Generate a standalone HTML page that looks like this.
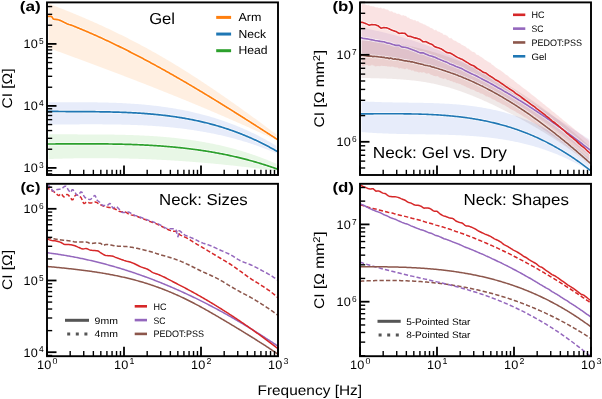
<!DOCTYPE html>
<html><head><meta charset="utf-8"><style>html,body{margin:0;padding:0;background:#fff;}svg{display:block;will-change:transform;text-rendering:geometricPrecision;font-family:"Liberation Sans", sans-serif;}</style></head><body>
<svg xmlns="http://www.w3.org/2000/svg" width="602" height="399" viewBox="0 0 602 399">
<rect x="0" y="0" width="602" height="399" fill="#fff"/>
<defs>
<clipPath id="clipa"><rect x="47" y="2.4" width="231" height="172.6"/></clipPath>
<clipPath id="bclipa"><rect x="48.6" y="4.0" width="227.8" height="169.4"/></clipPath>
<clipPath id="clipb"><rect x="360" y="2.4" width="231" height="172.6"/></clipPath>
<clipPath id="bclipb"><rect x="361.6" y="4.0" width="227.8" height="169.4"/></clipPath>
<clipPath id="clipc"><rect x="47" y="183.8" width="231" height="172.39999999999998"/></clipPath>
<clipPath id="bclipc"><rect x="48.6" y="185.4" width="227.8" height="169.2"/></clipPath>
<clipPath id="clipd"><rect x="360" y="183.8" width="231" height="172.39999999999998"/></clipPath>
<clipPath id="bclipd"><rect x="361.6" y="185.4" width="227.8" height="169.2"/></clipPath>
</defs>
<path d="M47.0,3.08 L48.0,3.45 L49.0,3.82 L50.0,4.20 L51.0,4.58 L52.0,4.96 L53.0,5.34 L54.0,5.72 L55.0,6.10 L56.0,6.49 L57.0,6.87 L58.0,7.26 L59.0,7.65 L60.0,8.04 L61.0,8.43 L62.0,8.82 L63.0,9.22 L64.0,9.61 L65.0,10.01 L66.0,10.41 L67.0,10.81 L68.0,11.21 L69.0,11.61 L70.0,12.02 L71.0,12.43 L72.0,12.83 L73.0,13.24 L74.0,13.66 L75.0,14.07 L76.0,14.48 L77.0,14.90 L78.0,15.32 L79.0,15.73 L80.0,16.15 L81.0,16.58 L82.0,17.00 L83.0,17.43 L84.0,17.85 L85.0,18.28 L86.0,18.71 L87.0,19.14 L88.0,19.58 L89.0,20.01 L90.0,20.45 L91.0,20.89 L92.0,21.33 L93.0,21.77 L94.0,22.22 L95.0,22.66 L96.0,23.11 L97.0,23.56 L98.0,24.01 L99.0,24.46 L100.0,24.91 L101.0,25.37 L102.0,25.83 L103.0,26.29 L104.0,26.75 L105.0,27.21 L106.0,27.68 L107.0,28.14 L108.0,28.61 L109.0,29.08 L110.0,29.55 L111.0,30.03 L112.0,30.50 L113.0,30.98 L114.0,31.46 L115.0,31.94 L116.0,32.42 L117.0,32.91 L118.0,33.40 L119.0,33.89 L120.0,34.38 L121.0,34.87 L122.0,35.36 L123.0,35.86 L124.0,36.36 L125.0,36.86 L126.0,37.36 L127.0,37.87 L128.0,38.37 L129.0,38.88 L130.0,39.39 L131.0,39.90 L132.0,40.42 L133.0,40.93 L134.0,41.45 L135.0,41.97 L136.0,42.49 L137.0,43.02 L138.0,43.54 L139.0,44.07 L140.0,44.60 L141.0,45.14 L142.0,45.67 L143.0,46.21 L144.0,46.75 L145.0,47.29 L146.0,47.83 L147.0,48.37 L148.0,48.92 L149.0,49.47 L150.0,50.02 L151.0,50.57 L152.0,51.13 L153.0,51.69 L154.0,52.25 L155.0,52.81 L156.0,53.37 L157.0,53.94 L158.0,54.51 L159.0,55.08 L160.0,55.65 L161.0,56.23 L162.0,56.81 L163.0,57.39 L164.0,57.97 L165.0,58.55 L166.0,59.14 L167.0,59.73 L168.0,60.32 L169.0,60.91 L170.0,61.51 L171.0,62.11 L172.0,62.71 L173.0,63.31 L174.0,63.91 L175.0,64.52 L176.0,65.13 L177.0,65.74 L178.0,66.35 L179.0,66.96 L180.0,67.58 L181.0,68.20 L182.0,68.82 L183.0,69.44 L184.0,70.07 L185.0,70.70 L186.0,71.32 L187.0,71.96 L188.0,72.59 L189.0,73.22 L190.0,73.86 L191.0,74.50 L192.0,75.14 L193.0,75.78 L194.0,76.42 L195.0,77.07 L196.0,77.72 L197.0,78.37 L198.0,79.02 L199.0,79.67 L200.0,80.33 L201.0,80.98 L202.0,81.64 L203.0,82.30 L204.0,82.96 L205.0,83.63 L206.0,84.29 L207.0,84.96 L208.0,85.63 L209.0,86.30 L210.0,86.97 L211.0,87.64 L212.0,88.32 L213.0,89.00 L214.0,89.67 L215.0,90.35 L216.0,91.03 L217.0,91.72 L218.0,92.40 L219.0,93.09 L220.0,93.77 L221.0,94.46 L222.0,95.15 L223.0,95.84 L224.0,96.54 L225.0,97.23 L226.0,97.93 L227.0,98.62 L228.0,99.32 L229.0,100.02 L230.0,100.72 L231.0,101.42 L232.0,102.13 L233.0,102.83 L234.0,103.54 L235.0,104.24 L236.0,104.95 L237.0,105.66 L238.0,106.37 L239.0,107.08 L240.0,107.80 L241.0,108.51 L242.0,109.23 L243.0,109.94 L244.0,110.66 L245.0,111.38 L246.0,112.10 L247.0,112.82 L248.0,113.54 L249.0,114.26 L250.0,114.99 L251.0,115.71 L252.0,116.44 L253.0,117.17 L254.0,117.89 L255.0,118.62 L256.0,119.35 L257.0,120.08 L258.0,120.81 L259.0,121.55 L260.0,122.28 L261.0,123.01 L262.0,123.75 L263.0,124.48 L264.0,125.22 L265.0,125.96 L266.0,126.69 L267.0,127.43 L268.0,128.17 L269.0,128.91 L270.0,129.65 L271.0,130.39 L272.0,131.14 L273.0,131.88 L274.0,132.62 L275.0,133.37 L276.0,134.11 L277.0,134.86 L278.0,135.60 L278.0,140.93 L277.0,140.46 L276.0,139.99 L275.0,139.52 L274.0,139.05 L273.0,138.58 L272.0,138.11 L271.0,137.65 L270.0,137.18 L269.0,136.72 L268.0,136.25 L267.0,135.79 L266.0,135.33 L265.0,134.86 L264.0,134.40 L263.0,133.94 L262.0,133.48 L261.0,133.02 L260.0,132.56 L259.0,132.11 L258.0,131.65 L257.0,131.19 L256.0,130.74 L255.0,130.28 L254.0,129.83 L253.0,129.38 L252.0,128.92 L251.0,128.47 L250.0,128.02 L249.0,127.57 L248.0,127.12 L247.0,126.67 L246.0,126.22 L245.0,125.78 L244.0,125.33 L243.0,124.88 L242.0,124.44 L241.0,123.99 L240.0,123.55 L239.0,123.11 L238.0,122.66 L237.0,122.22 L236.0,121.78 L235.0,121.34 L234.0,120.90 L233.0,120.46 L232.0,120.02 L231.0,119.58 L230.0,119.15 L229.0,118.71 L228.0,118.27 L227.0,117.84 L226.0,117.41 L225.0,116.97 L224.0,116.54 L223.0,116.11 L222.0,115.67 L221.0,115.24 L220.0,114.81 L219.0,114.38 L218.0,113.95 L217.0,113.52 L216.0,113.10 L215.0,112.67 L214.0,112.24 L213.0,111.81 L212.0,111.39 L211.0,110.96 L210.0,110.54 L209.0,110.12 L208.0,109.69 L207.0,109.27 L206.0,108.85 L205.0,108.43 L204.0,108.01 L203.0,107.59 L202.0,107.17 L201.0,106.75 L200.0,106.33 L199.0,105.91 L198.0,105.49 L197.0,105.08 L196.0,104.66 L195.0,104.24 L194.0,103.83 L193.0,103.42 L192.0,103.00 L191.0,102.59 L190.0,102.18 L189.0,101.76 L188.0,101.35 L187.0,100.94 L186.0,100.53 L185.0,100.12 L184.0,99.71 L183.0,99.30 L182.0,98.89 L181.0,98.48 L180.0,98.08 L179.0,97.67 L178.0,97.26 L177.0,96.86 L176.0,96.45 L175.0,96.05 L174.0,95.64 L173.0,95.24 L172.0,94.84 L171.0,94.43 L170.0,94.03 L169.0,93.63 L168.0,93.23 L167.0,92.83 L166.0,92.43 L165.0,92.03 L164.0,91.63 L163.0,91.23 L162.0,90.83 L161.0,90.43 L160.0,90.03 L159.0,89.64 L158.0,89.24 L157.0,88.84 L156.0,88.45 L155.0,88.05 L154.0,87.66 L153.0,87.26 L152.0,86.87 L151.0,86.47 L150.0,86.08 L149.0,85.69 L148.0,85.30 L147.0,84.90 L146.0,84.51 L145.0,84.12 L144.0,83.73 L143.0,83.34 L142.0,82.95 L141.0,82.56 L140.0,82.17 L139.0,81.78 L138.0,81.40 L137.0,81.01 L136.0,80.62 L135.0,80.23 L134.0,79.85 L133.0,79.46 L132.0,79.08 L131.0,78.69 L130.0,78.31 L129.0,77.92 L128.0,77.54 L127.0,77.15 L126.0,76.77 L125.0,76.39 L124.0,76.00 L123.0,75.62 L122.0,75.24 L121.0,74.86 L120.0,74.48 L119.0,74.09 L118.0,73.71 L117.0,73.33 L116.0,72.95 L115.0,72.57 L114.0,72.19 L113.0,71.82 L112.0,71.44 L111.0,71.06 L110.0,70.68 L109.0,70.30 L108.0,69.93 L107.0,69.55 L106.0,69.17 L105.0,68.79 L104.0,68.42 L103.0,68.04 L102.0,67.67 L101.0,67.29 L100.0,66.92 L99.0,66.54 L98.0,66.17 L97.0,65.79 L96.0,65.42 L95.0,65.05 L94.0,64.67 L93.0,64.30 L92.0,63.93 L91.0,63.55 L90.0,63.18 L89.0,62.81 L88.0,62.44 L87.0,62.07 L86.0,61.70 L85.0,61.32 L84.0,60.95 L83.0,60.58 L82.0,60.21 L81.0,59.84 L80.0,59.47 L79.0,59.10 L78.0,58.73 L77.0,58.37 L76.0,58.00 L75.0,57.63 L74.0,57.26 L73.0,56.89 L72.0,56.52 L71.0,56.16 L70.0,55.79 L69.0,55.42 L68.0,55.05 L67.0,54.69 L66.0,54.32 L65.0,53.95 L64.0,53.59 L63.0,53.22 L62.0,52.85 L61.0,52.49 L60.0,52.12 L59.0,51.76 L58.0,51.39 L57.0,51.03 L56.0,50.66 L55.0,50.30 L54.0,49.93 L53.0,49.57 L52.0,49.20 L51.0,48.84 L50.0,48.48 L49.0,48.11 L48.0,47.75 L47.0,47.38Z" fill="#ff7f0e" fill-opacity="0.125" clip-path="url(#bclipa)"/>
<path d="M47.0,102.26 L48.0,102.26 L49.0,102.26 L50.0,102.25 L51.0,102.25 L52.0,102.25 L53.0,102.25 L54.0,102.25 L55.0,102.24 L56.0,102.24 L57.0,102.24 L58.0,102.24 L59.0,102.23 L60.0,102.23 L61.0,102.23 L62.0,102.23 L63.0,102.22 L64.0,102.22 L65.0,102.22 L66.0,102.22 L67.0,102.21 L68.0,102.21 L69.0,102.21 L70.0,102.21 L71.0,102.21 L72.0,102.21 L73.0,102.21 L74.0,102.21 L75.0,102.21 L76.0,102.21 L77.0,102.21 L78.0,102.21 L79.0,102.21 L80.0,102.22 L81.0,102.22 L82.0,102.22 L83.0,102.23 L84.0,102.23 L85.0,102.24 L86.0,102.24 L87.0,102.25 L88.0,102.26 L89.0,102.27 L90.0,102.27 L91.0,102.28 L92.0,102.29 L93.0,102.31 L94.0,102.32 L95.0,102.33 L96.0,102.35 L97.0,102.36 L98.0,102.38 L99.0,102.39 L100.0,102.41 L101.0,102.43 L102.0,102.45 L103.0,102.47 L104.0,102.50 L105.0,102.52 L106.0,102.54 L107.0,102.57 L108.0,102.60 L109.0,102.63 L110.0,102.66 L111.0,102.69 L112.0,102.72 L113.0,102.75 L114.0,102.79 L115.0,102.83 L116.0,102.86 L117.0,102.90 L118.0,102.94 L119.0,102.99 L120.0,103.03 L121.0,103.08 L122.0,103.12 L123.0,103.17 L124.0,103.22 L125.0,103.28 L126.0,103.33 L127.0,103.38 L128.0,103.44 L129.0,103.50 L130.0,103.56 L131.0,103.63 L132.0,103.69 L133.0,103.76 L134.0,103.83 L135.0,103.90 L136.0,103.97 L137.0,104.04 L138.0,104.12 L139.0,104.20 L140.0,104.28 L141.0,104.36 L142.0,104.45 L143.0,104.53 L144.0,104.62 L145.0,104.71 L146.0,104.81 L147.0,104.90 L148.0,105.00 L149.0,105.10 L150.0,105.20 L151.0,105.31 L152.0,105.41 L153.0,105.52 L154.0,105.64 L155.0,105.75 L156.0,105.87 L157.0,105.99 L158.0,106.11 L159.0,106.24 L160.0,106.36 L161.0,106.49 L162.0,106.63 L163.0,106.76 L164.0,106.90 L165.0,107.04 L166.0,107.18 L167.0,107.33 L168.0,107.48 L169.0,107.63 L170.0,107.78 L171.0,107.94 L172.0,108.10 L173.0,108.27 L174.0,108.43 L175.0,108.60 L176.0,108.77 L177.0,108.95 L178.0,109.13 L179.0,109.31 L180.0,109.49 L181.0,109.68 L182.0,109.87 L183.0,110.07 L184.0,110.26 L185.0,110.46 L186.0,110.67 L187.0,110.87 L188.0,111.08 L189.0,111.30 L190.0,111.52 L191.0,111.74 L192.0,111.96 L193.0,112.19 L194.0,112.42 L195.0,112.65 L196.0,112.89 L197.0,113.13 L198.0,113.38 L199.0,113.62 L200.0,113.88 L201.0,114.13 L202.0,114.39 L203.0,114.66 L204.0,114.92 L205.0,115.19 L206.0,115.47 L207.0,115.75 L208.0,116.03 L209.0,116.31 L210.0,116.60 L211.0,116.90 L212.0,117.20 L213.0,117.50 L214.0,117.80 L215.0,118.11 L216.0,118.43 L217.0,118.75 L218.0,119.07 L219.0,119.39 L220.0,119.72 L221.0,120.06 L222.0,120.40 L223.0,120.74 L224.0,121.09 L225.0,121.44 L226.0,121.79 L227.0,122.15 L228.0,122.52 L229.0,122.89 L230.0,123.26 L231.0,123.64 L232.0,124.02 L233.0,124.41 L234.0,124.80 L235.0,125.19 L236.0,125.59 L237.0,126.00 L238.0,126.41 L239.0,126.82 L240.0,127.24 L241.0,127.66 L242.0,128.09 L243.0,128.52 L244.0,128.96 L245.0,129.40 L246.0,129.85 L247.0,130.30 L248.0,130.76 L249.0,131.22 L250.0,131.69 L251.0,132.16 L252.0,132.64 L253.0,133.12 L254.0,133.61 L255.0,134.10 L256.0,134.60 L257.0,135.10 L258.0,135.61 L259.0,136.12 L260.0,136.64 L261.0,137.16 L262.0,137.69 L263.0,138.22 L264.0,138.76 L265.0,139.30 L266.0,139.85 L267.0,140.41 L268.0,140.97 L269.0,141.53 L270.0,142.10 L271.0,142.68 L272.0,143.26 L273.0,143.85 L274.0,144.44 L275.0,145.04 L276.0,145.64 L277.0,146.25 L278.0,146.87 L278.0,153.97 L277.0,153.54 L276.0,153.11 L275.0,152.68 L274.0,152.26 L273.0,151.84 L272.0,151.43 L271.0,151.02 L270.0,150.61 L269.0,150.21 L268.0,149.81 L267.0,149.42 L266.0,149.03 L265.0,148.64 L264.0,148.26 L263.0,147.88 L262.0,147.51 L261.0,147.14 L260.0,146.77 L259.0,146.41 L258.0,146.05 L257.0,145.70 L256.0,145.35 L255.0,145.00 L254.0,144.66 L253.0,144.32 L252.0,143.99 L251.0,143.65 L250.0,143.33 L249.0,143.00 L248.0,142.68 L247.0,142.36 L246.0,142.05 L245.0,141.74 L244.0,141.44 L243.0,141.13 L242.0,140.84 L241.0,140.54 L240.0,140.25 L239.0,139.96 L238.0,139.67 L237.0,139.39 L236.0,139.12 L235.0,138.84 L234.0,138.57 L233.0,138.30 L232.0,138.04 L231.0,137.78 L230.0,137.52 L229.0,137.26 L228.0,137.01 L227.0,136.76 L226.0,136.52 L225.0,136.28 L224.0,136.04 L223.0,135.80 L222.0,135.57 L221.0,135.34 L220.0,135.12 L219.0,134.89 L218.0,134.67 L217.0,134.46 L216.0,134.24 L215.0,134.03 L214.0,133.82 L213.0,133.62 L212.0,133.42 L211.0,133.22 L210.0,133.02 L209.0,132.83 L208.0,132.64 L207.0,132.45 L206.0,132.26 L205.0,132.08 L204.0,131.90 L203.0,131.73 L202.0,131.55 L201.0,131.38 L200.0,131.21 L199.0,131.05 L198.0,130.88 L197.0,130.72 L196.0,130.57 L195.0,130.41 L194.0,130.26 L193.0,130.11 L192.0,129.96 L191.0,129.81 L190.0,129.67 L189.0,129.53 L188.0,129.39 L187.0,129.26 L186.0,129.12 L185.0,128.99 L184.0,128.86 L183.0,128.74 L182.0,128.61 L181.0,128.49 L180.0,128.37 L179.0,128.26 L178.0,128.14 L177.0,128.03 L176.0,127.92 L175.0,127.81 L174.0,127.71 L173.0,127.60 L172.0,127.50 L171.0,127.40 L170.0,127.30 L169.0,127.21 L168.0,127.11 L167.0,127.02 L166.0,126.93 L165.0,126.84 L164.0,126.76 L163.0,126.67 L162.0,126.59 L161.0,126.51 L160.0,126.43 L159.0,126.36 L158.0,126.28 L157.0,126.21 L156.0,126.14 L155.0,126.07 L154.0,126.00 L153.0,125.94 L152.0,125.87 L151.0,125.81 L150.0,125.75 L149.0,125.69 L148.0,125.63 L147.0,125.58 L146.0,125.52 L145.0,125.47 L144.0,125.42 L143.0,125.37 L142.0,125.32 L141.0,125.27 L140.0,125.23 L139.0,125.19 L138.0,125.14 L137.0,125.10 L136.0,125.06 L135.0,125.02 L134.0,124.99 L133.0,124.95 L132.0,124.92 L131.0,124.88 L130.0,124.85 L129.0,124.82 L128.0,124.79 L127.0,124.76 L126.0,124.73 L125.0,124.71 L124.0,124.68 L123.0,124.66 L122.0,124.64 L121.0,124.61 L120.0,124.59 L119.0,124.57 L118.0,124.56 L117.0,124.54 L116.0,124.52 L115.0,124.51 L114.0,124.49 L113.0,124.48 L112.0,124.46 L111.0,124.45 L110.0,124.44 L109.0,124.43 L108.0,124.42 L107.0,124.41 L106.0,124.40 L105.0,124.39 L104.0,124.39 L103.0,124.38 L102.0,124.37 L101.0,124.37 L100.0,124.36 L99.0,124.36 L98.0,124.36 L97.0,124.35 L96.0,124.35 L95.0,124.35 L94.0,124.35 L93.0,124.35 L92.0,124.35 L91.0,124.35 L90.0,124.35 L89.0,124.35 L88.0,124.35 L87.0,124.35 L86.0,124.36 L85.0,124.36 L84.0,124.36 L83.0,124.36 L82.0,124.37 L81.0,124.37 L80.0,124.37 L79.0,124.38 L78.0,124.38 L77.0,124.39 L76.0,124.39 L75.0,124.39 L74.0,124.40 L73.0,124.40 L72.0,124.41 L71.0,124.41 L70.0,124.42 L69.0,124.42 L68.0,124.43 L67.0,124.43 L66.0,124.44 L65.0,124.44 L64.0,124.44 L63.0,124.45 L62.0,124.45 L61.0,124.46 L60.0,124.46 L59.0,124.46 L58.0,124.47 L57.0,124.47 L56.0,124.47 L55.0,124.47 L54.0,124.48 L53.0,124.48 L52.0,124.48 L51.0,124.48 L50.0,124.48 L49.0,124.48 L48.0,124.48 L47.0,124.48Z" fill="#3761d5" fill-opacity="0.12" clip-path="url(#bclipa)"/>
<path d="M47.0,134.22 L48.0,134.23 L49.0,134.24 L50.0,134.25 L51.0,134.26 L52.0,134.27 L53.0,134.28 L54.0,134.29 L55.0,134.29 L56.0,134.30 L57.0,134.31 L58.0,134.31 L59.0,134.32 L60.0,134.32 L61.0,134.33 L62.0,134.33 L63.0,134.34 L64.0,134.34 L65.0,134.35 L66.0,134.35 L67.0,134.35 L68.0,134.36 L69.0,134.36 L70.0,134.36 L71.0,134.36 L72.0,134.36 L73.0,134.37 L74.0,134.37 L75.0,134.37 L76.0,134.37 L77.0,134.37 L78.0,134.38 L79.0,134.38 L80.0,134.38 L81.0,134.38 L82.0,134.38 L83.0,134.39 L84.0,134.39 L85.0,134.39 L86.0,134.39 L87.0,134.40 L88.0,134.40 L89.0,134.40 L90.0,134.40 L91.0,134.41 L92.0,134.41 L93.0,134.42 L94.0,134.42 L95.0,134.43 L96.0,134.43 L97.0,134.44 L98.0,134.44 L99.0,134.45 L100.0,134.46 L101.0,134.47 L102.0,134.47 L103.0,134.48 L104.0,134.49 L105.0,134.50 L106.0,134.51 L107.0,134.52 L108.0,134.53 L109.0,134.55 L110.0,134.56 L111.0,134.57 L112.0,134.59 L113.0,134.60 L114.0,134.62 L115.0,134.64 L116.0,134.65 L117.0,134.67 L118.0,134.69 L119.0,134.71 L120.0,134.73 L121.0,134.76 L122.0,134.78 L123.0,134.80 L124.0,134.83 L125.0,134.86 L126.0,134.88 L127.0,134.91 L128.0,134.94 L129.0,134.97 L130.0,135.00 L131.0,135.04 L132.0,135.07 L133.0,135.11 L134.0,135.14 L135.0,135.18 L136.0,135.22 L137.0,135.26 L138.0,135.30 L139.0,135.34 L140.0,135.39 L141.0,135.44 L142.0,135.48 L143.0,135.53 L144.0,135.58 L145.0,135.63 L146.0,135.69 L147.0,135.74 L148.0,135.80 L149.0,135.85 L150.0,135.91 L151.0,135.97 L152.0,136.04 L153.0,136.10 L154.0,136.17 L155.0,136.23 L156.0,136.30 L157.0,136.37 L158.0,136.45 L159.0,136.52 L160.0,136.60 L161.0,136.68 L162.0,136.76 L163.0,136.84 L164.0,136.92 L165.0,137.01 L166.0,137.10 L167.0,137.18 L168.0,137.28 L169.0,137.37 L170.0,137.47 L171.0,137.56 L172.0,137.66 L173.0,137.76 L174.0,137.87 L175.0,137.97 L176.0,138.08 L177.0,138.19 L178.0,138.31 L179.0,138.42 L180.0,138.54 L181.0,138.66 L182.0,138.78 L183.0,138.90 L184.0,139.03 L185.0,139.16 L186.0,139.29 L187.0,139.42 L188.0,139.56 L189.0,139.70 L190.0,139.84 L191.0,139.98 L192.0,140.13 L193.0,140.27 L194.0,140.43 L195.0,140.58 L196.0,140.74 L197.0,140.89 L198.0,141.06 L199.0,141.22 L200.0,141.39 L201.0,141.56 L202.0,141.73 L203.0,141.90 L204.0,142.08 L205.0,142.26 L206.0,142.44 L207.0,142.63 L208.0,142.82 L209.0,143.01 L210.0,143.21 L211.0,143.40 L212.0,143.60 L213.0,143.81 L214.0,144.02 L215.0,144.23 L216.0,144.44 L217.0,144.65 L218.0,144.87 L219.0,145.09 L220.0,145.32 L221.0,145.55 L222.0,145.78 L223.0,146.01 L224.0,146.25 L225.0,146.49 L226.0,146.74 L227.0,146.99 L228.0,147.24 L229.0,147.49 L230.0,147.75 L231.0,148.01 L232.0,148.28 L233.0,148.54 L234.0,148.81 L235.0,149.09 L236.0,149.37 L237.0,149.65 L238.0,149.94 L239.0,150.22 L240.0,150.52 L241.0,150.81 L242.0,151.11 L243.0,151.42 L244.0,151.72 L245.0,152.03 L246.0,152.35 L247.0,152.67 L248.0,152.99 L249.0,153.31 L250.0,153.64 L251.0,153.98 L252.0,154.31 L253.0,154.66 L254.0,155.00 L255.0,155.35 L256.0,155.70 L257.0,156.06 L258.0,156.42 L259.0,156.78 L260.0,157.15 L261.0,157.53 L262.0,157.90 L263.0,158.28 L264.0,158.67 L265.0,159.06 L266.0,159.45 L267.0,159.85 L268.0,160.25 L269.0,160.66 L270.0,161.07 L271.0,161.48 L272.0,161.90 L273.0,162.32 L274.0,162.75 L275.0,163.18 L276.0,163.62 L277.0,164.06 L278.0,164.50 L278.0,171.33 L277.0,171.18 L276.0,171.04 L275.0,170.90 L274.0,170.76 L273.0,170.62 L272.0,170.48 L271.0,170.34 L270.0,170.20 L269.0,170.06 L268.0,169.92 L267.0,169.79 L266.0,169.65 L265.0,169.51 L264.0,169.38 L263.0,169.25 L262.0,169.12 L261.0,168.98 L260.0,168.85 L259.0,168.72 L258.0,168.59 L257.0,168.47 L256.0,168.34 L255.0,168.21 L254.0,168.08 L253.0,167.96 L252.0,167.84 L251.0,167.71 L250.0,167.59 L249.0,167.47 L248.0,167.35 L247.0,167.22 L246.0,167.11 L245.0,166.99 L244.0,166.87 L243.0,166.75 L242.0,166.63 L241.0,166.52 L240.0,166.40 L239.0,166.29 L238.0,166.18 L237.0,166.06 L236.0,165.95 L235.0,165.84 L234.0,165.73 L233.0,165.62 L232.0,165.51 L231.0,165.41 L230.0,165.30 L229.0,165.19 L228.0,165.09 L227.0,164.98 L226.0,164.88 L225.0,164.78 L224.0,164.67 L223.0,164.57 L222.0,164.47 L221.0,164.37 L220.0,164.27 L219.0,164.18 L218.0,164.08 L217.0,163.98 L216.0,163.89 L215.0,163.79 L214.0,163.70 L213.0,163.60 L212.0,163.51 L211.0,163.42 L210.0,163.33 L209.0,163.24 L208.0,163.15 L207.0,163.06 L206.0,162.97 L205.0,162.89 L204.0,162.80 L203.0,162.71 L202.0,162.63 L201.0,162.55 L200.0,162.46 L199.0,162.38 L198.0,162.30 L197.0,162.22 L196.0,162.14 L195.0,162.06 L194.0,161.98 L193.0,161.90 L192.0,161.83 L191.0,161.75 L190.0,161.68 L189.0,161.60 L188.0,161.53 L187.0,161.46 L186.0,161.38 L185.0,161.31 L184.0,161.24 L183.0,161.17 L182.0,161.10 L181.0,161.04 L180.0,160.97 L179.0,160.90 L178.0,160.84 L177.0,160.77 L176.0,160.71 L175.0,160.65 L174.0,160.58 L173.0,160.52 L172.0,160.46 L171.0,160.40 L170.0,160.34 L169.0,160.28 L168.0,160.23 L167.0,160.17 L166.0,160.11 L165.0,160.06 L164.0,160.00 L163.0,159.95 L162.0,159.90 L161.0,159.85 L160.0,159.79 L159.0,159.74 L158.0,159.69 L157.0,159.65 L156.0,159.60 L155.0,159.55 L154.0,159.50 L153.0,159.46 L152.0,159.41 L151.0,159.37 L150.0,159.33 L149.0,159.28 L148.0,159.24 L147.0,159.20 L146.0,159.16 L145.0,159.12 L144.0,159.08 L143.0,159.05 L142.0,159.01 L141.0,158.97 L140.0,158.94 L139.0,158.90 L138.0,158.87 L137.0,158.84 L136.0,158.80 L135.0,158.77 L134.0,158.74 L133.0,158.71 L132.0,158.68 L131.0,158.66 L130.0,158.63 L129.0,158.60 L128.0,158.58 L127.0,158.55 L126.0,158.53 L125.0,158.50 L124.0,158.48 L123.0,158.46 L122.0,158.44 L121.0,158.42 L120.0,158.40 L119.0,158.38 L118.0,158.36 L117.0,158.34 L116.0,158.33 L115.0,158.31 L114.0,158.30 L113.0,158.28 L112.0,158.27 L111.0,158.26 L110.0,158.25 L109.0,158.24 L108.0,158.23 L107.0,158.22 L106.0,158.21 L105.0,158.20 L104.0,158.20 L103.0,158.19 L102.0,158.18 L101.0,158.18 L100.0,158.18 L99.0,158.17 L98.0,158.17 L97.0,158.17 L96.0,158.17 L95.0,158.17 L94.0,158.17 L93.0,158.17 L92.0,158.18 L91.0,158.18 L90.0,158.19 L89.0,158.19 L88.0,158.20 L87.0,158.20 L86.0,158.21 L85.0,158.22 L84.0,158.23 L83.0,158.24 L82.0,158.25 L81.0,158.26 L80.0,158.27 L79.0,158.29 L78.0,158.30 L77.0,158.32 L76.0,158.33 L75.0,158.35 L74.0,158.36 L73.0,158.38 L72.0,158.40 L71.0,158.42 L70.0,158.44 L69.0,158.46 L68.0,158.48 L67.0,158.51 L66.0,158.53 L65.0,158.56 L64.0,158.58 L63.0,158.61 L62.0,158.63 L61.0,158.66 L60.0,158.69 L59.0,158.72 L58.0,158.75 L57.0,158.78 L56.0,158.81 L55.0,158.84 L54.0,158.87 L53.0,158.91 L52.0,158.94 L51.0,158.98 L50.0,159.01 L49.0,159.05 L48.0,159.09 L47.0,159.13Z" fill="#3fbc2f" fill-opacity="0.12" clip-path="url(#bclipa)"/>
<polyline points="47.0,16.30 48.0,16.30 49.0,16.30 50.0,16.30 51.0,16.30 52.0,16.93 53.0,18.65 54.0,19.22 55.0,19.37 56.0,19.46 57.0,19.55 58.0,19.70 59.0,19.98 60.0,20.37 61.0,20.80 62.0,21.26 63.0,21.78 64.0,22.30 65.0,22.78 66.0,23.24 67.0,23.68 68.0,24.09 69.0,24.44 70.0,24.75 71.0,25.07 72.0,25.42 73.0,25.81 74.0,26.22 75.0,26.63 76.0,27.05 77.0,27.46 78.0,27.87 79.0,28.29 80.0,28.71 81.0,29.12 82.0,29.54 83.0,29.96 84.0,30.37 85.0,30.79 86.0,31.21 87.0,31.62 88.0,32.05 89.0,32.49 90.0,32.92 91.0,33.36 92.0,33.80 93.0,34.24 94.0,34.69 95.0,35.13 96.0,35.58 97.0,36.03 98.0,36.48 99.0,36.93 100.0,37.39 101.0,37.84 102.0,38.30 103.0,38.76 104.0,39.23 105.0,39.69 106.0,40.16 107.0,40.63 108.0,41.10 109.0,41.57 110.0,42.04 111.0,42.52 112.0,42.99 113.0,43.47 114.0,43.95 115.0,44.44 116.0,44.92 117.0,45.41 118.0,45.89 119.0,46.38 120.0,46.87 121.0,47.37 122.0,47.86 123.0,48.36 124.0,48.85 125.0,49.35 126.0,49.86 127.0,50.36 128.0,50.86 129.0,51.37 130.0,51.88 131.0,52.39 132.0,52.90 133.0,53.41 134.0,53.92 135.0,54.44 136.0,54.96 137.0,55.47 138.0,55.99 139.0,56.52 140.0,57.04 141.0,57.57 142.0,58.09 143.0,58.62 144.0,59.15 145.0,59.68 146.0,60.21 147.0,60.75 148.0,61.28 149.0,61.82 150.0,62.36 151.0,62.90 152.0,63.44 153.0,63.98 154.0,64.52 155.0,65.07 156.0,65.62 157.0,66.16 158.0,66.71 159.0,67.26 160.0,67.82 161.0,68.37 162.0,68.92 163.0,69.48 164.0,70.04 165.0,70.60 166.0,71.16 167.0,71.72 168.0,72.28 169.0,72.84 170.0,73.41 171.0,73.98 172.0,74.54 173.0,75.11 174.0,75.68 175.0,76.25 176.0,76.83 177.0,77.40 178.0,77.97 179.0,78.55 180.0,79.13 181.0,79.71 182.0,80.29 183.0,80.87 184.0,81.45 185.0,82.03 186.0,82.61 187.0,83.20 188.0,83.79 189.0,84.37 190.0,84.96 191.0,85.55 192.0,86.14 193.0,86.73 194.0,87.33 195.0,87.92 196.0,88.51 197.0,89.11 198.0,89.71 199.0,90.30 200.0,90.90 201.0,91.50 202.0,92.10 203.0,92.70 204.0,93.31 205.0,93.91 206.0,94.51 207.0,95.12 208.0,95.73 209.0,96.33 210.0,96.94 211.0,97.55 212.0,98.16 213.0,98.77 214.0,99.38 215.0,99.99 216.0,100.61 217.0,101.22 218.0,101.84 219.0,102.45 220.0,103.07 221.0,103.69 222.0,104.30 223.0,104.92 224.0,105.54 225.0,106.16 226.0,106.78 227.0,107.41 228.0,108.03 229.0,108.65 230.0,109.28 231.0,109.90 232.0,110.53 233.0,111.15 234.0,111.78 235.0,112.41 236.0,113.03 237.0,113.66 238.0,114.29 239.0,114.92 240.0,115.55 241.0,116.19 242.0,116.82 243.0,117.45 244.0,118.08 245.0,118.72 246.0,119.35 247.0,119.99 248.0,120.62 249.0,121.26 250.0,121.89 251.0,122.53 252.0,123.17 253.0,123.81 254.0,124.44 255.0,125.08 256.0,125.72 257.0,126.36 258.0,127.00 259.0,127.64 260.0,128.28 261.0,128.93 262.0,129.57 263.0,130.21 264.0,130.85 265.0,131.50 266.0,132.14 267.0,132.78 268.0,133.43 269.0,134.07 270.0,134.72 271.0,135.36 272.0,136.01 273.0,136.66 274.0,137.30 275.0,137.95 276.0,138.60 277.0,139.24 278.0,139.89" fill="none" stroke="#fff" stroke-opacity="0.6" stroke-width="3.5" stroke-linejoin="round" clip-path="url(#clipa)"/>
<polyline points="47.0,111.33 48.0,111.34 49.0,111.36 50.0,111.37 51.0,111.39 52.0,111.40 53.0,111.41 54.0,111.43 55.0,111.44 56.0,111.45 57.0,111.46 58.0,111.47 59.0,111.48 60.0,111.49 61.0,111.49 62.0,111.50 63.0,111.51 64.0,111.52 65.0,111.52 66.0,111.53 67.0,111.54 68.0,111.54 69.0,111.55 70.0,111.56 71.0,111.56 72.0,111.57 73.0,111.57 74.0,111.58 75.0,111.58 76.0,111.59 77.0,111.59 78.0,111.60 79.0,111.60 80.0,111.61 81.0,111.61 82.0,111.62 83.0,111.63 84.0,111.63 85.0,111.64 86.0,111.65 87.0,111.65 88.0,111.66 89.0,111.67 90.0,111.68 91.0,111.68 92.0,111.69 93.0,111.70 94.0,111.71 95.0,111.72 96.0,111.73 97.0,111.75 98.0,111.76 99.0,111.77 100.0,111.78 101.0,111.80 102.0,111.81 103.0,111.83 104.0,111.85 105.0,111.86 106.0,111.88 107.0,111.90 108.0,111.92 109.0,111.94 110.0,111.96 111.0,111.99 112.0,112.01 113.0,112.03 114.0,112.06 115.0,112.09 116.0,112.12 117.0,112.15 118.0,112.18 119.0,112.21 120.0,112.24 121.0,112.27 122.0,112.31 123.0,112.35 124.0,112.38 125.0,112.42 126.0,112.46 127.0,112.51 128.0,112.55 129.0,112.60 130.0,112.64 131.0,112.69 132.0,112.74 133.0,112.79 134.0,112.85 135.0,112.90 136.0,112.96 137.0,113.02 138.0,113.08 139.0,113.14 140.0,113.20 141.0,113.27 142.0,113.33 143.0,113.40 144.0,113.47 145.0,113.55 146.0,113.62 147.0,113.70 148.0,113.78 149.0,113.86 150.0,113.94 151.0,114.03 152.0,114.11 153.0,114.20 154.0,114.30 155.0,114.39 156.0,114.49 157.0,114.58 158.0,114.69 159.0,114.79 160.0,114.89 161.0,115.00 162.0,115.11 163.0,115.22 164.0,115.34 165.0,115.46 166.0,115.58 167.0,115.70 168.0,115.83 169.0,115.95 170.0,116.09 171.0,116.22 172.0,116.36 173.0,116.49 174.0,116.64 175.0,116.78 176.0,116.93 177.0,117.08 178.0,117.23 179.0,117.39 180.0,117.55 181.0,117.71 182.0,117.87 183.0,118.04 184.0,118.21 185.0,118.38 186.0,118.56 187.0,118.74 188.0,118.92 189.0,119.11 190.0,119.30 191.0,119.49 192.0,119.69 193.0,119.89 194.0,120.09 195.0,120.30 196.0,120.51 197.0,120.72 198.0,120.94 199.0,121.16 200.0,121.38 201.0,121.61 202.0,121.84 203.0,122.07 204.0,122.31 205.0,122.55 206.0,122.80 207.0,123.05 208.0,123.30 209.0,123.55 210.0,123.81 211.0,124.08 212.0,124.35 213.0,124.62 214.0,124.89 215.0,125.17 216.0,125.45 217.0,125.74 218.0,126.03 219.0,126.33 220.0,126.63 221.0,126.93 222.0,127.24 223.0,127.55 224.0,127.87 225.0,128.19 226.0,128.51 227.0,128.84 228.0,129.17 229.0,129.51 230.0,129.85 231.0,130.20 232.0,130.55 233.0,130.90 234.0,131.26 235.0,131.62 236.0,131.99 237.0,132.37 238.0,132.74 239.0,133.12 240.0,133.51 241.0,133.90 242.0,134.30 243.0,134.70 244.0,135.10 245.0,135.51 246.0,135.93 247.0,136.35 248.0,136.77 249.0,137.20 250.0,137.64 251.0,138.08 252.0,138.52 253.0,138.97 254.0,139.43 255.0,139.88 256.0,140.35 257.0,140.82 258.0,141.29 259.0,141.77 260.0,142.26 261.0,142.75 262.0,143.24 263.0,143.75 264.0,144.25 265.0,144.76 266.0,145.28 267.0,145.80 268.0,146.33 269.0,146.86 270.0,147.40 271.0,147.95 272.0,148.50 273.0,149.05 274.0,149.61 275.0,150.18 276.0,150.75 277.0,151.33 278.0,151.91" fill="none" stroke="#fff" stroke-opacity="0.6" stroke-width="3.5" stroke-linejoin="round" clip-path="url(#clipa)"/>
<polyline points="47.0,144.02 48.0,144.01 49.0,144.01 50.0,144.00 51.0,144.00 52.0,143.99 53.0,143.99 54.0,143.99 55.0,143.98 56.0,143.97 57.0,143.97 58.0,143.96 59.0,143.96 60.0,143.95 61.0,143.95 62.0,143.94 63.0,143.94 64.0,143.93 65.0,143.93 66.0,143.92 67.0,143.92 68.0,143.91 69.0,143.91 70.0,143.90 71.0,143.90 72.0,143.89 73.0,143.89 74.0,143.88 75.0,143.88 76.0,143.88 77.0,143.87 78.0,143.87 79.0,143.87 80.0,143.87 81.0,143.86 82.0,143.86 83.0,143.86 84.0,143.86 85.0,143.86 86.0,143.86 87.0,143.86 88.0,143.86 89.0,143.86 90.0,143.86 91.0,143.86 92.0,143.86 93.0,143.86 94.0,143.87 95.0,143.87 96.0,143.87 97.0,143.88 98.0,143.88 99.0,143.89 100.0,143.90 101.0,143.90 102.0,143.91 103.0,143.92 104.0,143.93 105.0,143.94 106.0,143.95 107.0,143.96 108.0,143.97 109.0,143.98 110.0,144.00 111.0,144.01 112.0,144.02 113.0,144.04 114.0,144.06 115.0,144.07 116.0,144.09 117.0,144.11 118.0,144.13 119.0,144.15 120.0,144.17 121.0,144.19 122.0,144.22 123.0,144.24 124.0,144.27 125.0,144.29 126.0,144.32 127.0,144.35 128.0,144.38 129.0,144.41 130.0,144.44 131.0,144.47 132.0,144.50 133.0,144.54 134.0,144.57 135.0,144.61 136.0,144.65 137.0,144.69 138.0,144.73 139.0,144.77 140.0,144.81 141.0,144.86 142.0,144.90 143.0,144.95 144.0,145.00 145.0,145.05 146.0,145.10 147.0,145.15 148.0,145.20 149.0,145.26 150.0,145.31 151.0,145.37 152.0,145.43 153.0,145.49 154.0,145.55 155.0,145.61 156.0,145.68 157.0,145.74 158.0,145.81 159.0,145.88 160.0,145.95 161.0,146.02 162.0,146.09 163.0,146.17 164.0,146.25 165.0,146.32 166.0,146.40 167.0,146.48 168.0,146.57 169.0,146.65 170.0,146.74 171.0,146.83 172.0,146.92 173.0,147.01 174.0,147.10 175.0,147.20 176.0,147.29 177.0,147.39 178.0,147.49 179.0,147.60 180.0,147.70 181.0,147.81 182.0,147.91 183.0,148.02 184.0,148.13 185.0,148.25 186.0,148.36 187.0,148.48 188.0,148.60 189.0,148.72 190.0,148.85 191.0,148.97 192.0,149.10 193.0,149.23 194.0,149.36 195.0,149.49 196.0,149.63 197.0,149.77 198.0,149.91 199.0,150.05 200.0,150.19 201.0,150.34 202.0,150.49 203.0,150.64 204.0,150.79 205.0,150.94 206.0,151.10 207.0,151.26 208.0,151.42 209.0,151.59 210.0,151.75 211.0,151.92 212.0,152.09 213.0,152.27 214.0,152.44 215.0,152.62 216.0,152.80 217.0,152.98 218.0,153.17 219.0,153.36 220.0,153.55 221.0,153.74 222.0,153.94 223.0,154.13 224.0,154.33 225.0,154.54 226.0,154.74 227.0,154.95 228.0,155.16 229.0,155.37 230.0,155.59 231.0,155.81 232.0,156.03 233.0,156.25 234.0,156.48 235.0,156.71 236.0,156.94 237.0,157.17 238.0,157.41 239.0,157.65 240.0,157.89 241.0,158.14 242.0,158.39 243.0,158.64 244.0,158.89 245.0,159.15 246.0,159.41 247.0,159.67 248.0,159.93 249.0,160.20 250.0,160.47 251.0,160.75 252.0,161.02 253.0,161.30 254.0,161.59 255.0,161.87 256.0,162.16 257.0,162.46 258.0,162.75 259.0,163.05 260.0,163.35 261.0,163.65 262.0,163.96 263.0,164.27 264.0,164.59 265.0,164.90 266.0,165.22 267.0,165.55 268.0,165.87 269.0,166.20 270.0,166.53 271.0,166.87 272.0,167.21 273.0,167.55 274.0,167.90 275.0,168.25 276.0,168.60 277.0,168.96 278.0,169.32" fill="none" stroke="#fff" stroke-opacity="0.6" stroke-width="3.5" stroke-linejoin="round" clip-path="url(#clipa)"/>
<polyline points="47.0,16.30 48.0,16.30 49.0,16.30 50.0,16.30 51.0,16.30 52.0,16.93 53.0,18.65 54.0,19.22 55.0,19.37 56.0,19.46 57.0,19.55 58.0,19.70 59.0,19.98 60.0,20.37 61.0,20.80 62.0,21.26 63.0,21.78 64.0,22.30 65.0,22.78 66.0,23.24 67.0,23.68 68.0,24.09 69.0,24.44 70.0,24.75 71.0,25.07 72.0,25.42 73.0,25.81 74.0,26.22 75.0,26.63 76.0,27.05 77.0,27.46 78.0,27.87 79.0,28.29 80.0,28.71 81.0,29.12 82.0,29.54 83.0,29.96 84.0,30.37 85.0,30.79 86.0,31.21 87.0,31.62 88.0,32.05 89.0,32.49 90.0,32.92 91.0,33.36 92.0,33.80 93.0,34.24 94.0,34.69 95.0,35.13 96.0,35.58 97.0,36.03 98.0,36.48 99.0,36.93 100.0,37.39 101.0,37.84 102.0,38.30 103.0,38.76 104.0,39.23 105.0,39.69 106.0,40.16 107.0,40.63 108.0,41.10 109.0,41.57 110.0,42.04 111.0,42.52 112.0,42.99 113.0,43.47 114.0,43.95 115.0,44.44 116.0,44.92 117.0,45.41 118.0,45.89 119.0,46.38 120.0,46.87 121.0,47.37 122.0,47.86 123.0,48.36 124.0,48.85 125.0,49.35 126.0,49.86 127.0,50.36 128.0,50.86 129.0,51.37 130.0,51.88 131.0,52.39 132.0,52.90 133.0,53.41 134.0,53.92 135.0,54.44 136.0,54.96 137.0,55.47 138.0,55.99 139.0,56.52 140.0,57.04 141.0,57.57 142.0,58.09 143.0,58.62 144.0,59.15 145.0,59.68 146.0,60.21 147.0,60.75 148.0,61.28 149.0,61.82 150.0,62.36 151.0,62.90 152.0,63.44 153.0,63.98 154.0,64.52 155.0,65.07 156.0,65.62 157.0,66.16 158.0,66.71 159.0,67.26 160.0,67.82 161.0,68.37 162.0,68.92 163.0,69.48 164.0,70.04 165.0,70.60 166.0,71.16 167.0,71.72 168.0,72.28 169.0,72.84 170.0,73.41 171.0,73.98 172.0,74.54 173.0,75.11 174.0,75.68 175.0,76.25 176.0,76.83 177.0,77.40 178.0,77.97 179.0,78.55 180.0,79.13 181.0,79.71 182.0,80.29 183.0,80.87 184.0,81.45 185.0,82.03 186.0,82.61 187.0,83.20 188.0,83.79 189.0,84.37 190.0,84.96 191.0,85.55 192.0,86.14 193.0,86.73 194.0,87.33 195.0,87.92 196.0,88.51 197.0,89.11 198.0,89.71 199.0,90.30 200.0,90.90 201.0,91.50 202.0,92.10 203.0,92.70 204.0,93.31 205.0,93.91 206.0,94.51 207.0,95.12 208.0,95.73 209.0,96.33 210.0,96.94 211.0,97.55 212.0,98.16 213.0,98.77 214.0,99.38 215.0,99.99 216.0,100.61 217.0,101.22 218.0,101.84 219.0,102.45 220.0,103.07 221.0,103.69 222.0,104.30 223.0,104.92 224.0,105.54 225.0,106.16 226.0,106.78 227.0,107.41 228.0,108.03 229.0,108.65 230.0,109.28 231.0,109.90 232.0,110.53 233.0,111.15 234.0,111.78 235.0,112.41 236.0,113.03 237.0,113.66 238.0,114.29 239.0,114.92 240.0,115.55 241.0,116.19 242.0,116.82 243.0,117.45 244.0,118.08 245.0,118.72 246.0,119.35 247.0,119.99 248.0,120.62 249.0,121.26 250.0,121.89 251.0,122.53 252.0,123.17 253.0,123.81 254.0,124.44 255.0,125.08 256.0,125.72 257.0,126.36 258.0,127.00 259.0,127.64 260.0,128.28 261.0,128.93 262.0,129.57 263.0,130.21 264.0,130.85 265.0,131.50 266.0,132.14 267.0,132.78 268.0,133.43 269.0,134.07 270.0,134.72 271.0,135.36 272.0,136.01 273.0,136.66 274.0,137.30 275.0,137.95 276.0,138.60 277.0,139.24 278.0,139.89" fill="none" stroke="#ff7f0e" stroke-width="1.7" stroke-linejoin="round" clip-path="url(#clipa)"/>
<polyline points="47.0,111.33 48.0,111.34 49.0,111.36 50.0,111.37 51.0,111.39 52.0,111.40 53.0,111.41 54.0,111.43 55.0,111.44 56.0,111.45 57.0,111.46 58.0,111.47 59.0,111.48 60.0,111.49 61.0,111.49 62.0,111.50 63.0,111.51 64.0,111.52 65.0,111.52 66.0,111.53 67.0,111.54 68.0,111.54 69.0,111.55 70.0,111.56 71.0,111.56 72.0,111.57 73.0,111.57 74.0,111.58 75.0,111.58 76.0,111.59 77.0,111.59 78.0,111.60 79.0,111.60 80.0,111.61 81.0,111.61 82.0,111.62 83.0,111.63 84.0,111.63 85.0,111.64 86.0,111.65 87.0,111.65 88.0,111.66 89.0,111.67 90.0,111.68 91.0,111.68 92.0,111.69 93.0,111.70 94.0,111.71 95.0,111.72 96.0,111.73 97.0,111.75 98.0,111.76 99.0,111.77 100.0,111.78 101.0,111.80 102.0,111.81 103.0,111.83 104.0,111.85 105.0,111.86 106.0,111.88 107.0,111.90 108.0,111.92 109.0,111.94 110.0,111.96 111.0,111.99 112.0,112.01 113.0,112.03 114.0,112.06 115.0,112.09 116.0,112.12 117.0,112.15 118.0,112.18 119.0,112.21 120.0,112.24 121.0,112.27 122.0,112.31 123.0,112.35 124.0,112.38 125.0,112.42 126.0,112.46 127.0,112.51 128.0,112.55 129.0,112.60 130.0,112.64 131.0,112.69 132.0,112.74 133.0,112.79 134.0,112.85 135.0,112.90 136.0,112.96 137.0,113.02 138.0,113.08 139.0,113.14 140.0,113.20 141.0,113.27 142.0,113.33 143.0,113.40 144.0,113.47 145.0,113.55 146.0,113.62 147.0,113.70 148.0,113.78 149.0,113.86 150.0,113.94 151.0,114.03 152.0,114.11 153.0,114.20 154.0,114.30 155.0,114.39 156.0,114.49 157.0,114.58 158.0,114.69 159.0,114.79 160.0,114.89 161.0,115.00 162.0,115.11 163.0,115.22 164.0,115.34 165.0,115.46 166.0,115.58 167.0,115.70 168.0,115.83 169.0,115.95 170.0,116.09 171.0,116.22 172.0,116.36 173.0,116.49 174.0,116.64 175.0,116.78 176.0,116.93 177.0,117.08 178.0,117.23 179.0,117.39 180.0,117.55 181.0,117.71 182.0,117.87 183.0,118.04 184.0,118.21 185.0,118.38 186.0,118.56 187.0,118.74 188.0,118.92 189.0,119.11 190.0,119.30 191.0,119.49 192.0,119.69 193.0,119.89 194.0,120.09 195.0,120.30 196.0,120.51 197.0,120.72 198.0,120.94 199.0,121.16 200.0,121.38 201.0,121.61 202.0,121.84 203.0,122.07 204.0,122.31 205.0,122.55 206.0,122.80 207.0,123.05 208.0,123.30 209.0,123.55 210.0,123.81 211.0,124.08 212.0,124.35 213.0,124.62 214.0,124.89 215.0,125.17 216.0,125.45 217.0,125.74 218.0,126.03 219.0,126.33 220.0,126.63 221.0,126.93 222.0,127.24 223.0,127.55 224.0,127.87 225.0,128.19 226.0,128.51 227.0,128.84 228.0,129.17 229.0,129.51 230.0,129.85 231.0,130.20 232.0,130.55 233.0,130.90 234.0,131.26 235.0,131.62 236.0,131.99 237.0,132.37 238.0,132.74 239.0,133.12 240.0,133.51 241.0,133.90 242.0,134.30 243.0,134.70 244.0,135.10 245.0,135.51 246.0,135.93 247.0,136.35 248.0,136.77 249.0,137.20 250.0,137.64 251.0,138.08 252.0,138.52 253.0,138.97 254.0,139.43 255.0,139.88 256.0,140.35 257.0,140.82 258.0,141.29 259.0,141.77 260.0,142.26 261.0,142.75 262.0,143.24 263.0,143.75 264.0,144.25 265.0,144.76 266.0,145.28 267.0,145.80 268.0,146.33 269.0,146.86 270.0,147.40 271.0,147.95 272.0,148.50 273.0,149.05 274.0,149.61 275.0,150.18 276.0,150.75 277.0,151.33 278.0,151.91" fill="none" stroke="#1f77b4" stroke-width="1.7" stroke-linejoin="round" clip-path="url(#clipa)"/>
<polyline points="47.0,144.02 48.0,144.01 49.0,144.01 50.0,144.00 51.0,144.00 52.0,143.99 53.0,143.99 54.0,143.99 55.0,143.98 56.0,143.97 57.0,143.97 58.0,143.96 59.0,143.96 60.0,143.95 61.0,143.95 62.0,143.94 63.0,143.94 64.0,143.93 65.0,143.93 66.0,143.92 67.0,143.92 68.0,143.91 69.0,143.91 70.0,143.90 71.0,143.90 72.0,143.89 73.0,143.89 74.0,143.88 75.0,143.88 76.0,143.88 77.0,143.87 78.0,143.87 79.0,143.87 80.0,143.87 81.0,143.86 82.0,143.86 83.0,143.86 84.0,143.86 85.0,143.86 86.0,143.86 87.0,143.86 88.0,143.86 89.0,143.86 90.0,143.86 91.0,143.86 92.0,143.86 93.0,143.86 94.0,143.87 95.0,143.87 96.0,143.87 97.0,143.88 98.0,143.88 99.0,143.89 100.0,143.90 101.0,143.90 102.0,143.91 103.0,143.92 104.0,143.93 105.0,143.94 106.0,143.95 107.0,143.96 108.0,143.97 109.0,143.98 110.0,144.00 111.0,144.01 112.0,144.02 113.0,144.04 114.0,144.06 115.0,144.07 116.0,144.09 117.0,144.11 118.0,144.13 119.0,144.15 120.0,144.17 121.0,144.19 122.0,144.22 123.0,144.24 124.0,144.27 125.0,144.29 126.0,144.32 127.0,144.35 128.0,144.38 129.0,144.41 130.0,144.44 131.0,144.47 132.0,144.50 133.0,144.54 134.0,144.57 135.0,144.61 136.0,144.65 137.0,144.69 138.0,144.73 139.0,144.77 140.0,144.81 141.0,144.86 142.0,144.90 143.0,144.95 144.0,145.00 145.0,145.05 146.0,145.10 147.0,145.15 148.0,145.20 149.0,145.26 150.0,145.31 151.0,145.37 152.0,145.43 153.0,145.49 154.0,145.55 155.0,145.61 156.0,145.68 157.0,145.74 158.0,145.81 159.0,145.88 160.0,145.95 161.0,146.02 162.0,146.09 163.0,146.17 164.0,146.25 165.0,146.32 166.0,146.40 167.0,146.48 168.0,146.57 169.0,146.65 170.0,146.74 171.0,146.83 172.0,146.92 173.0,147.01 174.0,147.10 175.0,147.20 176.0,147.29 177.0,147.39 178.0,147.49 179.0,147.60 180.0,147.70 181.0,147.81 182.0,147.91 183.0,148.02 184.0,148.13 185.0,148.25 186.0,148.36 187.0,148.48 188.0,148.60 189.0,148.72 190.0,148.85 191.0,148.97 192.0,149.10 193.0,149.23 194.0,149.36 195.0,149.49 196.0,149.63 197.0,149.77 198.0,149.91 199.0,150.05 200.0,150.19 201.0,150.34 202.0,150.49 203.0,150.64 204.0,150.79 205.0,150.94 206.0,151.10 207.0,151.26 208.0,151.42 209.0,151.59 210.0,151.75 211.0,151.92 212.0,152.09 213.0,152.27 214.0,152.44 215.0,152.62 216.0,152.80 217.0,152.98 218.0,153.17 219.0,153.36 220.0,153.55 221.0,153.74 222.0,153.94 223.0,154.13 224.0,154.33 225.0,154.54 226.0,154.74 227.0,154.95 228.0,155.16 229.0,155.37 230.0,155.59 231.0,155.81 232.0,156.03 233.0,156.25 234.0,156.48 235.0,156.71 236.0,156.94 237.0,157.17 238.0,157.41 239.0,157.65 240.0,157.89 241.0,158.14 242.0,158.39 243.0,158.64 244.0,158.89 245.0,159.15 246.0,159.41 247.0,159.67 248.0,159.93 249.0,160.20 250.0,160.47 251.0,160.75 252.0,161.02 253.0,161.30 254.0,161.59 255.0,161.87 256.0,162.16 257.0,162.46 258.0,162.75 259.0,163.05 260.0,163.35 261.0,163.65 262.0,163.96 263.0,164.27 264.0,164.59 265.0,164.90 266.0,165.22 267.0,165.55 268.0,165.87 269.0,166.20 270.0,166.53 271.0,166.87 272.0,167.21 273.0,167.55 274.0,167.90 275.0,168.25 276.0,168.60 277.0,168.96 278.0,169.32" fill="none" stroke="#2ca02c" stroke-width="1.7" stroke-linejoin="round" clip-path="url(#clipa)"/>
<line x1="47" y1="173.91" x2="52.20" y2="173.91" stroke="#000" stroke-width="1.4"/>
<line x1="47" y1="170.74" x2="52.20" y2="170.74" stroke="#000" stroke-width="1.4"/>
<line x1="47" y1="167.90" x2="56.50" y2="167.90" stroke="#000" stroke-width="1.8"/>
<text x="23.60" y="172.40" font-size="12.3" text-anchor="start" fill="#000" textLength="14.09" lengthAdjust="spacingAndGlyphs">10</text>
<text x="39.00" y="168.00" font-size="8.6" text-anchor="start" fill="#000" textLength="4.65" lengthAdjust="spacingAndGlyphs">3</text>
<line x1="47" y1="149.24" x2="52.20" y2="149.24" stroke="#000" stroke-width="1.4"/>
<line x1="47" y1="138.32" x2="52.20" y2="138.32" stroke="#000" stroke-width="1.4"/>
<line x1="47" y1="130.57" x2="52.20" y2="130.57" stroke="#000" stroke-width="1.4"/>
<line x1="47" y1="124.56" x2="52.20" y2="124.56" stroke="#000" stroke-width="1.4"/>
<line x1="47" y1="119.65" x2="52.20" y2="119.65" stroke="#000" stroke-width="1.4"/>
<line x1="47" y1="115.50" x2="52.20" y2="115.50" stroke="#000" stroke-width="1.4"/>
<line x1="47" y1="111.91" x2="52.20" y2="111.91" stroke="#000" stroke-width="1.4"/>
<line x1="47" y1="108.74" x2="52.20" y2="108.74" stroke="#000" stroke-width="1.4"/>
<line x1="47" y1="105.90" x2="56.50" y2="105.90" stroke="#000" stroke-width="1.8"/>
<text x="23.60" y="110.40" font-size="12.3" text-anchor="start" fill="#000" textLength="14.09" lengthAdjust="spacingAndGlyphs">10</text>
<text x="39.00" y="106.00" font-size="8.6" text-anchor="start" fill="#000" textLength="4.65" lengthAdjust="spacingAndGlyphs">4</text>
<line x1="47" y1="87.24" x2="52.20" y2="87.24" stroke="#000" stroke-width="1.4"/>
<line x1="47" y1="76.32" x2="52.20" y2="76.32" stroke="#000" stroke-width="1.4"/>
<line x1="47" y1="68.57" x2="52.20" y2="68.57" stroke="#000" stroke-width="1.4"/>
<line x1="47" y1="62.56" x2="52.20" y2="62.56" stroke="#000" stroke-width="1.4"/>
<line x1="47" y1="57.65" x2="52.20" y2="57.65" stroke="#000" stroke-width="1.4"/>
<line x1="47" y1="53.50" x2="52.20" y2="53.50" stroke="#000" stroke-width="1.4"/>
<line x1="47" y1="49.91" x2="52.20" y2="49.91" stroke="#000" stroke-width="1.4"/>
<line x1="47" y1="46.74" x2="52.20" y2="46.74" stroke="#000" stroke-width="1.4"/>
<line x1="47" y1="43.90" x2="56.50" y2="43.90" stroke="#000" stroke-width="1.8"/>
<text x="23.60" y="48.40" font-size="12.3" text-anchor="start" fill="#000" textLength="14.09" lengthAdjust="spacingAndGlyphs">10</text>
<text x="39.00" y="44.00" font-size="8.6" text-anchor="start" fill="#000" textLength="4.65" lengthAdjust="spacingAndGlyphs">5</text>
<line x1="47" y1="25.24" x2="52.20" y2="25.24" stroke="#000" stroke-width="1.4"/>
<line x1="47" y1="14.32" x2="52.20" y2="14.32" stroke="#000" stroke-width="1.4"/>
<line x1="47" y1="6.57" x2="52.20" y2="6.57" stroke="#000" stroke-width="1.4"/>
<line x1="47.00" y1="175.0" x2="47.00" y2="165.50" stroke="#000" stroke-width="1.8"/>
<line x1="70.18" y1="175.0" x2="70.18" y2="169.80" stroke="#000" stroke-width="1.4"/>
<line x1="83.74" y1="175.0" x2="83.74" y2="169.80" stroke="#000" stroke-width="1.4"/>
<line x1="93.36" y1="175.0" x2="93.36" y2="169.80" stroke="#000" stroke-width="1.4"/>
<line x1="100.82" y1="175.0" x2="100.82" y2="169.80" stroke="#000" stroke-width="1.4"/>
<line x1="106.92" y1="175.0" x2="106.92" y2="169.80" stroke="#000" stroke-width="1.4"/>
<line x1="112.07" y1="175.0" x2="112.07" y2="169.80" stroke="#000" stroke-width="1.4"/>
<line x1="116.54" y1="175.0" x2="116.54" y2="169.80" stroke="#000" stroke-width="1.4"/>
<line x1="120.48" y1="175.0" x2="120.48" y2="169.80" stroke="#000" stroke-width="1.4"/>
<line x1="124.00" y1="175.0" x2="124.00" y2="165.50" stroke="#000" stroke-width="1.8"/>
<line x1="147.18" y1="175.0" x2="147.18" y2="169.80" stroke="#000" stroke-width="1.4"/>
<line x1="160.74" y1="175.0" x2="160.74" y2="169.80" stroke="#000" stroke-width="1.4"/>
<line x1="170.36" y1="175.0" x2="170.36" y2="169.80" stroke="#000" stroke-width="1.4"/>
<line x1="177.82" y1="175.0" x2="177.82" y2="169.80" stroke="#000" stroke-width="1.4"/>
<line x1="183.92" y1="175.0" x2="183.92" y2="169.80" stroke="#000" stroke-width="1.4"/>
<line x1="189.07" y1="175.0" x2="189.07" y2="169.80" stroke="#000" stroke-width="1.4"/>
<line x1="193.54" y1="175.0" x2="193.54" y2="169.80" stroke="#000" stroke-width="1.4"/>
<line x1="197.48" y1="175.0" x2="197.48" y2="169.80" stroke="#000" stroke-width="1.4"/>
<line x1="201.00" y1="175.0" x2="201.00" y2="165.50" stroke="#000" stroke-width="1.8"/>
<line x1="224.18" y1="175.0" x2="224.18" y2="169.80" stroke="#000" stroke-width="1.4"/>
<line x1="237.74" y1="175.0" x2="237.74" y2="169.80" stroke="#000" stroke-width="1.4"/>
<line x1="247.36" y1="175.0" x2="247.36" y2="169.80" stroke="#000" stroke-width="1.4"/>
<line x1="254.82" y1="175.0" x2="254.82" y2="169.80" stroke="#000" stroke-width="1.4"/>
<line x1="260.92" y1="175.0" x2="260.92" y2="169.80" stroke="#000" stroke-width="1.4"/>
<line x1="266.07" y1="175.0" x2="266.07" y2="169.80" stroke="#000" stroke-width="1.4"/>
<line x1="270.54" y1="175.0" x2="270.54" y2="169.80" stroke="#000" stroke-width="1.4"/>
<line x1="274.48" y1="175.0" x2="274.48" y2="169.80" stroke="#000" stroke-width="1.4"/>
<line x1="278.00" y1="175.0" x2="278.00" y2="165.50" stroke="#000" stroke-width="1.8"/>
<rect x="47" y="2.4" width="231" height="172.6" fill="none" stroke="#000" stroke-width="1.9"/>
<text x="149.20" y="23.60" font-size="15.9" text-anchor="start" fill="#000" textLength="25.85" lengthAdjust="spacingAndGlyphs">Gel</text>
<line x1="216.2" y1="17.40" x2="231.1" y2="17.40" stroke="#ff7f0e" stroke-width="3.0"/>
<text x="238.40" y="21.00" font-size="11.6" text-anchor="start" fill="#000" textLength="22.97" lengthAdjust="spacingAndGlyphs">Arm</text>
<line x1="216.2" y1="34.05" x2="231.1" y2="34.05" stroke="#1f77b4" stroke-width="3.0"/>
<text x="238.40" y="37.65" font-size="11.6" text-anchor="start" fill="#000" textLength="27.66" lengthAdjust="spacingAndGlyphs">Neck</text>
<line x1="216.2" y1="50.70" x2="231.1" y2="50.70" stroke="#2ca02c" stroke-width="3.0"/>
<text x="238.40" y="54.30" font-size="11.6" text-anchor="start" fill="#000" textLength="29.02" lengthAdjust="spacingAndGlyphs">Head</text>
<text x="19.70" y="11.30" font-size="13.8" text-anchor="start" fill="#000" font-weight="bold" textLength="21.05" lengthAdjust="spacingAndGlyphs">(a)</text>
<path d="M360.0,3.67 L361.0,4.50 L362.0,4.62 L363.0,3.94 L364.0,4.23 L365.0,4.32 L366.0,5.07 L367.0,4.96 L368.0,5.57 L369.0,4.49 L370.0,6.42 L371.0,5.81 L372.0,6.43 L373.0,6.26 L374.0,6.38 L375.0,7.04 L376.0,7.47 L377.0,7.21 L378.0,7.50 L379.0,8.18 L380.0,7.67 L381.0,7.62 L382.0,8.86 L383.0,8.61 L384.0,8.27 L385.0,9.11 L386.0,9.58 L387.0,9.52 L388.0,9.68 L389.0,10.75 L390.0,11.50 L391.0,11.25 L392.0,11.32 L393.0,12.22 L394.0,12.71 L395.0,12.54 L396.0,13.31 L397.0,13.90 L398.0,13.63 L399.0,13.68 L400.0,14.62 L401.0,14.94 L402.0,15.73 L403.0,14.91 L404.0,15.60 L405.0,15.90 L406.0,15.83 L407.0,17.16 L408.0,17.75 L409.0,17.52 L410.0,18.98 L411.0,19.11 L412.0,19.42 L413.0,19.72 L414.0,20.41 L415.0,19.73 L416.0,21.09 L417.0,21.52 L418.0,20.83 L419.0,22.27 L420.0,22.44 L421.0,23.37 L422.0,23.26 L423.0,23.91 L424.0,24.53 L425.0,24.45 L426.0,25.58 L427.0,25.74 L428.0,26.48 L429.0,26.52 L430.0,27.70 L431.0,27.98 L432.0,28.14 L433.0,28.98 L434.0,29.75 L435.0,30.47 L436.0,29.58 L437.0,31.11 L438.0,31.45 L439.0,31.74 L440.0,31.90 L441.0,33.33 L442.0,32.87 L443.0,34.13 L444.0,34.95 L445.0,34.38 L446.0,35.42 L447.0,35.59 L448.0,36.73 L449.0,37.76 L450.0,38.50 L451.0,37.68 L452.0,38.69 L453.0,39.72 L454.0,40.61 L455.0,40.78 L456.0,40.95 L457.0,41.90 L458.0,42.39 L459.0,42.92 L460.0,43.34 L461.0,44.32 L462.0,44.89 L463.0,45.37 L464.0,45.94 L465.0,46.22 L466.0,47.10 L467.0,48.25 L468.0,48.44 L469.0,48.69 L470.0,50.16 L471.0,50.55 L472.0,51.65 L473.0,51.70 L474.0,52.19 L475.0,52.56 L476.0,54.00 L477.0,54.99 L478.0,54.72 L479.0,55.43 L480.0,56.43 L481.0,56.72 L482.0,57.54 L483.0,58.20 L484.0,59.02 L485.0,59.92 L486.0,60.34 L487.0,61.25 L488.0,61.61 L489.0,62.49 L490.0,62.61 L491.0,63.47 L492.0,64.69 L493.0,65.08 L494.0,66.05 L495.0,66.76 L496.0,67.64 L497.0,68.24 L498.0,69.00 L499.0,69.50 L500.0,70.11 L501.0,70.83 L502.0,71.61 L503.0,72.23 L504.0,73.08 L505.0,73.90 L506.0,74.71 L507.0,75.35 L508.0,75.82 L509.0,76.89 L510.0,77.70 L511.0,78.59 L512.0,79.26 L513.0,79.83 L514.0,80.58 L515.0,81.76 L516.0,82.33 L517.0,83.25 L518.0,84.06 L519.0,84.42 L520.0,85.36 L521.0,86.14 L522.0,86.93 L523.0,87.70 L524.0,88.44 L525.0,89.22 L526.0,89.81 L527.0,90.75 L528.0,91.48 L529.0,92.36 L530.0,93.09 L531.0,93.99 L532.0,94.81 L533.0,95.55 L534.0,96.35 L535.0,97.12 L536.0,97.87 L537.0,98.70 L538.0,99.47 L539.0,100.36 L540.0,101.12 L541.0,101.99 L542.0,102.60 L543.0,103.63 L544.0,104.27 L545.0,105.08 L546.0,105.95 L547.0,106.72 L548.0,107.62 L549.0,108.34 L550.0,109.11 L551.0,109.94 L552.0,110.97 L553.0,111.66 L554.0,112.35 L555.0,113.29 L556.0,113.95 L557.0,115.10 L558.0,115.58 L559.0,116.60 L560.0,117.42 L561.0,118.04 L562.0,119.03 L563.0,119.92 L564.0,120.69 L565.0,121.48 L566.0,122.37 L567.0,123.11 L568.0,123.94 L569.0,124.72 L570.0,125.61 L571.0,126.27 L572.0,127.26 L573.0,127.95 L574.0,128.70 L575.0,129.67 L576.0,130.62 L577.0,131.36 L578.0,132.02 L579.0,132.96 L580.0,133.66 L581.0,134.51 L582.0,135.34 L583.0,135.91 L584.0,136.97 L585.0,137.66 L586.0,138.50 L587.0,139.23 L588.0,140.04 L589.0,140.90 L590.0,141.89 L591.0,142.77 L591.0,164.89 L590.0,164.40 L589.0,163.34 L588.0,162.61 L587.0,161.93 L586.0,160.91 L585.0,160.14 L584.0,159.28 L583.0,158.57 L582.0,157.75 L581.0,157.17 L580.0,156.24 L579.0,155.41 L578.0,154.66 L577.0,153.77 L576.0,153.12 L575.0,152.42 L574.0,151.58 L573.0,150.72 L572.0,149.98 L571.0,149.23 L570.0,148.47 L569.0,147.68 L568.0,146.87 L567.0,146.26 L566.0,145.50 L565.0,144.67 L564.0,144.01 L563.0,143.11 L562.0,142.64 L561.0,141.63 L560.0,140.86 L559.0,140.24 L558.0,139.56 L557.0,138.97 L556.0,138.07 L555.0,137.44 L554.0,136.73 L553.0,135.97 L552.0,135.40 L551.0,134.68 L550.0,133.88 L549.0,133.27 L548.0,132.62 L547.0,131.80 L546.0,131.09 L545.0,130.47 L544.0,129.74 L543.0,129.22 L542.0,128.34 L541.0,127.50 L540.0,126.94 L539.0,126.60 L538.0,125.56 L537.0,124.83 L536.0,124.34 L535.0,123.76 L534.0,123.02 L533.0,122.54 L532.0,121.93 L531.0,121.26 L530.0,120.61 L529.0,120.00 L528.0,119.31 L527.0,118.61 L526.0,117.86 L525.0,117.44 L524.0,116.82 L523.0,116.18 L522.0,115.43 L521.0,114.83 L520.0,114.29 L519.0,113.75 L518.0,112.99 L517.0,112.74 L516.0,111.93 L515.0,111.20 L514.0,110.85 L513.0,110.34 L512.0,109.66 L511.0,109.13 L510.0,108.66 L509.0,107.97 L508.0,107.15 L507.0,106.77 L506.0,106.18 L505.0,105.44 L504.0,104.73 L503.0,104.70 L502.0,103.90 L501.0,103.57 L500.0,103.02 L499.0,102.35 L498.0,101.95 L497.0,101.51 L496.0,100.97 L495.0,100.05 L494.0,99.68 L493.0,99.27 L492.0,99.16 L491.0,98.08 L490.0,97.39 L489.0,97.26 L488.0,96.66 L487.0,96.15 L486.0,96.45 L485.0,95.28 L484.0,94.96 L483.0,93.99 L482.0,93.67 L481.0,93.62 L480.0,93.19 L479.0,92.21 L478.0,92.02 L477.0,91.95 L476.0,91.32 L475.0,91.06 L474.0,89.79 L473.0,89.95 L472.0,89.26 L471.0,89.54 L470.0,88.66 L469.0,87.99 L468.0,87.64 L467.0,87.55 L466.0,86.83 L465.0,86.36 L464.0,85.89 L463.0,85.37 L462.0,85.25 L461.0,84.59 L460.0,83.68 L459.0,83.93 L458.0,83.37 L457.0,83.28 L456.0,83.22 L455.0,82.00 L454.0,82.40 L453.0,81.87 L452.0,81.32 L451.0,80.89 L450.0,81.12 L449.0,79.78 L448.0,80.22 L447.0,79.83 L446.0,79.04 L445.0,78.31 L444.0,78.96 L443.0,78.63 L442.0,78.23 L441.0,77.97 L440.0,77.63 L439.0,77.15 L438.0,76.27 L437.0,76.00 L436.0,76.40 L435.0,75.95 L434.0,76.07 L433.0,75.55 L432.0,74.97 L431.0,74.63 L430.0,74.29 L429.0,73.34 L428.0,73.22 L427.0,73.84 L426.0,73.54 L425.0,72.72 L424.0,72.16 L423.0,72.20 L422.0,72.65 L421.0,72.13 L420.0,71.99 L419.0,72.73 L418.0,71.96 L417.0,71.77 L416.0,71.52 L415.0,71.57 L414.0,71.17 L413.0,70.10 L412.0,70.65 L411.0,70.19 L410.0,69.58 L409.0,69.86 L408.0,69.23 L407.0,68.25 L406.0,68.85 L405.0,69.17 L404.0,69.00 L403.0,68.47 L402.0,68.85 L401.0,67.93 L400.0,68.27 L399.0,68.83 L398.0,67.82 L397.0,67.37 L396.0,67.60 L395.0,67.25 L394.0,67.17 L393.0,66.45 L392.0,66.73 L391.0,66.58 L390.0,67.20 L389.0,65.88 L388.0,66.96 L387.0,66.12 L386.0,66.25 L385.0,66.01 L384.0,65.92 L383.0,66.09 L382.0,65.82 L381.0,65.83 L380.0,66.26 L379.0,66.18 L378.0,65.79 L377.0,66.24 L376.0,66.16 L375.0,66.56 L374.0,65.18 L373.0,65.67 L372.0,64.61 L371.0,65.79 L370.0,65.51 L369.0,66.01 L368.0,65.44 L367.0,64.83 L366.0,65.17 L365.0,64.88 L364.0,66.30 L363.0,65.86 L362.0,65.89 L361.0,66.06 L360.0,65.56Z" fill="#d62728" fill-opacity="0.13" clip-path="url(#bclipb)"/>
<path d="M360.0,27.36 L361.0,27.55 L362.0,27.75 L363.0,27.94 L364.0,28.14 L365.0,28.34 L366.0,28.54 L367.0,28.74 L368.0,28.95 L369.0,29.15 L370.0,29.36 L371.0,29.58 L372.0,29.79 L373.0,30.00 L374.0,30.22 L375.0,30.44 L376.0,30.66 L377.0,30.89 L378.0,31.12 L379.0,31.34 L380.0,31.58 L381.0,31.81 L382.0,32.05 L383.0,32.28 L384.0,32.52 L385.0,32.77 L386.0,33.01 L387.0,33.26 L388.0,33.51 L389.0,33.77 L390.0,34.02 L391.0,34.28 L392.0,34.54 L393.0,34.81 L394.0,35.07 L395.0,35.34 L396.0,35.61 L397.0,35.89 L398.0,36.16 L399.0,36.44 L400.0,36.73 L401.0,37.01 L402.0,37.30 L403.0,37.59 L404.0,37.89 L405.0,38.19 L406.0,38.49 L407.0,38.79 L408.0,39.10 L409.0,39.41 L410.0,39.72 L411.0,40.03 L412.0,40.35 L413.0,40.67 L414.0,41.00 L415.0,41.33 L416.0,41.66 L417.0,41.99 L418.0,42.33 L419.0,42.67 L420.0,43.02 L421.0,43.37 L422.0,43.72 L423.0,44.07 L424.0,44.43 L425.0,44.79 L426.0,45.16 L427.0,45.53 L428.0,45.90 L429.0,46.27 L430.0,46.65 L431.0,47.03 L432.0,47.42 L433.0,47.81 L434.0,48.21 L435.0,48.60 L436.0,49.00 L437.0,49.41 L438.0,49.82 L439.0,50.23 L440.0,50.65 L441.0,51.07 L442.0,51.49 L443.0,51.92 L444.0,52.35 L445.0,52.79 L446.0,53.23 L447.0,53.67 L448.0,54.12 L449.0,54.57 L450.0,55.03 L451.0,55.48 L452.0,55.95 L453.0,56.42 L454.0,56.89 L455.0,57.36 L456.0,57.84 L457.0,58.32 L458.0,58.81 L459.0,59.30 L460.0,59.80 L461.0,60.29 L462.0,60.79 L463.0,61.30 L464.0,61.81 L465.0,62.32 L466.0,62.83 L467.0,63.35 L468.0,63.87 L469.0,64.39 L470.0,64.92 L471.0,65.45 L472.0,65.99 L473.0,66.52 L474.0,67.06 L475.0,67.61 L476.0,68.15 L477.0,68.70 L478.0,69.25 L479.0,69.81 L480.0,70.37 L481.0,70.93 L482.0,71.49 L483.0,72.05 L484.0,72.62 L485.0,73.19 L486.0,73.77 L487.0,74.34 L488.0,74.92 L489.0,75.50 L490.0,76.09 L491.0,76.67 L492.0,77.26 L493.0,77.85 L494.0,78.44 L495.0,79.04 L496.0,79.63 L497.0,80.23 L498.0,80.83 L499.0,81.44 L500.0,82.04 L501.0,82.65 L502.0,83.26 L503.0,83.87 L504.0,84.48 L505.0,85.10 L506.0,85.71 L507.0,86.33 L508.0,86.95 L509.0,87.57 L510.0,88.20 L511.0,88.82 L512.0,89.45 L513.0,90.08 L514.0,90.70 L515.0,91.34 L516.0,91.97 L517.0,92.60 L518.0,93.23 L519.0,93.87 L520.0,94.51 L521.0,95.15 L522.0,95.79 L523.0,96.43 L524.0,97.07 L525.0,97.71 L526.0,98.35 L527.0,99.00 L528.0,99.64 L529.0,100.29 L530.0,100.94 L531.0,101.58 L532.0,102.23 L533.0,102.88 L534.0,103.53 L535.0,104.18 L536.0,104.83 L537.0,105.48 L538.0,106.13 L539.0,106.79 L540.0,107.44 L541.0,108.09 L542.0,108.75 L543.0,109.40 L544.0,110.05 L545.0,110.71 L546.0,111.36 L547.0,112.02 L548.0,112.67 L549.0,113.33 L550.0,113.98 L551.0,114.64 L552.0,115.29 L553.0,115.94 L554.0,116.60 L555.0,117.25 L556.0,117.91 L557.0,118.56 L558.0,119.21 L559.0,119.87 L560.0,120.52 L561.0,121.17 L562.0,121.82 L563.0,122.47 L564.0,123.12 L565.0,123.77 L566.0,124.42 L567.0,125.07 L568.0,125.72 L569.0,126.37 L570.0,127.01 L571.0,127.66 L572.0,128.30 L573.0,128.95 L574.0,129.59 L575.0,130.23 L576.0,130.87 L577.0,131.51 L578.0,132.15 L579.0,132.79 L580.0,133.42 L581.0,134.06 L582.0,134.69 L583.0,135.33 L584.0,135.96 L585.0,136.59 L586.0,137.21 L587.0,137.84 L588.0,138.47 L589.0,139.09 L590.0,139.71 L591.0,140.33 L591.0,157.56 L590.0,156.71 L589.0,155.87 L588.0,155.02 L587.0,154.19 L586.0,153.35 L585.0,152.52 L584.0,151.69 L583.0,150.87 L582.0,150.05 L581.0,149.23 L580.0,148.42 L579.0,147.61 L578.0,146.80 L577.0,146.00 L576.0,145.20 L575.0,144.40 L574.0,143.61 L573.0,142.82 L572.0,142.04 L571.0,141.26 L570.0,140.48 L569.0,139.70 L568.0,138.93 L567.0,138.17 L566.0,137.40 L565.0,136.64 L564.0,135.89 L563.0,135.14 L562.0,134.39 L561.0,133.64 L560.0,132.90 L559.0,132.16 L558.0,131.43 L557.0,130.70 L556.0,129.97 L555.0,129.24 L554.0,128.52 L553.0,127.81 L552.0,127.09 L551.0,126.39 L550.0,125.68 L549.0,124.98 L548.0,124.28 L547.0,123.58 L546.0,122.89 L545.0,122.20 L544.0,121.52 L543.0,120.84 L542.0,120.16 L541.0,119.49 L540.0,118.82 L539.0,118.15 L538.0,117.49 L537.0,116.83 L536.0,116.17 L535.0,115.52 L534.0,114.87 L533.0,114.23 L532.0,113.58 L531.0,112.95 L530.0,112.31 L529.0,111.68 L528.0,111.05 L527.0,110.43 L526.0,109.81 L525.0,109.19 L524.0,108.58 L523.0,107.97 L522.0,107.36 L521.0,106.76 L520.0,106.16 L519.0,105.57 L518.0,104.97 L517.0,104.39 L516.0,103.80 L515.0,103.22 L514.0,102.64 L513.0,102.07 L512.0,101.50 L511.0,100.93 L510.0,100.37 L509.0,99.81 L508.0,99.25 L507.0,98.70 L506.0,98.15 L505.0,97.60 L504.0,97.06 L503.0,96.52 L502.0,95.99 L501.0,95.46 L500.0,94.93 L499.0,94.40 L498.0,93.88 L497.0,93.36 L496.0,92.85 L495.0,92.34 L494.0,91.83 L493.0,91.33 L492.0,90.83 L491.0,90.33 L490.0,89.84 L489.0,89.35 L488.0,88.87 L487.0,88.38 L486.0,87.90 L485.0,87.43 L484.0,86.96 L483.0,86.49 L482.0,86.02 L481.0,85.56 L480.0,85.11 L479.0,84.65 L478.0,84.20 L477.0,83.75 L476.0,83.31 L475.0,82.87 L474.0,82.43 L473.0,82.00 L472.0,81.57 L471.0,81.15 L470.0,80.72 L469.0,80.30 L468.0,79.89 L467.0,79.48 L466.0,79.07 L465.0,78.66 L464.0,78.26 L463.0,77.86 L462.0,77.47 L461.0,77.08 L460.0,76.69 L459.0,76.31 L458.0,75.93 L457.0,75.55 L456.0,75.18 L455.0,74.81 L454.0,74.44 L453.0,74.08 L452.0,73.72 L451.0,73.36 L450.0,73.01 L449.0,72.66 L448.0,72.31 L447.0,71.97 L446.0,71.63 L445.0,71.30 L444.0,70.97 L443.0,70.64 L442.0,70.31 L441.0,69.99 L440.0,69.68 L439.0,69.36 L438.0,69.05 L437.0,68.74 L436.0,68.44 L435.0,68.14 L434.0,67.84 L433.0,67.55 L432.0,67.26 L431.0,66.97 L430.0,66.69 L429.0,66.41 L428.0,66.13 L427.0,65.86 L426.0,65.59 L425.0,65.33 L424.0,65.07 L423.0,64.81 L422.0,64.55 L421.0,64.30 L420.0,64.05 L419.0,63.81 L418.0,63.57 L417.0,63.33 L416.0,63.09 L415.0,62.86 L414.0,62.64 L413.0,62.41 L412.0,62.19 L411.0,61.97 L410.0,61.76 L409.0,61.55 L408.0,61.34 L407.0,61.14 L406.0,60.94 L405.0,60.74 L404.0,60.55 L403.0,60.36 L402.0,60.18 L401.0,59.99 L400.0,59.82 L399.0,59.64 L398.0,59.47 L397.0,59.30 L396.0,59.13 L395.0,58.97 L394.0,58.81 L393.0,58.66 L392.0,58.51 L391.0,58.36 L390.0,58.21 L389.0,58.07 L388.0,57.94 L387.0,57.80 L386.0,57.67 L385.0,57.54 L384.0,57.42 L383.0,57.30 L382.0,57.18 L381.0,57.07 L380.0,56.96 L379.0,56.85 L378.0,56.75 L377.0,56.65 L376.0,56.55 L375.0,56.46 L374.0,56.37 L373.0,56.28 L372.0,56.20 L371.0,56.12 L370.0,56.04 L369.0,55.97 L368.0,55.90 L367.0,55.83 L366.0,55.77 L365.0,55.71 L364.0,55.66 L363.0,55.61 L362.0,55.56 L361.0,55.51 L360.0,55.47Z" fill="#9467bd" fill-opacity="0.13" clip-path="url(#bclipb)"/>
<path d="M360.0,40.77 L361.0,40.79 L362.0,40.80 L363.0,40.82 L364.0,40.85 L365.0,40.87 L366.0,40.91 L367.0,40.94 L368.0,40.98 L369.0,41.03 L370.0,41.07 L371.0,41.12 L372.0,41.18 L373.0,41.24 L374.0,41.30 L375.0,41.37 L376.0,41.44 L377.0,41.51 L378.0,41.59 L379.0,41.68 L380.0,41.76 L381.0,41.85 L382.0,41.95 L383.0,42.05 L384.0,42.15 L385.0,42.25 L386.0,42.36 L387.0,42.48 L388.0,42.60 L389.0,42.72 L390.0,42.84 L391.0,42.97 L392.0,43.11 L393.0,43.24 L394.0,43.39 L395.0,43.53 L396.0,43.68 L397.0,43.83 L398.0,43.99 L399.0,44.15 L400.0,44.32 L401.0,44.49 L402.0,44.66 L403.0,44.84 L404.0,45.02 L405.0,45.20 L406.0,45.39 L407.0,45.58 L408.0,45.78 L409.0,45.98 L410.0,46.18 L411.0,46.39 L412.0,46.60 L413.0,46.82 L414.0,47.04 L415.0,47.26 L416.0,47.49 L417.0,47.72 L418.0,47.95 L419.0,48.19 L420.0,48.44 L421.0,48.68 L422.0,48.94 L423.0,49.19 L424.0,49.45 L425.0,49.71 L426.0,49.98 L427.0,50.25 L428.0,50.52 L429.0,50.80 L430.0,51.08 L431.0,51.37 L432.0,51.66 L433.0,51.96 L434.0,52.25 L435.0,52.56 L436.0,52.86 L437.0,53.17 L438.0,53.48 L439.0,53.80 L440.0,54.12 L441.0,54.45 L442.0,54.78 L443.0,55.11 L444.0,55.45 L445.0,55.79 L446.0,56.14 L447.0,56.48 L448.0,56.84 L449.0,57.19 L450.0,57.55 L451.0,57.92 L452.0,58.29 L453.0,58.66 L454.0,59.04 L455.0,59.42 L456.0,59.80 L457.0,60.19 L458.0,60.58 L459.0,60.98 L460.0,61.38 L461.0,61.78 L462.0,62.19 L463.0,62.60 L464.0,63.01 L465.0,63.43 L466.0,63.86 L467.0,64.28 L468.0,64.71 L469.0,65.15 L470.0,65.59 L471.0,66.03 L472.0,66.48 L473.0,66.93 L474.0,67.38 L475.0,67.84 L476.0,68.30 L477.0,68.77 L478.0,69.24 L479.0,69.71 L480.0,70.19 L481.0,70.67 L482.0,71.16 L483.0,71.65 L484.0,72.14 L485.0,72.64 L486.0,73.14 L487.0,73.65 L488.0,74.16 L489.0,74.67 L490.0,75.19 L491.0,75.71 L492.0,76.23 L493.0,76.76 L494.0,77.30 L495.0,77.83 L496.0,78.37 L497.0,78.92 L498.0,79.47 L499.0,80.02 L500.0,80.57 L501.0,81.13 L502.0,81.70 L503.0,82.27 L504.0,82.84 L505.0,83.41 L506.0,83.99 L507.0,84.58 L508.0,85.17 L509.0,85.76 L510.0,86.35 L511.0,86.95 L512.0,87.55 L513.0,88.16 L514.0,88.77 L515.0,89.39 L516.0,90.01 L517.0,90.63 L518.0,91.26 L519.0,91.89 L520.0,92.52 L521.0,93.16 L522.0,93.80 L523.0,94.45 L524.0,95.10 L525.0,95.75 L526.0,96.41 L527.0,97.07 L528.0,97.74 L529.0,98.41 L530.0,99.08 L531.0,99.76 L532.0,100.44 L533.0,101.12 L534.0,101.81 L535.0,102.51 L536.0,103.20 L537.0,103.90 L538.0,104.61 L539.0,105.32 L540.0,106.03 L541.0,106.75 L542.0,107.47 L543.0,108.19 L544.0,108.92 L545.0,109.65 L546.0,110.39 L547.0,111.13 L548.0,111.87 L549.0,112.62 L550.0,113.37 L551.0,114.13 L552.0,114.89 L553.0,115.65 L554.0,116.42 L555.0,117.19 L556.0,117.97 L557.0,118.74 L558.0,119.53 L559.0,120.31 L560.0,121.10 L561.0,121.90 L562.0,122.70 L563.0,123.50 L564.0,124.31 L565.0,125.12 L566.0,125.93 L567.0,126.75 L568.0,127.57 L569.0,128.40 L570.0,129.23 L571.0,130.06 L572.0,130.90 L573.0,131.74 L574.0,132.59 L575.0,133.44 L576.0,134.29 L577.0,135.15 L578.0,136.01 L579.0,136.87 L580.0,137.74 L581.0,138.62 L582.0,139.49 L583.0,140.37 L584.0,141.26 L585.0,142.15 L586.0,143.04 L587.0,143.93 L588.0,144.83 L589.0,145.74 L590.0,146.65 L591.0,147.56 L591.0,166.21 L590.0,165.34 L589.0,164.49 L588.0,163.64 L587.0,162.80 L586.0,161.97 L585.0,161.15 L584.0,160.33 L583.0,159.52 L582.0,158.72 L581.0,157.92 L580.0,157.13 L579.0,156.35 L578.0,155.58 L577.0,154.81 L576.0,154.05 L575.0,153.29 L574.0,152.55 L573.0,151.80 L572.0,151.07 L571.0,150.34 L570.0,149.61 L569.0,148.89 L568.0,148.18 L567.0,147.47 L566.0,146.77 L565.0,146.07 L564.0,145.38 L563.0,144.70 L562.0,144.01 L561.0,143.34 L560.0,142.67 L559.0,142.00 L558.0,141.34 L557.0,140.68 L556.0,140.02 L555.0,139.37 L554.0,138.73 L553.0,138.09 L552.0,137.45 L551.0,136.81 L550.0,136.18 L549.0,135.56 L548.0,134.93 L547.0,134.31 L546.0,133.70 L545.0,133.08 L544.0,132.47 L543.0,131.86 L542.0,131.26 L541.0,130.65 L540.0,130.05 L539.0,129.46 L538.0,128.86 L537.0,128.27 L536.0,127.68 L535.0,127.09 L534.0,126.50 L533.0,125.92 L532.0,125.34 L531.0,124.76 L530.0,124.19 L529.0,123.61 L528.0,123.04 L527.0,122.48 L526.0,121.91 L525.0,121.35 L524.0,120.79 L523.0,120.23 L522.0,119.68 L521.0,119.12 L520.0,118.57 L519.0,118.03 L518.0,117.48 L517.0,116.94 L516.0,116.40 L515.0,115.87 L514.0,115.33 L513.0,114.80 L512.0,114.28 L511.0,113.75 L510.0,113.23 L509.0,112.71 L508.0,112.19 L507.0,111.68 L506.0,111.17 L505.0,110.66 L504.0,110.16 L503.0,109.66 L502.0,109.16 L501.0,108.66 L500.0,108.17 L499.0,107.68 L498.0,107.19 L497.0,106.70 L496.0,106.22 L495.0,105.75 L494.0,105.27 L493.0,104.80 L492.0,104.33 L491.0,103.86 L490.0,103.40 L489.0,102.94 L488.0,102.48 L487.0,102.03 L486.0,101.58 L485.0,101.13 L484.0,100.69 L483.0,100.25 L482.0,99.81 L481.0,99.37 L480.0,98.94 L479.0,98.51 L478.0,98.09 L477.0,97.67 L476.0,97.25 L475.0,96.83 L474.0,96.42 L473.0,96.02 L472.0,95.62 L471.0,95.22 L470.0,94.82 L469.0,94.43 L468.0,94.04 L467.0,93.66 L466.0,93.28 L465.0,92.91 L464.0,92.54 L463.0,92.17 L462.0,91.81 L461.0,91.45 L460.0,91.10 L459.0,90.76 L458.0,90.41 L457.0,90.08 L456.0,89.74 L455.0,89.42 L454.0,89.09 L453.0,88.77 L452.0,88.46 L451.0,88.15 L450.0,87.85 L449.0,87.56 L448.0,87.26 L447.0,86.98 L446.0,86.70 L445.0,86.42 L444.0,86.15 L443.0,85.89 L442.0,85.63 L441.0,85.38 L440.0,85.14 L439.0,84.90 L438.0,84.66 L437.0,84.43 L436.0,84.21 L435.0,83.99 L434.0,83.78 L433.0,83.58 L432.0,83.38 L431.0,83.18 L430.0,82.99 L429.0,82.81 L428.0,82.63 L427.0,82.46 L426.0,82.29 L425.0,82.12 L424.0,81.96 L423.0,81.81 L422.0,81.66 L421.0,81.51 L420.0,81.37 L419.0,81.23 L418.0,81.10 L417.0,80.97 L416.0,80.84 L415.0,80.72 L414.0,80.61 L413.0,80.49 L412.0,80.39 L411.0,80.28 L410.0,80.18 L409.0,80.08 L408.0,79.99 L407.0,79.89 L406.0,79.81 L405.0,79.72 L404.0,79.64 L403.0,79.56 L402.0,79.48 L401.0,79.41 L400.0,79.34 L399.0,79.27 L398.0,79.21 L397.0,79.15 L396.0,79.09 L395.0,79.03 L394.0,78.97 L393.0,78.92 L392.0,78.87 L391.0,78.82 L390.0,78.77 L389.0,78.73 L388.0,78.68 L387.0,78.64 L386.0,78.60 L385.0,78.56 L384.0,78.53 L383.0,78.49 L382.0,78.46 L381.0,78.42 L380.0,78.39 L379.0,78.36 L378.0,78.33 L377.0,78.30 L376.0,78.27 L375.0,78.24 L374.0,78.22 L373.0,78.19 L372.0,78.17 L371.0,78.14 L370.0,78.11 L369.0,78.09 L368.0,78.06 L367.0,78.04 L366.0,78.01 L365.0,77.99 L364.0,77.96 L363.0,77.94 L362.0,77.91 L361.0,77.89 L360.0,77.86Z" fill="#8c564b" fill-opacity="0.13" clip-path="url(#bclipb)"/>
<path d="M360.0,101.09 L361.0,101.16 L362.0,101.22 L363.0,101.29 L364.0,101.35 L365.0,101.41 L366.0,101.47 L367.0,101.53 L368.0,101.58 L369.0,101.63 L370.0,101.68 L371.0,101.73 L372.0,101.77 L373.0,101.82 L374.0,101.86 L375.0,101.90 L376.0,101.94 L377.0,101.98 L378.0,102.01 L379.0,102.05 L380.0,102.08 L381.0,102.11 L382.0,102.14 L383.0,102.17 L384.0,102.19 L385.0,102.22 L386.0,102.25 L387.0,102.27 L388.0,102.29 L389.0,102.31 L390.0,102.33 L391.0,102.35 L392.0,102.37 L393.0,102.39 L394.0,102.41 L395.0,102.43 L396.0,102.44 L397.0,102.46 L398.0,102.47 L399.0,102.49 L400.0,102.50 L401.0,102.52 L402.0,102.53 L403.0,102.55 L404.0,102.56 L405.0,102.57 L406.0,102.59 L407.0,102.60 L408.0,102.61 L409.0,102.63 L410.0,102.64 L411.0,102.65 L412.0,102.67 L413.0,102.68 L414.0,102.70 L415.0,102.71 L416.0,102.73 L417.0,102.74 L418.0,102.76 L419.0,102.78 L420.0,102.80 L421.0,102.82 L422.0,102.83 L423.0,102.86 L424.0,102.88 L425.0,102.90 L426.0,102.92 L427.0,102.95 L428.0,102.97 L429.0,103.00 L430.0,103.03 L431.0,103.06 L432.0,103.09 L433.0,103.12 L434.0,103.15 L435.0,103.19 L436.0,103.23 L437.0,103.26 L438.0,103.30 L439.0,103.35 L440.0,103.39 L441.0,103.43 L442.0,103.48 L443.0,103.53 L444.0,103.58 L445.0,103.63 L446.0,103.69 L447.0,103.75 L448.0,103.81 L449.0,103.87 L450.0,103.93 L451.0,104.00 L452.0,104.07 L453.0,104.14 L454.0,104.21 L455.0,104.29 L456.0,104.37 L457.0,104.45 L458.0,104.54 L459.0,104.62 L460.0,104.71 L461.0,104.81 L462.0,104.90 L463.0,105.00 L464.0,105.11 L465.0,105.21 L466.0,105.32 L467.0,105.43 L468.0,105.55 L469.0,105.67 L470.0,105.79 L471.0,105.91 L472.0,106.04 L473.0,106.17 L474.0,106.31 L475.0,106.45 L476.0,106.59 L477.0,106.74 L478.0,106.89 L479.0,107.05 L480.0,107.21 L481.0,107.37 L482.0,107.54 L483.0,107.71 L484.0,107.88 L485.0,108.06 L486.0,108.25 L487.0,108.43 L488.0,108.63 L489.0,108.82 L490.0,109.03 L491.0,109.23 L492.0,109.44 L493.0,109.66 L494.0,109.88 L495.0,110.10 L496.0,110.33 L497.0,110.57 L498.0,110.80 L499.0,111.05 L500.0,111.30 L501.0,111.55 L502.0,111.81 L503.0,112.08 L504.0,112.35 L505.0,112.62 L506.0,112.90 L507.0,113.19 L508.0,113.48 L509.0,113.78 L510.0,114.08 L511.0,114.39 L512.0,114.70 L513.0,115.02 L514.0,115.35 L515.0,115.68 L516.0,116.01 L517.0,116.36 L518.0,116.71 L519.0,117.06 L520.0,117.42 L521.0,117.79 L522.0,118.16 L523.0,118.54 L524.0,118.93 L525.0,119.32 L526.0,119.72 L527.0,120.12 L528.0,120.54 L529.0,120.95 L530.0,121.38 L531.0,121.81 L532.0,122.24 L533.0,122.69 L534.0,123.14 L535.0,123.59 L536.0,124.05 L537.0,124.52 L538.0,125.00 L539.0,125.48 L540.0,125.97 L541.0,126.46 L542.0,126.96 L543.0,127.47 L544.0,127.98 L545.0,128.50 L546.0,129.03 L547.0,129.57 L548.0,130.11 L549.0,130.65 L550.0,131.21 L551.0,131.77 L552.0,132.34 L553.0,132.91 L554.0,133.49 L555.0,134.08 L556.0,134.67 L557.0,135.28 L558.0,135.88 L559.0,136.50 L560.0,137.12 L561.0,137.75 L562.0,138.39 L563.0,139.03 L564.0,139.68 L565.0,140.34 L566.0,141.00 L567.0,141.67 L568.0,142.35 L569.0,143.03 L570.0,143.73 L571.0,144.43 L572.0,145.13 L573.0,145.84 L574.0,146.56 L575.0,147.29 L576.0,148.03 L577.0,148.77 L578.0,149.52 L579.0,150.27 L580.0,151.04 L581.0,151.81 L582.0,152.59 L583.0,153.37 L584.0,154.17 L585.0,154.97 L586.0,155.77 L587.0,156.59 L588.0,157.41 L589.0,158.24 L590.0,159.08 L591.0,159.92 L591.0,171.98 L590.0,171.35 L589.0,170.73 L588.0,170.11 L587.0,169.51 L586.0,168.90 L585.0,168.31 L584.0,167.72 L583.0,167.14 L582.0,166.57 L581.0,166.01 L580.0,165.45 L579.0,164.89 L578.0,164.35 L577.0,163.81 L576.0,163.28 L575.0,162.75 L574.0,162.23 L573.0,161.72 L572.0,161.21 L571.0,160.71 L570.0,160.22 L569.0,159.73 L568.0,159.25 L567.0,158.78 L566.0,158.31 L565.0,157.85 L564.0,157.39 L563.0,156.94 L562.0,156.50 L561.0,156.06 L560.0,155.63 L559.0,155.20 L558.0,154.78 L557.0,154.37 L556.0,153.96 L555.0,153.56 L554.0,153.16 L553.0,152.77 L552.0,152.38 L551.0,152.00 L550.0,151.63 L549.0,151.26 L548.0,150.90 L547.0,150.54 L546.0,150.19 L545.0,149.84 L544.0,149.50 L543.0,149.16 L542.0,148.83 L541.0,148.50 L540.0,148.18 L539.0,147.86 L538.0,147.55 L537.0,147.25 L536.0,146.94 L535.0,146.65 L534.0,146.36 L533.0,146.07 L532.0,145.79 L531.0,145.51 L530.0,145.24 L529.0,144.97 L528.0,144.71 L527.0,144.45 L526.0,144.19 L525.0,143.94 L524.0,143.70 L523.0,143.46 L522.0,143.22 L521.0,142.99 L520.0,142.76 L519.0,142.54 L518.0,142.32 L517.0,142.10 L516.0,141.89 L515.0,141.68 L514.0,141.48 L513.0,141.28 L512.0,141.09 L511.0,140.90 L510.0,140.71 L509.0,140.53 L508.0,140.35 L507.0,140.17 L506.0,140.00 L505.0,139.83 L504.0,139.66 L503.0,139.50 L502.0,139.34 L501.0,139.19 L500.0,139.04 L499.0,138.89 L498.0,138.74 L497.0,138.60 L496.0,138.46 L495.0,138.33 L494.0,138.20 L493.0,138.07 L492.0,137.94 L491.0,137.82 L490.0,137.70 L489.0,137.59 L488.0,137.47 L487.0,137.36 L486.0,137.25 L485.0,137.15 L484.0,137.05 L483.0,136.95 L482.0,136.85 L481.0,136.76 L480.0,136.67 L479.0,136.58 L478.0,136.49 L477.0,136.41 L476.0,136.32 L475.0,136.25 L474.0,136.17 L473.0,136.09 L472.0,136.02 L471.0,135.95 L470.0,135.88 L469.0,135.82 L468.0,135.75 L467.0,135.69 L466.0,135.63 L465.0,135.57 L464.0,135.52 L463.0,135.46 L462.0,135.41 L461.0,135.36 L460.0,135.31 L459.0,135.26 L458.0,135.22 L457.0,135.17 L456.0,135.13 L455.0,135.09 L454.0,135.05 L453.0,135.01 L452.0,134.98 L451.0,134.94 L450.0,134.91 L449.0,134.88 L448.0,134.84 L447.0,134.81 L446.0,134.79 L445.0,134.76 L444.0,134.73 L443.0,134.71 L442.0,134.68 L441.0,134.66 L440.0,134.63 L439.0,134.61 L438.0,134.59 L437.0,134.57 L436.0,134.55 L435.0,134.53 L434.0,134.51 L433.0,134.49 L432.0,134.48 L431.0,134.46 L430.0,134.44 L429.0,134.43 L428.0,134.41 L427.0,134.40 L426.0,134.38 L425.0,134.37 L424.0,134.35 L423.0,134.34 L422.0,134.32 L421.0,134.31 L420.0,134.29 L419.0,134.28 L418.0,134.27 L417.0,134.25 L416.0,134.24 L415.0,134.22 L414.0,134.21 L413.0,134.19 L412.0,134.18 L411.0,134.16 L410.0,134.15 L409.0,134.13 L408.0,134.11 L407.0,134.10 L406.0,134.08 L405.0,134.06 L404.0,134.04 L403.0,134.02 L402.0,134.00 L401.0,133.98 L400.0,133.96 L399.0,133.93 L398.0,133.91 L397.0,133.89 L396.0,133.86 L395.0,133.83 L394.0,133.80 L393.0,133.78 L392.0,133.75 L391.0,133.71 L390.0,133.68 L389.0,133.65 L388.0,133.61 L387.0,133.58 L386.0,133.54 L385.0,133.50 L384.0,133.46 L383.0,133.42 L382.0,133.37 L381.0,133.33 L380.0,133.28 L379.0,133.23 L378.0,133.18 L377.0,133.13 L376.0,133.08 L375.0,133.02 L374.0,132.96 L373.0,132.90 L372.0,132.84 L371.0,132.78 L370.0,132.71 L369.0,132.64 L368.0,132.57 L367.0,132.50 L366.0,132.43 L365.0,132.35 L364.0,132.27 L363.0,132.19 L362.0,132.10 L361.0,132.02 L360.0,131.93Z" fill="#3761d5" fill-opacity="0.12" clip-path="url(#bclipb)"/>
<polyline points="360.0,37.54 361.0,37.82 362.0,38.10 363.0,38.39 364.0,38.50 365.0,38.61 366.0,38.72 367.0,38.88 368.0,39.04 369.0,39.20 370.0,39.42 371.0,39.64 372.0,39.87 373.0,40.09 374.0,40.32 375.0,40.54 376.0,40.68 377.0,40.81 378.0,40.95 379.0,41.15 380.0,41.35 381.0,41.56 382.0,41.62 383.0,41.68 384.0,41.75 385.0,42.16 386.0,42.58 387.0,43.00 388.0,43.13 389.0,43.27 390.0,43.41 391.0,43.79 392.0,44.17 393.0,44.56 394.0,44.84 395.0,45.13 396.0,45.42 397.0,45.38 398.0,45.34 399.0,45.31 400.0,45.88 401.0,46.45 402.0,47.02 403.0,47.10 404.0,47.19 405.0,47.28 406.0,47.54 407.0,47.80 408.0,48.07 409.0,48.45 410.0,48.83 411.0,49.21 412.0,49.57 413.0,49.93 414.0,50.29 415.0,50.67 416.0,51.05 417.0,51.44 418.0,51.92 419.0,52.40 420.0,52.88 421.0,52.87 422.0,52.86 423.0,52.85 424.0,53.29 425.0,53.73 426.0,54.17 427.0,54.59 428.0,55.01 429.0,55.43 430.0,55.73 431.0,56.03 432.0,56.33 433.0,56.63 434.0,56.93 435.0,57.22 436.0,57.72 437.0,58.21 438.0,58.71 439.0,59.12 440.0,59.53 441.0,59.94 442.0,60.37 443.0,60.81 444.0,61.24 445.0,61.61 446.0,61.98 447.0,62.35 448.0,62.87 449.0,63.40 450.0,63.93 451.0,64.29 452.0,64.66 453.0,65.03 454.0,65.50 455.0,65.97 456.0,66.45 457.0,66.80 458.0,67.16 459.0,67.52 460.0,67.90 461.0,68.29 462.0,68.69 463.0,69.31 464.0,69.94 465.0,70.57 466.0,71.02 467.0,71.48 468.0,71.94 469.0,72.44 470.0,72.94 471.0,73.44 472.0,73.91 473.0,74.38 474.0,74.85 475.0,75.34 476.0,75.82 477.0,76.31 478.0,76.82 479.0,77.34 480.0,77.85 481.0,78.41 482.0,78.97 483.0,79.53 484.0,80.00 485.0,80.48 486.0,80.96 487.0,81.51 488.0,82.06 489.0,82.61 490.0,83.16 491.0,83.71 492.0,84.26 493.0,84.82 494.0,85.38 495.0,85.94 496.0,86.53 497.0,87.13 498.0,87.72 499.0,88.24 500.0,88.76 501.0,89.28 502.0,89.90 503.0,90.52 504.0,91.14 505.0,91.69 506.0,92.24 507.0,92.79 508.0,93.38 509.0,93.97 510.0,94.56 511.0,95.16 512.0,95.75 513.0,96.35 514.0,96.97 515.0,97.59 516.0,98.22 517.0,98.84 518.0,99.47 519.0,100.10 520.0,100.68 521.0,101.27 522.0,101.86 523.0,102.50 524.0,103.14 525.0,103.78 526.0,104.42 527.0,105.05 528.0,105.69 529.0,106.33 530.0,106.97 531.0,107.61 532.0,108.26 533.0,108.91 534.0,109.55 535.0,110.23 536.0,110.91 537.0,111.59 538.0,112.26 539.0,112.93 540.0,113.60 541.0,114.27 542.0,114.94 543.0,115.61 544.0,116.28 545.0,116.95 546.0,117.62 547.0,118.31 548.0,119.01 549.0,119.71 550.0,120.42 551.0,121.12 552.0,121.83 553.0,122.52 554.0,123.22 555.0,123.91 556.0,124.63 557.0,125.34 558.0,126.06 559.0,126.76 560.0,127.46 561.0,128.16 562.0,128.90 563.0,129.63 564.0,130.37 565.0,131.10 566.0,131.82 567.0,132.55 568.0,133.27 569.0,133.99 570.0,134.71 571.0,135.46 572.0,136.20 573.0,136.96 574.0,137.69 575.0,138.44 576.0,139.18 577.0,139.94 578.0,140.71 579.0,141.48 580.0,142.24 581.0,142.99 582.0,143.75 583.0,144.52 584.0,145.29 585.0,146.07 586.0,146.84 587.0,147.61 588.0,148.39 589.0,149.16 590.0,149.93 591.0,150.71" fill="none" stroke="#fff" stroke-opacity="0.6" stroke-width="3.4000000000000004" stroke-linejoin="round" clip-path="url(#clipb)"/>
<polyline points="360.0,55.45 361.0,55.43 362.0,55.43 363.0,54.95 364.0,55.69 365.0,55.15 366.0,55.95 367.0,55.96 368.0,56.09 369.0,56.17 370.0,56.13 371.0,56.03 372.0,56.17 373.0,56.67 374.0,56.30 375.0,56.47 376.0,56.47 377.0,56.62 378.0,56.77 379.0,56.99 380.0,56.99 381.0,57.09 382.0,57.15 383.0,57.41 384.0,57.25 385.0,57.65 386.0,58.02 387.0,57.74 388.0,58.01 389.0,58.69 390.0,58.11 391.0,58.13 392.0,58.50 393.0,59.05 394.0,59.24 395.0,58.81 396.0,59.28 397.0,59.33 398.0,59.39 399.0,59.33 400.0,59.99 401.0,59.85 402.0,60.21 403.0,60.35 404.0,60.82 405.0,60.89 406.0,60.71 407.0,61.04 408.0,61.42 409.0,61.26 410.0,61.60 411.0,61.89 412.0,61.84 413.0,62.10 414.0,62.25 415.0,62.74 416.0,62.84 417.0,63.26 418.0,63.38 419.0,63.67 420.0,63.82 421.0,64.16 422.0,64.29 423.0,64.43 424.0,64.93 425.0,65.16 426.0,65.55 427.0,65.54 428.0,65.75 429.0,65.93 430.0,65.95 431.0,66.49 432.0,66.95 433.0,67.09 434.0,67.22 435.0,67.81 436.0,67.99 437.0,68.31 438.0,68.60 439.0,68.93 440.0,69.29 441.0,69.42 442.0,69.86 443.0,70.16 444.0,70.61 445.0,70.78 446.0,71.30 447.0,71.56 448.0,71.97 449.0,72.16 450.0,72.61 451.0,72.93 452.0,73.18 453.0,73.62 454.0,73.97 455.0,74.32 456.0,74.70 457.0,75.05 458.0,75.48 459.0,75.91 460.0,76.26 461.0,76.62 462.0,77.13 463.0,77.48 464.0,77.91 465.0,78.31 466.0,78.73 467.0,79.18 468.0,79.58 469.0,80.03 470.0,80.43 471.0,80.87 472.0,81.35 473.0,81.86 474.0,82.28 475.0,82.78 476.0,83.21 477.0,83.69 478.0,84.14 479.0,84.63 480.0,85.16 481.0,85.64 482.0,86.09 483.0,86.59 484.0,87.14 485.0,87.60 486.0,88.15 487.0,88.62 488.0,89.19 489.0,89.73 490.0,90.25 491.0,90.77 492.0,91.31 493.0,91.84 494.0,92.39 495.0,92.98 496.0,93.53 497.0,94.08 498.0,94.60 499.0,95.19 500.0,95.79 501.0,96.36 502.0,96.91 503.0,97.54 504.0,98.18 505.0,98.68 506.0,99.32 507.0,99.96 508.0,100.52 509.0,101.13 510.0,101.76 511.0,102.39 512.0,102.99 513.0,103.65 514.0,104.21 515.0,104.92 516.0,105.55 517.0,106.18 518.0,106.84 519.0,107.49 520.0,108.18 521.0,108.79 522.0,109.47 523.0,110.10 524.0,110.78 525.0,111.48 526.0,112.13 527.0,112.83 528.0,113.51 529.0,114.22 530.0,114.93 531.0,115.65 532.0,116.28 533.0,117.03 534.0,117.77 535.0,118.50 536.0,119.21 537.0,119.86 538.0,120.61 539.0,121.37 540.0,122.11 541.0,122.83 542.0,123.57 543.0,124.31 544.0,125.04 545.0,125.81 546.0,126.58 547.0,127.31 548.0,128.11 549.0,128.77 550.0,129.60 551.0,130.43 552.0,131.18 553.0,131.97 554.0,132.72 555.0,133.48 556.0,134.28 557.0,135.12 558.0,135.84 559.0,136.66 560.0,137.44 561.0,138.27 562.0,139.09 563.0,139.92 564.0,140.70 565.0,141.59 566.0,142.38 567.0,143.18 568.0,143.99 569.0,144.81 570.0,145.69 571.0,146.57 572.0,147.36 573.0,148.18 574.0,149.05 575.0,149.89 576.0,150.73 577.0,151.57 578.0,152.47 579.0,153.37 580.0,154.23 581.0,155.09 582.0,155.94 583.0,156.83 584.0,157.72 585.0,158.57 586.0,159.46 587.0,160.33 588.0,161.26 589.0,162.10 590.0,163.03 591.0,163.93" fill="none" stroke="#fff" stroke-opacity="0.6" stroke-width="3.4000000000000004" stroke-linejoin="round" clip-path="url(#clipb)"/>
<polyline points="360.0,113.84 361.0,113.84 362.0,113.84 363.0,113.84 364.0,113.84 365.0,113.84 366.0,113.84 367.0,113.84 368.0,113.84 369.0,113.84 370.0,113.83 371.0,113.83 372.0,113.83 373.0,113.83 374.0,113.82 375.0,113.82 376.0,113.82 377.0,113.81 378.0,113.81 379.0,113.80 380.0,113.80 381.0,113.80 382.0,113.79 383.0,113.79 384.0,113.79 385.0,113.79 386.0,113.78 387.0,113.78 388.0,113.78 389.0,113.78 390.0,113.78 391.0,113.78 392.0,113.78 393.0,113.78 394.0,113.78 395.0,113.78 396.0,113.78 397.0,113.79 398.0,113.79 399.0,113.79 400.0,113.80 401.0,113.80 402.0,113.81 403.0,113.82 404.0,113.83 405.0,113.84 406.0,113.85 407.0,113.86 408.0,113.87 409.0,113.89 410.0,113.90 411.0,113.92 412.0,113.93 413.0,113.95 414.0,113.97 415.0,113.99 416.0,114.02 417.0,114.04 418.0,114.07 419.0,114.09 420.0,114.12 421.0,114.15 422.0,114.18 423.0,114.21 424.0,114.25 425.0,114.28 426.0,114.32 427.0,114.36 428.0,114.40 429.0,114.45 430.0,114.49 431.0,114.54 432.0,114.59 433.0,114.64 434.0,114.69 435.0,114.75 436.0,114.80 437.0,114.86 438.0,114.92 439.0,114.99 440.0,115.05 441.0,115.12 442.0,115.19 443.0,115.26 444.0,115.34 445.0,115.42 446.0,115.49 447.0,115.58 448.0,115.66 449.0,115.75 450.0,115.84 451.0,115.93 452.0,116.03 453.0,116.12 454.0,116.22 455.0,116.33 456.0,116.43 457.0,116.54 458.0,116.65 459.0,116.77 460.0,116.88 461.0,117.01 462.0,117.13 463.0,117.25 464.0,117.38 465.0,117.52 466.0,117.65 467.0,117.79 468.0,117.93 469.0,118.08 470.0,118.23 471.0,118.38 472.0,118.54 473.0,118.69 474.0,118.86 475.0,119.02 476.0,119.19 477.0,119.36 478.0,119.54 479.0,119.72 480.0,119.90 481.0,120.09 482.0,120.28 483.0,120.48 484.0,120.68 485.0,120.88 486.0,121.08 487.0,121.29 488.0,121.51 489.0,121.73 490.0,121.95 491.0,122.18 492.0,122.41 493.0,122.64 494.0,122.88 495.0,123.12 496.0,123.37 497.0,123.62 498.0,123.87 499.0,124.13 500.0,124.40 501.0,124.67 502.0,124.94 503.0,125.22 504.0,125.50 505.0,125.79 506.0,126.08 507.0,126.37 508.0,126.67 509.0,126.98 510.0,127.29 511.0,127.60 512.0,127.92 513.0,128.25 514.0,128.58 515.0,128.91 516.0,129.25 517.0,129.59 518.0,129.94 519.0,130.30 520.0,130.66 521.0,131.02 522.0,131.39 523.0,131.77 524.0,132.15 525.0,132.53 526.0,132.92 527.0,133.32 528.0,133.72 529.0,134.12 530.0,134.54 531.0,134.95 532.0,135.38 533.0,135.81 534.0,136.24 535.0,136.68 536.0,137.13 537.0,137.58 538.0,138.03 539.0,138.50 540.0,138.97 541.0,139.44 542.0,139.92 543.0,140.41 544.0,140.90 545.0,141.39 546.0,141.90 547.0,142.41 548.0,142.92 549.0,143.44 550.0,143.97 551.0,144.50 552.0,145.04 553.0,145.59 554.0,146.14 555.0,146.70 556.0,147.26 557.0,147.83 558.0,148.40 559.0,148.98 560.0,149.57 561.0,150.17 562.0,150.77 563.0,151.37 564.0,151.99 565.0,152.60 566.0,153.23 567.0,153.86 568.0,154.50 569.0,155.14 570.0,155.79 571.0,156.45 572.0,157.11 573.0,157.78 574.0,158.46 575.0,159.14 576.0,159.83 577.0,160.52 578.0,161.23 579.0,161.93 580.0,162.65 581.0,163.37 582.0,164.10 583.0,164.83 584.0,165.58 585.0,166.32 586.0,167.08 587.0,167.84 588.0,168.61 589.0,169.38 590.0,170.16 591.0,170.95" fill="none" stroke="#fff" stroke-opacity="0.6" stroke-width="3.4000000000000004" stroke-linejoin="round" clip-path="url(#clipb)"/>
<polyline points="360.0,22.02 361.0,22.19 362.0,22.36 363.0,22.54 364.0,22.91 365.0,23.27 366.0,23.64 367.0,24.12 368.0,24.61 369.0,25.09 370.0,24.94 371.0,24.78 372.0,24.63 373.0,24.68 374.0,24.73 375.0,24.79 376.0,25.10 377.0,25.41 378.0,25.73 379.0,26.55 380.0,27.37 381.0,28.19 382.0,27.98 383.0,27.78 384.0,27.59 385.0,27.68 386.0,27.78 387.0,27.89 388.0,28.36 389.0,28.83 390.0,29.30 391.0,29.72 392.0,30.14 393.0,30.56 394.0,30.86 395.0,31.17 396.0,31.47 397.0,32.09 398.0,32.71 399.0,33.34 400.0,33.27 401.0,33.20 402.0,33.14 403.0,33.23 404.0,33.32 405.0,33.42 406.0,34.32 407.0,35.23 408.0,36.14 409.0,36.27 410.0,36.41 411.0,36.56 412.0,36.93 413.0,37.30 414.0,37.68 415.0,37.90 416.0,38.12 417.0,38.34 418.0,38.67 419.0,39.01 420.0,39.36 421.0,40.17 422.0,40.99 423.0,41.82 424.0,41.75 425.0,41.68 426.0,41.62 427.0,42.18 428.0,42.75 429.0,43.32 430.0,43.68 431.0,44.04 432.0,44.40 433.0,45.21 434.0,46.03 435.0,46.84 436.0,47.14 437.0,47.44 438.0,47.74 439.0,48.06 440.0,48.39 441.0,48.73 442.0,49.38 443.0,50.04 444.0,50.71 445.0,51.34 446.0,51.97 447.0,52.61 448.0,52.75 449.0,52.90 450.0,53.05 451.0,53.56 452.0,54.08 453.0,54.60 454.0,55.26 455.0,55.92 456.0,56.58 457.0,57.09 458.0,57.60 459.0,58.11 460.0,58.50 461.0,58.90 462.0,59.30 463.0,59.90 464.0,60.49 465.0,61.10 466.0,61.71 467.0,62.32 468.0,62.94 469.0,63.58 470.0,64.22 471.0,64.86 472.0,65.24 473.0,65.62 474.0,66.00 475.0,66.75 476.0,67.51 477.0,68.27 478.0,68.85 479.0,69.43 480.0,70.01 481.0,70.71 482.0,71.42 483.0,72.13 484.0,72.44 485.0,72.76 486.0,73.08 487.0,73.83 488.0,74.58 489.0,75.34 490.0,75.97 491.0,76.60 492.0,77.23 493.0,77.97 494.0,78.71 495.0,79.45 496.0,79.97 497.0,80.48 498.0,81.00 499.0,81.68 500.0,82.37 501.0,83.07 502.0,83.76 503.0,84.46 504.0,85.17 505.0,85.85 506.0,86.54 507.0,87.24 508.0,87.91 509.0,88.59 510.0,89.28 511.0,89.90 512.0,90.53 513.0,91.15 514.0,91.98 515.0,92.80 516.0,93.63 517.0,94.24 518.0,94.85 519.0,95.46 520.0,96.22 521.0,96.98 522.0,97.75 523.0,98.49 524.0,99.24 525.0,99.99 526.0,100.68 527.0,101.36 528.0,102.05 529.0,102.83 530.0,103.61 531.0,104.39 532.0,105.06 533.0,105.74 534.0,106.41 535.0,107.23 536.0,108.04 537.0,108.86 538.0,109.61 539.0,110.36 540.0,111.12 541.0,111.86 542.0,112.60 543.0,113.34 544.0,114.16 545.0,114.98 546.0,115.80 547.0,116.58 548.0,117.36 549.0,118.14 550.0,119.02 551.0,119.90 552.0,120.78 553.0,121.52 554.0,122.26 555.0,123.00 556.0,123.79 557.0,124.58 558.0,125.37 559.0,126.25 560.0,127.13 561.0,128.01 562.0,128.84 563.0,129.66 564.0,130.50 565.0,131.45 566.0,132.41 567.0,133.37 568.0,134.18 569.0,135.00 570.0,135.82 571.0,136.61 572.0,137.41 573.0,138.21 574.0,139.03 575.0,139.86 576.0,140.69 577.0,141.68 578.0,142.67 579.0,143.67 580.0,144.47 581.0,145.27 582.0,146.07 583.0,146.88 584.0,147.69 585.0,148.50 586.0,149.47 587.0,150.45 588.0,151.43 589.0,152.25 590.0,153.07 591.0,153.89" fill="none" stroke="#fff" stroke-opacity="0.6" stroke-width="3.4000000000000004" stroke-linejoin="round" clip-path="url(#clipb)"/>
<polyline points="360.0,37.54 361.0,37.82 362.0,38.10 363.0,38.39 364.0,38.50 365.0,38.61 366.0,38.72 367.0,38.88 368.0,39.04 369.0,39.20 370.0,39.42 371.0,39.64 372.0,39.87 373.0,40.09 374.0,40.32 375.0,40.54 376.0,40.68 377.0,40.81 378.0,40.95 379.0,41.15 380.0,41.35 381.0,41.56 382.0,41.62 383.0,41.68 384.0,41.75 385.0,42.16 386.0,42.58 387.0,43.00 388.0,43.13 389.0,43.27 390.0,43.41 391.0,43.79 392.0,44.17 393.0,44.56 394.0,44.84 395.0,45.13 396.0,45.42 397.0,45.38 398.0,45.34 399.0,45.31 400.0,45.88 401.0,46.45 402.0,47.02 403.0,47.10 404.0,47.19 405.0,47.28 406.0,47.54 407.0,47.80 408.0,48.07 409.0,48.45 410.0,48.83 411.0,49.21 412.0,49.57 413.0,49.93 414.0,50.29 415.0,50.67 416.0,51.05 417.0,51.44 418.0,51.92 419.0,52.40 420.0,52.88 421.0,52.87 422.0,52.86 423.0,52.85 424.0,53.29 425.0,53.73 426.0,54.17 427.0,54.59 428.0,55.01 429.0,55.43 430.0,55.73 431.0,56.03 432.0,56.33 433.0,56.63 434.0,56.93 435.0,57.22 436.0,57.72 437.0,58.21 438.0,58.71 439.0,59.12 440.0,59.53 441.0,59.94 442.0,60.37 443.0,60.81 444.0,61.24 445.0,61.61 446.0,61.98 447.0,62.35 448.0,62.87 449.0,63.40 450.0,63.93 451.0,64.29 452.0,64.66 453.0,65.03 454.0,65.50 455.0,65.97 456.0,66.45 457.0,66.80 458.0,67.16 459.0,67.52 460.0,67.90 461.0,68.29 462.0,68.69 463.0,69.31 464.0,69.94 465.0,70.57 466.0,71.02 467.0,71.48 468.0,71.94 469.0,72.44 470.0,72.94 471.0,73.44 472.0,73.91 473.0,74.38 474.0,74.85 475.0,75.34 476.0,75.82 477.0,76.31 478.0,76.82 479.0,77.34 480.0,77.85 481.0,78.41 482.0,78.97 483.0,79.53 484.0,80.00 485.0,80.48 486.0,80.96 487.0,81.51 488.0,82.06 489.0,82.61 490.0,83.16 491.0,83.71 492.0,84.26 493.0,84.82 494.0,85.38 495.0,85.94 496.0,86.53 497.0,87.13 498.0,87.72 499.0,88.24 500.0,88.76 501.0,89.28 502.0,89.90 503.0,90.52 504.0,91.14 505.0,91.69 506.0,92.24 507.0,92.79 508.0,93.38 509.0,93.97 510.0,94.56 511.0,95.16 512.0,95.75 513.0,96.35 514.0,96.97 515.0,97.59 516.0,98.22 517.0,98.84 518.0,99.47 519.0,100.10 520.0,100.68 521.0,101.27 522.0,101.86 523.0,102.50 524.0,103.14 525.0,103.78 526.0,104.42 527.0,105.05 528.0,105.69 529.0,106.33 530.0,106.97 531.0,107.61 532.0,108.26 533.0,108.91 534.0,109.55 535.0,110.23 536.0,110.91 537.0,111.59 538.0,112.26 539.0,112.93 540.0,113.60 541.0,114.27 542.0,114.94 543.0,115.61 544.0,116.28 545.0,116.95 546.0,117.62 547.0,118.31 548.0,119.01 549.0,119.71 550.0,120.42 551.0,121.12 552.0,121.83 553.0,122.52 554.0,123.22 555.0,123.91 556.0,124.63 557.0,125.34 558.0,126.06 559.0,126.76 560.0,127.46 561.0,128.16 562.0,128.90 563.0,129.63 564.0,130.37 565.0,131.10 566.0,131.82 567.0,132.55 568.0,133.27 569.0,133.99 570.0,134.71 571.0,135.46 572.0,136.20 573.0,136.96 574.0,137.69 575.0,138.44 576.0,139.18 577.0,139.94 578.0,140.71 579.0,141.48 580.0,142.24 581.0,142.99 582.0,143.75 583.0,144.52 584.0,145.29 585.0,146.07 586.0,146.84 587.0,147.61 588.0,148.39 589.0,149.16 590.0,149.93 591.0,150.71" fill="none" stroke="#9467bd" stroke-width="1.6" stroke-linejoin="round" clip-path="url(#clipb)"/>
<polyline points="360.0,55.45 361.0,55.43 362.0,55.43 363.0,54.95 364.0,55.69 365.0,55.15 366.0,55.95 367.0,55.96 368.0,56.09 369.0,56.17 370.0,56.13 371.0,56.03 372.0,56.17 373.0,56.67 374.0,56.30 375.0,56.47 376.0,56.47 377.0,56.62 378.0,56.77 379.0,56.99 380.0,56.99 381.0,57.09 382.0,57.15 383.0,57.41 384.0,57.25 385.0,57.65 386.0,58.02 387.0,57.74 388.0,58.01 389.0,58.69 390.0,58.11 391.0,58.13 392.0,58.50 393.0,59.05 394.0,59.24 395.0,58.81 396.0,59.28 397.0,59.33 398.0,59.39 399.0,59.33 400.0,59.99 401.0,59.85 402.0,60.21 403.0,60.35 404.0,60.82 405.0,60.89 406.0,60.71 407.0,61.04 408.0,61.42 409.0,61.26 410.0,61.60 411.0,61.89 412.0,61.84 413.0,62.10 414.0,62.25 415.0,62.74 416.0,62.84 417.0,63.26 418.0,63.38 419.0,63.67 420.0,63.82 421.0,64.16 422.0,64.29 423.0,64.43 424.0,64.93 425.0,65.16 426.0,65.55 427.0,65.54 428.0,65.75 429.0,65.93 430.0,65.95 431.0,66.49 432.0,66.95 433.0,67.09 434.0,67.22 435.0,67.81 436.0,67.99 437.0,68.31 438.0,68.60 439.0,68.93 440.0,69.29 441.0,69.42 442.0,69.86 443.0,70.16 444.0,70.61 445.0,70.78 446.0,71.30 447.0,71.56 448.0,71.97 449.0,72.16 450.0,72.61 451.0,72.93 452.0,73.18 453.0,73.62 454.0,73.97 455.0,74.32 456.0,74.70 457.0,75.05 458.0,75.48 459.0,75.91 460.0,76.26 461.0,76.62 462.0,77.13 463.0,77.48 464.0,77.91 465.0,78.31 466.0,78.73 467.0,79.18 468.0,79.58 469.0,80.03 470.0,80.43 471.0,80.87 472.0,81.35 473.0,81.86 474.0,82.28 475.0,82.78 476.0,83.21 477.0,83.69 478.0,84.14 479.0,84.63 480.0,85.16 481.0,85.64 482.0,86.09 483.0,86.59 484.0,87.14 485.0,87.60 486.0,88.15 487.0,88.62 488.0,89.19 489.0,89.73 490.0,90.25 491.0,90.77 492.0,91.31 493.0,91.84 494.0,92.39 495.0,92.98 496.0,93.53 497.0,94.08 498.0,94.60 499.0,95.19 500.0,95.79 501.0,96.36 502.0,96.91 503.0,97.54 504.0,98.18 505.0,98.68 506.0,99.32 507.0,99.96 508.0,100.52 509.0,101.13 510.0,101.76 511.0,102.39 512.0,102.99 513.0,103.65 514.0,104.21 515.0,104.92 516.0,105.55 517.0,106.18 518.0,106.84 519.0,107.49 520.0,108.18 521.0,108.79 522.0,109.47 523.0,110.10 524.0,110.78 525.0,111.48 526.0,112.13 527.0,112.83 528.0,113.51 529.0,114.22 530.0,114.93 531.0,115.65 532.0,116.28 533.0,117.03 534.0,117.77 535.0,118.50 536.0,119.21 537.0,119.86 538.0,120.61 539.0,121.37 540.0,122.11 541.0,122.83 542.0,123.57 543.0,124.31 544.0,125.04 545.0,125.81 546.0,126.58 547.0,127.31 548.0,128.11 549.0,128.77 550.0,129.60 551.0,130.43 552.0,131.18 553.0,131.97 554.0,132.72 555.0,133.48 556.0,134.28 557.0,135.12 558.0,135.84 559.0,136.66 560.0,137.44 561.0,138.27 562.0,139.09 563.0,139.92 564.0,140.70 565.0,141.59 566.0,142.38 567.0,143.18 568.0,143.99 569.0,144.81 570.0,145.69 571.0,146.57 572.0,147.36 573.0,148.18 574.0,149.05 575.0,149.89 576.0,150.73 577.0,151.57 578.0,152.47 579.0,153.37 580.0,154.23 581.0,155.09 582.0,155.94 583.0,156.83 584.0,157.72 585.0,158.57 586.0,159.46 587.0,160.33 588.0,161.26 589.0,162.10 590.0,163.03 591.0,163.93" fill="none" stroke="#8c564b" stroke-width="1.6" stroke-linejoin="round" clip-path="url(#clipb)"/>
<polyline points="360.0,113.84 361.0,113.84 362.0,113.84 363.0,113.84 364.0,113.84 365.0,113.84 366.0,113.84 367.0,113.84 368.0,113.84 369.0,113.84 370.0,113.83 371.0,113.83 372.0,113.83 373.0,113.83 374.0,113.82 375.0,113.82 376.0,113.82 377.0,113.81 378.0,113.81 379.0,113.80 380.0,113.80 381.0,113.80 382.0,113.79 383.0,113.79 384.0,113.79 385.0,113.79 386.0,113.78 387.0,113.78 388.0,113.78 389.0,113.78 390.0,113.78 391.0,113.78 392.0,113.78 393.0,113.78 394.0,113.78 395.0,113.78 396.0,113.78 397.0,113.79 398.0,113.79 399.0,113.79 400.0,113.80 401.0,113.80 402.0,113.81 403.0,113.82 404.0,113.83 405.0,113.84 406.0,113.85 407.0,113.86 408.0,113.87 409.0,113.89 410.0,113.90 411.0,113.92 412.0,113.93 413.0,113.95 414.0,113.97 415.0,113.99 416.0,114.02 417.0,114.04 418.0,114.07 419.0,114.09 420.0,114.12 421.0,114.15 422.0,114.18 423.0,114.21 424.0,114.25 425.0,114.28 426.0,114.32 427.0,114.36 428.0,114.40 429.0,114.45 430.0,114.49 431.0,114.54 432.0,114.59 433.0,114.64 434.0,114.69 435.0,114.75 436.0,114.80 437.0,114.86 438.0,114.92 439.0,114.99 440.0,115.05 441.0,115.12 442.0,115.19 443.0,115.26 444.0,115.34 445.0,115.42 446.0,115.49 447.0,115.58 448.0,115.66 449.0,115.75 450.0,115.84 451.0,115.93 452.0,116.03 453.0,116.12 454.0,116.22 455.0,116.33 456.0,116.43 457.0,116.54 458.0,116.65 459.0,116.77 460.0,116.88 461.0,117.01 462.0,117.13 463.0,117.25 464.0,117.38 465.0,117.52 466.0,117.65 467.0,117.79 468.0,117.93 469.0,118.08 470.0,118.23 471.0,118.38 472.0,118.54 473.0,118.69 474.0,118.86 475.0,119.02 476.0,119.19 477.0,119.36 478.0,119.54 479.0,119.72 480.0,119.90 481.0,120.09 482.0,120.28 483.0,120.48 484.0,120.68 485.0,120.88 486.0,121.08 487.0,121.29 488.0,121.51 489.0,121.73 490.0,121.95 491.0,122.18 492.0,122.41 493.0,122.64 494.0,122.88 495.0,123.12 496.0,123.37 497.0,123.62 498.0,123.87 499.0,124.13 500.0,124.40 501.0,124.67 502.0,124.94 503.0,125.22 504.0,125.50 505.0,125.79 506.0,126.08 507.0,126.37 508.0,126.67 509.0,126.98 510.0,127.29 511.0,127.60 512.0,127.92 513.0,128.25 514.0,128.58 515.0,128.91 516.0,129.25 517.0,129.59 518.0,129.94 519.0,130.30 520.0,130.66 521.0,131.02 522.0,131.39 523.0,131.77 524.0,132.15 525.0,132.53 526.0,132.92 527.0,133.32 528.0,133.72 529.0,134.12 530.0,134.54 531.0,134.95 532.0,135.38 533.0,135.81 534.0,136.24 535.0,136.68 536.0,137.13 537.0,137.58 538.0,138.03 539.0,138.50 540.0,138.97 541.0,139.44 542.0,139.92 543.0,140.41 544.0,140.90 545.0,141.39 546.0,141.90 547.0,142.41 548.0,142.92 549.0,143.44 550.0,143.97 551.0,144.50 552.0,145.04 553.0,145.59 554.0,146.14 555.0,146.70 556.0,147.26 557.0,147.83 558.0,148.40 559.0,148.98 560.0,149.57 561.0,150.17 562.0,150.77 563.0,151.37 564.0,151.99 565.0,152.60 566.0,153.23 567.0,153.86 568.0,154.50 569.0,155.14 570.0,155.79 571.0,156.45 572.0,157.11 573.0,157.78 574.0,158.46 575.0,159.14 576.0,159.83 577.0,160.52 578.0,161.23 579.0,161.93 580.0,162.65 581.0,163.37 582.0,164.10 583.0,164.83 584.0,165.58 585.0,166.32 586.0,167.08 587.0,167.84 588.0,168.61 589.0,169.38 590.0,170.16 591.0,170.95" fill="none" stroke="#1f77b4" stroke-width="1.6" stroke-linejoin="round" clip-path="url(#clipb)"/>
<polyline points="360.0,22.02 361.0,22.19 362.0,22.36 363.0,22.54 364.0,22.91 365.0,23.27 366.0,23.64 367.0,24.12 368.0,24.61 369.0,25.09 370.0,24.94 371.0,24.78 372.0,24.63 373.0,24.68 374.0,24.73 375.0,24.79 376.0,25.10 377.0,25.41 378.0,25.73 379.0,26.55 380.0,27.37 381.0,28.19 382.0,27.98 383.0,27.78 384.0,27.59 385.0,27.68 386.0,27.78 387.0,27.89 388.0,28.36 389.0,28.83 390.0,29.30 391.0,29.72 392.0,30.14 393.0,30.56 394.0,30.86 395.0,31.17 396.0,31.47 397.0,32.09 398.0,32.71 399.0,33.34 400.0,33.27 401.0,33.20 402.0,33.14 403.0,33.23 404.0,33.32 405.0,33.42 406.0,34.32 407.0,35.23 408.0,36.14 409.0,36.27 410.0,36.41 411.0,36.56 412.0,36.93 413.0,37.30 414.0,37.68 415.0,37.90 416.0,38.12 417.0,38.34 418.0,38.67 419.0,39.01 420.0,39.36 421.0,40.17 422.0,40.99 423.0,41.82 424.0,41.75 425.0,41.68 426.0,41.62 427.0,42.18 428.0,42.75 429.0,43.32 430.0,43.68 431.0,44.04 432.0,44.40 433.0,45.21 434.0,46.03 435.0,46.84 436.0,47.14 437.0,47.44 438.0,47.74 439.0,48.06 440.0,48.39 441.0,48.73 442.0,49.38 443.0,50.04 444.0,50.71 445.0,51.34 446.0,51.97 447.0,52.61 448.0,52.75 449.0,52.90 450.0,53.05 451.0,53.56 452.0,54.08 453.0,54.60 454.0,55.26 455.0,55.92 456.0,56.58 457.0,57.09 458.0,57.60 459.0,58.11 460.0,58.50 461.0,58.90 462.0,59.30 463.0,59.90 464.0,60.49 465.0,61.10 466.0,61.71 467.0,62.32 468.0,62.94 469.0,63.58 470.0,64.22 471.0,64.86 472.0,65.24 473.0,65.62 474.0,66.00 475.0,66.75 476.0,67.51 477.0,68.27 478.0,68.85 479.0,69.43 480.0,70.01 481.0,70.71 482.0,71.42 483.0,72.13 484.0,72.44 485.0,72.76 486.0,73.08 487.0,73.83 488.0,74.58 489.0,75.34 490.0,75.97 491.0,76.60 492.0,77.23 493.0,77.97 494.0,78.71 495.0,79.45 496.0,79.97 497.0,80.48 498.0,81.00 499.0,81.68 500.0,82.37 501.0,83.07 502.0,83.76 503.0,84.46 504.0,85.17 505.0,85.85 506.0,86.54 507.0,87.24 508.0,87.91 509.0,88.59 510.0,89.28 511.0,89.90 512.0,90.53 513.0,91.15 514.0,91.98 515.0,92.80 516.0,93.63 517.0,94.24 518.0,94.85 519.0,95.46 520.0,96.22 521.0,96.98 522.0,97.75 523.0,98.49 524.0,99.24 525.0,99.99 526.0,100.68 527.0,101.36 528.0,102.05 529.0,102.83 530.0,103.61 531.0,104.39 532.0,105.06 533.0,105.74 534.0,106.41 535.0,107.23 536.0,108.04 537.0,108.86 538.0,109.61 539.0,110.36 540.0,111.12 541.0,111.86 542.0,112.60 543.0,113.34 544.0,114.16 545.0,114.98 546.0,115.80 547.0,116.58 548.0,117.36 549.0,118.14 550.0,119.02 551.0,119.90 552.0,120.78 553.0,121.52 554.0,122.26 555.0,123.00 556.0,123.79 557.0,124.58 558.0,125.37 559.0,126.25 560.0,127.13 561.0,128.01 562.0,128.84 563.0,129.66 564.0,130.50 565.0,131.45 566.0,132.41 567.0,133.37 568.0,134.18 569.0,135.00 570.0,135.82 571.0,136.61 572.0,137.41 573.0,138.21 574.0,139.03 575.0,139.86 576.0,140.69 577.0,141.68 578.0,142.67 579.0,143.67 580.0,144.47 581.0,145.27 582.0,146.07 583.0,146.88 584.0,147.69 585.0,148.50 586.0,149.47 587.0,150.45 588.0,151.43 589.0,152.25 590.0,153.07 591.0,153.89" fill="none" stroke="#d62728" stroke-width="1.6" stroke-linejoin="round" clip-path="url(#clipb)"/>
<line x1="360" y1="167.99" x2="365.20" y2="167.99" stroke="#000" stroke-width="1.4"/>
<line x1="360" y1="161.10" x2="365.20" y2="161.10" stroke="#000" stroke-width="1.4"/>
<line x1="360" y1="155.28" x2="365.20" y2="155.28" stroke="#000" stroke-width="1.4"/>
<line x1="360" y1="150.23" x2="365.20" y2="150.23" stroke="#000" stroke-width="1.4"/>
<line x1="360" y1="145.78" x2="365.20" y2="145.78" stroke="#000" stroke-width="1.4"/>
<line x1="360" y1="141.80" x2="369.50" y2="141.80" stroke="#000" stroke-width="1.8"/>
<text x="336.60" y="146.30" font-size="12.3" text-anchor="start" fill="#000" textLength="14.09" lengthAdjust="spacingAndGlyphs">10</text>
<text x="352.00" y="141.90" font-size="8.6" text-anchor="start" fill="#000" textLength="4.65" lengthAdjust="spacingAndGlyphs">6</text>
<line x1="360" y1="115.61" x2="365.20" y2="115.61" stroke="#000" stroke-width="1.4"/>
<line x1="360" y1="100.29" x2="365.20" y2="100.29" stroke="#000" stroke-width="1.4"/>
<line x1="360" y1="89.42" x2="365.20" y2="89.42" stroke="#000" stroke-width="1.4"/>
<line x1="360" y1="80.99" x2="365.20" y2="80.99" stroke="#000" stroke-width="1.4"/>
<line x1="360" y1="74.10" x2="365.20" y2="74.10" stroke="#000" stroke-width="1.4"/>
<line x1="360" y1="68.28" x2="365.20" y2="68.28" stroke="#000" stroke-width="1.4"/>
<line x1="360" y1="63.23" x2="365.20" y2="63.23" stroke="#000" stroke-width="1.4"/>
<line x1="360" y1="58.78" x2="365.20" y2="58.78" stroke="#000" stroke-width="1.4"/>
<line x1="360" y1="54.80" x2="369.50" y2="54.80" stroke="#000" stroke-width="1.8"/>
<text x="336.60" y="59.30" font-size="12.3" text-anchor="start" fill="#000" textLength="14.09" lengthAdjust="spacingAndGlyphs">10</text>
<text x="352.00" y="54.90" font-size="8.6" text-anchor="start" fill="#000" textLength="4.65" lengthAdjust="spacingAndGlyphs">7</text>
<line x1="360" y1="28.61" x2="365.20" y2="28.61" stroke="#000" stroke-width="1.4"/>
<line x1="360" y1="13.29" x2="365.20" y2="13.29" stroke="#000" stroke-width="1.4"/>
<line x1="360" y1="2.42" x2="365.20" y2="2.42" stroke="#000" stroke-width="1.4"/>
<line x1="360.00" y1="175.0" x2="360.00" y2="165.50" stroke="#000" stroke-width="1.8"/>
<line x1="383.18" y1="175.0" x2="383.18" y2="169.80" stroke="#000" stroke-width="1.4"/>
<line x1="396.74" y1="175.0" x2="396.74" y2="169.80" stroke="#000" stroke-width="1.4"/>
<line x1="406.36" y1="175.0" x2="406.36" y2="169.80" stroke="#000" stroke-width="1.4"/>
<line x1="413.82" y1="175.0" x2="413.82" y2="169.80" stroke="#000" stroke-width="1.4"/>
<line x1="419.92" y1="175.0" x2="419.92" y2="169.80" stroke="#000" stroke-width="1.4"/>
<line x1="425.07" y1="175.0" x2="425.07" y2="169.80" stroke="#000" stroke-width="1.4"/>
<line x1="429.54" y1="175.0" x2="429.54" y2="169.80" stroke="#000" stroke-width="1.4"/>
<line x1="433.48" y1="175.0" x2="433.48" y2="169.80" stroke="#000" stroke-width="1.4"/>
<line x1="437.00" y1="175.0" x2="437.00" y2="165.50" stroke="#000" stroke-width="1.8"/>
<line x1="460.18" y1="175.0" x2="460.18" y2="169.80" stroke="#000" stroke-width="1.4"/>
<line x1="473.74" y1="175.0" x2="473.74" y2="169.80" stroke="#000" stroke-width="1.4"/>
<line x1="483.36" y1="175.0" x2="483.36" y2="169.80" stroke="#000" stroke-width="1.4"/>
<line x1="490.82" y1="175.0" x2="490.82" y2="169.80" stroke="#000" stroke-width="1.4"/>
<line x1="496.92" y1="175.0" x2="496.92" y2="169.80" stroke="#000" stroke-width="1.4"/>
<line x1="502.07" y1="175.0" x2="502.07" y2="169.80" stroke="#000" stroke-width="1.4"/>
<line x1="506.54" y1="175.0" x2="506.54" y2="169.80" stroke="#000" stroke-width="1.4"/>
<line x1="510.48" y1="175.0" x2="510.48" y2="169.80" stroke="#000" stroke-width="1.4"/>
<line x1="514.00" y1="175.0" x2="514.00" y2="165.50" stroke="#000" stroke-width="1.8"/>
<line x1="537.18" y1="175.0" x2="537.18" y2="169.80" stroke="#000" stroke-width="1.4"/>
<line x1="550.74" y1="175.0" x2="550.74" y2="169.80" stroke="#000" stroke-width="1.4"/>
<line x1="560.36" y1="175.0" x2="560.36" y2="169.80" stroke="#000" stroke-width="1.4"/>
<line x1="567.82" y1="175.0" x2="567.82" y2="169.80" stroke="#000" stroke-width="1.4"/>
<line x1="573.92" y1="175.0" x2="573.92" y2="169.80" stroke="#000" stroke-width="1.4"/>
<line x1="579.07" y1="175.0" x2="579.07" y2="169.80" stroke="#000" stroke-width="1.4"/>
<line x1="583.54" y1="175.0" x2="583.54" y2="169.80" stroke="#000" stroke-width="1.4"/>
<line x1="587.48" y1="175.0" x2="587.48" y2="169.80" stroke="#000" stroke-width="1.4"/>
<line x1="591.00" y1="175.0" x2="591.00" y2="165.50" stroke="#000" stroke-width="1.8"/>
<rect x="360" y="2.4" width="231" height="172.6" fill="none" stroke="#000" stroke-width="1.9"/>
<text x="372.80" y="158.40" font-size="15.9" text-anchor="start" fill="#000" textLength="134.14" lengthAdjust="spacingAndGlyphs">Neck: Gel vs. Dry</text>
<line x1="513" y1="14.80" x2="525.3" y2="14.80" stroke="#d62728" stroke-width="2.6"/>
<text x="531.40" y="18.20" font-size="9.4" text-anchor="start" fill="#000" textLength="13.05" lengthAdjust="spacingAndGlyphs">HC</text>
<line x1="513" y1="28.63" x2="525.3" y2="28.63" stroke="#9467bd" stroke-width="2.6"/>
<text x="531.40" y="32.03" font-size="9.4" text-anchor="start" fill="#000" textLength="12.00" lengthAdjust="spacingAndGlyphs">SC</text>
<line x1="513" y1="42.46" x2="525.3" y2="42.46" stroke="#8c564b" stroke-width="2.6"/>
<text x="531.40" y="45.86" font-size="9.4" text-anchor="start" fill="#000" textLength="50.51" lengthAdjust="spacingAndGlyphs">PEDOT:PSS</text>
<line x1="513" y1="56.29" x2="525.3" y2="56.29" stroke="#1f77b4" stroke-width="2.6"/>
<text x="531.40" y="59.69" font-size="9.4" text-anchor="start" fill="#000" textLength="15.01" lengthAdjust="spacingAndGlyphs">Gel</text>
<text x="332.40" y="10.90" font-size="13.8" text-anchor="start" fill="#000" font-weight="bold" textLength="21.59" lengthAdjust="spacingAndGlyphs">(b)</text>
<polyline points="47.0,237.95 48.0,238.05 49.0,238.15 50.0,238.26 51.0,238.37 52.0,238.50 53.0,238.64 54.0,238.80 55.0,238.98 56.0,239.17 57.0,239.35 58.0,239.54 59.0,239.71 60.0,239.86 61.0,240.00 62.0,240.11 63.0,240.22 64.0,240.31 65.0,240.40 66.0,240.50 67.0,240.59 68.0,240.68 69.0,240.78 70.0,240.88 71.0,241.00 72.0,241.19 73.0,241.45 74.0,241.71 75.0,241.92 76.0,242.00 77.0,242.00 78.0,242.00 79.0,242.00 80.0,242.00 81.0,242.00 82.0,242.00 83.0,242.00 84.0,242.00 85.0,242.00 86.0,242.00 87.0,242.16 88.0,242.53 89.0,242.97 90.0,243.34 91.0,243.50 92.0,243.45 93.0,243.32 94.0,243.18 95.0,243.05 96.0,243.00 97.0,243.02 98.0,243.08 99.0,243.18 100.0,243.32 101.0,243.50 102.0,244.55 103.0,245.50 104.0,245.24 105.0,244.76 106.0,244.50 107.0,244.53 108.0,244.61 109.0,244.73 110.0,244.86 111.0,245.00 112.0,245.18 113.0,245.41 114.0,245.65 115.0,245.86 116.0,246.00 117.0,246.08 118.0,246.14 119.0,246.19 120.0,246.23 121.0,246.26 122.0,246.30 123.0,246.33 124.0,246.38 125.0,246.43 126.0,246.50 127.0,246.59 128.0,246.70 129.0,246.83 130.0,246.98 131.0,247.14 132.0,247.32 133.0,247.51 134.0,247.72 135.0,247.92 136.0,248.14 137.0,248.35 138.0,248.57 139.0,248.79 140.0,249.00 141.0,249.22 142.0,249.44 143.0,249.67 144.0,249.92 145.0,250.16 146.0,250.42 147.0,250.68 148.0,250.95 149.0,251.22 150.0,251.50 151.0,251.79 152.0,252.09 153.0,252.41 154.0,252.73 155.0,253.05 156.0,253.37 157.0,253.69 158.0,254.00 159.0,254.30 160.0,254.59 161.0,254.88 162.0,255.16 163.0,255.44 164.0,255.73 165.0,256.01 166.0,256.29 167.0,256.58 168.0,256.88 169.0,257.19 170.0,257.50 171.0,257.82 172.0,258.15 173.0,258.48 174.0,258.81 175.0,259.16 176.0,259.51 177.0,259.87 178.0,260.23 179.0,260.61 180.0,261.00 181.0,261.40 182.0,261.82 183.0,262.25 184.0,262.70 185.0,263.15 186.0,263.61 187.0,264.08 188.0,264.55 189.0,265.03 190.0,265.50 191.0,265.98 192.0,266.47 193.0,266.98 194.0,267.48 195.0,268.00 196.0,268.51 197.0,269.02 198.0,269.53 199.0,270.03 200.0,270.52 201.0,271.00 202.0,271.46 203.0,271.91 204.0,272.35 205.0,272.78 206.0,273.22 207.0,273.65 208.0,274.09 209.0,274.54 210.0,275.00 211.0,275.47 212.0,275.95 213.0,276.43 214.0,276.91 215.0,277.41 216.0,277.91 217.0,278.41 218.0,278.93 219.0,279.46 220.0,280.00 221.0,280.56 222.0,281.13 223.0,281.73 224.0,282.33 225.0,282.95 226.0,283.57 227.0,284.19 228.0,284.80 229.0,285.41 230.0,286.00 231.0,286.59 232.0,287.17 233.0,287.76 234.0,288.34 235.0,288.92 236.0,289.49 237.0,290.07 238.0,290.63 239.0,291.20 240.0,291.75 241.0,292.30 242.0,292.84 243.0,293.36 244.0,293.87 245.0,294.38 246.0,294.89 247.0,295.40 248.0,295.92 249.0,296.45 250.0,297.00 251.0,297.56 252.0,298.14 253.0,298.72 254.0,299.31 255.0,299.91 256.0,300.52 257.0,301.13 258.0,301.75 259.0,302.37 260.0,303.00 261.0,303.63 262.0,304.27 263.0,304.92 264.0,305.57 265.0,306.23 266.0,306.89 267.0,307.56 268.0,308.24 269.0,308.92 270.0,309.60 271.0,310.29 272.0,310.98 273.0,311.68 274.0,312.39 275.0,313.10 276.0,313.82 277.0,314.54 278.0,315.27" fill="none" stroke="#8c564b" stroke-width="1.5" stroke-dasharray="4.3 2.2" stroke-linejoin="round" clip-path="url(#clipc)"/>
<polyline points="47.0,185.93 48.0,187.55 49.0,188.93 50.0,189.96 51.0,190.54 52.0,190.87 53.0,191.18 54.0,191.72 55.0,192.60 56.0,193.46 57.0,194.41 58.0,195.24 59.0,195.46 60.0,194.48 61.0,193.70 62.0,194.56 63.0,196.14 64.0,197.00 65.0,196.33 66.0,195.07 67.0,194.40 68.0,194.84 69.0,195.86 70.0,197.00 71.0,198.54 72.0,199.90 73.0,199.51 74.0,197.72 75.0,195.73 76.0,194.80 77.0,194.99 78.0,195.45 79.0,196.00 80.0,196.62 81.0,197.50 82.0,199.53 83.0,202.18 84.0,203.50 85.0,203.11 86.0,202.39 87.0,202.00 88.0,202.26 89.0,202.74 90.0,203.00 91.0,202.90 92.0,202.65 93.0,202.35 94.0,202.10 95.0,202.00 96.0,202.19 97.0,202.66 98.0,203.29 99.0,203.95 100.0,204.50 101.0,204.97 102.0,205.44 103.0,205.88 104.0,206.28 105.0,206.60 106.0,206.84 107.0,207.04 108.0,207.21 109.0,207.39 110.0,207.60 111.0,207.84 112.0,208.09 113.0,208.36 114.0,208.66 115.0,209.00 116.0,209.48 117.0,210.11 118.0,210.76 119.0,211.30 120.0,211.60 121.0,211.71 122.0,211.77 123.0,211.83 124.0,211.89 125.0,212.00 126.0,212.31 127.0,212.86 128.0,213.52 129.0,214.14 130.0,214.60 131.0,214.89 132.0,215.12 133.0,215.32 134.0,215.52 135.0,215.73 136.0,216.00 137.0,216.35 138.0,216.75 139.0,217.19 140.0,217.60 141.0,217.98 142.0,218.36 143.0,218.74 144.0,219.12 145.0,219.50 146.0,219.90 147.0,220.31 148.0,220.72 149.0,221.12 150.0,221.50 151.0,221.85 152.0,222.18 153.0,222.50 154.0,222.83 155.0,223.20 156.0,223.61 157.0,224.06 158.0,224.53 159.0,225.02 160.0,225.50 161.0,226.00 162.0,226.52 163.0,227.06 164.0,227.59 165.0,228.12 166.0,228.62 167.0,229.09 168.0,229.51 169.0,229.96 170.0,230.39 171.0,230.77 172.0,231.06 173.0,231.22 174.0,231.29 175.0,231.33 176.0,231.38 177.0,231.46 178.0,232.15 179.0,233.90 180.0,234.83 181.0,235.32 182.0,235.73 183.0,236.20 184.0,236.68 185.0,237.15 186.0,237.64 187.0,238.14 188.0,238.67 189.0,239.23 190.0,239.86 191.0,240.53 192.0,241.22 193.0,241.89 194.0,242.52 195.0,243.12 196.0,243.71 197.0,244.28 198.0,244.85 199.0,245.42 200.0,246.00 201.0,246.59 202.0,247.19 203.0,247.78 204.0,248.38 205.0,248.99 206.0,249.59 207.0,250.19 208.0,250.80 209.0,251.40 210.0,252.00 211.0,252.60 212.0,253.20 213.0,253.80 214.0,254.40 215.0,255.00 216.0,255.60 217.0,256.20 218.0,256.80 219.0,257.40 220.0,258.00 221.0,258.60 222.0,259.19 223.0,259.77 224.0,260.36 225.0,260.94 226.0,261.53 227.0,262.13 228.0,262.74 229.0,263.36 230.0,264.00 231.0,264.66 232.0,265.33 233.0,266.01 234.0,266.71 235.0,267.42 236.0,268.13 237.0,268.85 238.0,269.57 239.0,270.29 240.0,271.00 241.0,271.72 242.0,272.44 243.0,273.18 244.0,273.91 245.0,274.65 246.0,275.38 247.0,276.10 248.0,276.82 249.0,277.52 250.0,278.20 251.0,278.86 252.0,279.51 253.0,280.14 254.0,280.76 255.0,281.38 256.0,281.99 257.0,282.61 258.0,283.23 259.0,283.86 260.0,284.50 261.0,285.15 262.0,285.79 263.0,286.44 264.0,287.08 265.0,287.74 266.0,288.40 267.0,289.07 268.0,289.76 269.0,290.47 270.0,291.20 271.0,291.95 272.0,292.72 273.0,293.51 274.0,294.32 275.0,295.14 276.0,295.98 277.0,296.84 278.0,297.71" fill="none" stroke="#d62728" stroke-width="1.5" stroke-dasharray="4.3 2.2" stroke-linejoin="round" clip-path="url(#clipc)"/>
<polyline points="47.0,184.29 48.0,184.96 49.0,185.79 50.0,186.77 51.0,187.98 52.0,189.76 53.0,191.17 54.0,191.32 55.0,190.82 56.0,190.13 57.0,189.59 58.0,189.38 59.0,189.27 60.0,189.16 61.0,189.00 62.0,188.50 63.0,187.66 64.0,186.78 65.0,186.19 66.0,186.32 67.0,187.67 68.0,189.44 69.0,190.80 70.0,192.05 71.0,192.35 72.0,189.81 73.0,189.85 74.0,191.05 75.0,192.31 76.0,193.90 77.0,195.22 78.0,195.38 79.0,194.31 80.0,192.85 81.0,191.87 82.0,192.26 83.0,194.03 84.0,196.13 85.0,197.50 86.0,198.13 87.0,198.68 88.0,199.11 89.0,199.40 90.0,199.50 91.0,199.08 92.0,198.09 93.0,196.91 94.0,195.92 95.0,195.50 96.0,197.44 97.0,200.00 98.0,201.00 99.0,201.73 100.0,202.50 101.0,203.68 102.0,204.92 103.0,205.50 104.0,205.50 105.0,205.50 106.0,205.50 107.0,205.50 108.0,204.98 109.0,204.02 110.0,203.50 111.0,204.67 112.0,206.83 113.0,208.00 114.0,207.61 115.0,206.89 116.0,206.50 117.0,206.96 118.0,207.97 119.0,209.00 120.0,210.05 121.0,211.23 122.0,212.20 123.0,212.60 124.0,212.54 125.0,212.39 126.0,212.21 127.0,212.06 128.0,212.00 129.0,212.20 130.0,212.71 131.0,213.38 132.0,214.06 133.0,214.60 134.0,214.99 135.0,215.35 136.0,215.68 137.0,216.00 138.0,216.32 139.0,216.65 140.0,217.00 141.0,217.38 142.0,217.79 143.0,218.20 144.0,218.61 145.0,219.00 146.0,219.37 147.0,219.73 148.0,220.09 149.0,220.44 150.0,220.80 151.0,221.15 152.0,221.50 153.0,221.85 154.0,222.22 155.0,222.60 156.0,223.01 157.0,223.44 158.0,223.88 159.0,224.34 160.0,224.80 161.0,225.31 162.0,225.90 163.0,226.52 164.0,227.12 165.0,227.67 166.0,228.11 167.0,228.42 168.0,228.55 169.0,228.63 170.0,228.67 171.0,228.70 172.0,228.74 173.0,228.79 174.0,228.87 175.0,229.00 176.0,230.01 177.0,233.82 178.0,236.77 179.0,230.84 180.0,231.02 181.0,231.92 182.0,232.85 183.0,233.76 184.0,234.50 185.0,235.06 186.0,235.54 187.0,235.97 188.0,236.38 189.0,236.78 190.0,237.20 191.0,237.63 192.0,238.05 193.0,238.46 194.0,238.89 195.0,239.33 196.0,239.80 197.0,240.34 198.0,240.92 199.0,241.50 200.0,242.00 201.0,242.42 202.0,242.80 203.0,243.16 204.0,243.49 205.0,243.81 206.0,244.13 207.0,244.44 208.0,244.77 209.0,245.12 210.0,245.50 211.0,245.90 212.0,246.33 213.0,246.77 214.0,247.22 215.0,247.68 216.0,248.15 217.0,248.61 218.0,249.08 219.0,249.54 220.0,250.00 221.0,250.44 222.0,250.88 223.0,251.31 224.0,251.74 225.0,252.18 226.0,252.61 227.0,253.06 228.0,253.52 229.0,254.00 230.0,254.50 231.0,255.03 232.0,255.61 233.0,256.22 234.0,256.85 235.0,257.49 236.0,258.13 237.0,258.76 238.0,259.38 239.0,259.96 240.0,260.51 241.0,261.00 242.0,261.45 243.0,261.85 244.0,262.24 245.0,262.60 246.0,262.96 247.0,263.32 248.0,263.69 249.0,264.08 250.0,264.50 251.0,264.95 252.0,265.41 253.0,265.89 254.0,266.39 255.0,266.89 256.0,267.40 257.0,267.93 258.0,268.45 259.0,268.98 260.0,269.50 261.0,270.02 262.0,270.55 263.0,271.08 264.0,271.61 265.0,272.15 266.0,272.70 267.0,273.25 268.0,273.82 269.0,274.40 270.0,275.00 271.0,275.61 272.0,276.24 273.0,276.88 274.0,277.53 275.0,278.20 276.0,278.88 277.0,279.58 278.0,280.28" fill="none" stroke="#9467bd" stroke-width="1.5" stroke-dasharray="4.3 2.2" stroke-linejoin="round" clip-path="url(#clipc)"/>
<polyline points="47.0,266.44 48.0,266.53 49.0,266.63 50.0,266.72 51.0,266.82 52.0,266.91 53.0,267.01 54.0,267.11 55.0,267.20 56.0,267.30 57.0,267.40 58.0,267.50 59.0,267.60 60.0,267.70 61.0,267.80 62.0,267.90 63.0,268.00 64.0,268.10 65.0,268.21 66.0,268.31 67.0,268.42 68.0,268.52 69.0,268.63 70.0,268.74 71.0,268.85 72.0,268.96 73.0,269.08 74.0,269.19 75.0,269.30 76.0,269.42 77.0,269.54 78.0,269.66 79.0,269.78 80.0,269.90 81.0,270.02 82.0,270.15 83.0,270.27 84.0,270.40 85.0,270.53 86.0,270.66 87.0,270.80 88.0,270.93 89.0,271.07 90.0,271.21 91.0,271.35 92.0,271.49 93.0,271.64 94.0,271.79 95.0,271.93 96.0,272.09 97.0,272.24 98.0,272.39 99.0,272.55 100.0,272.71 101.0,272.87 102.0,273.04 103.0,273.21 104.0,273.38 105.0,273.55 106.0,273.72 107.0,273.90 108.0,274.08 109.0,274.26 110.0,274.45 111.0,274.64 112.0,274.83 113.0,275.02 114.0,275.22 115.0,275.42 116.0,275.62 117.0,275.82 118.0,276.03 119.0,276.24 120.0,276.46 121.0,276.68 122.0,276.90 123.0,277.12 124.0,277.35 125.0,277.58 126.0,277.81 127.0,278.05 128.0,278.29 129.0,278.54 130.0,278.78 131.0,279.04 132.0,279.29 133.0,279.55 134.0,279.81 135.0,280.08 136.0,280.35 137.0,280.62 138.0,280.90 139.0,281.18 140.0,281.46 141.0,281.75 142.0,282.05 143.0,282.34 144.0,282.64 145.0,282.95 146.0,283.26 147.0,283.57 148.0,283.89 149.0,284.21 150.0,284.54 151.0,284.87 152.0,285.20 153.0,285.54 154.0,285.89 155.0,286.24 156.0,286.59 157.0,286.95 158.0,287.31 159.0,287.67 160.0,288.04 161.0,288.42 162.0,288.80 163.0,289.18 164.0,289.57 165.0,289.96 166.0,290.36 167.0,290.76 168.0,291.16 169.0,291.57 170.0,291.99 171.0,292.41 172.0,292.83 173.0,293.26 174.0,293.69 175.0,294.13 176.0,294.57 177.0,295.01 178.0,295.46 179.0,295.92 180.0,296.38 181.0,296.84 182.0,297.31 183.0,297.78 184.0,298.26 185.0,298.74 186.0,299.22 187.0,299.71 188.0,300.21 189.0,300.71 190.0,301.21 191.0,301.72 192.0,302.23 193.0,302.75 194.0,303.27 195.0,303.80 196.0,304.32 197.0,304.86 198.0,305.39 199.0,305.93 200.0,306.48 201.0,307.02 202.0,307.57 203.0,308.13 204.0,308.68 205.0,309.24 206.0,309.81 207.0,310.37 208.0,310.94 209.0,311.51 210.0,312.08 211.0,312.65 212.0,313.23 213.0,313.80 214.0,314.38 215.0,314.97 216.0,315.55 217.0,316.13 218.0,316.72 219.0,317.30 220.0,317.89 221.0,318.48 222.0,319.07 223.0,319.66 224.0,320.25 225.0,320.84 226.0,321.44 227.0,322.03 228.0,322.63 229.0,323.22 230.0,323.82 231.0,324.42 232.0,325.02 233.0,325.62 234.0,326.22 235.0,326.83 236.0,327.43 237.0,328.03 238.0,328.64 239.0,329.25 240.0,329.86 241.0,330.46 242.0,331.08 243.0,331.69 244.0,332.30 245.0,332.91 246.0,333.53 247.0,334.14 248.0,334.76 249.0,335.38 250.0,336.00 251.0,336.62 252.0,337.24 253.0,337.86 254.0,338.49 255.0,339.12 256.0,339.74 257.0,340.37 258.0,341.01 259.0,341.64 260.0,342.28 261.0,342.91 262.0,343.56 263.0,344.20 264.0,344.84 265.0,345.49 266.0,346.14 267.0,346.80 268.0,347.46 269.0,348.12 270.0,348.78 271.0,349.45 272.0,350.12 273.0,350.79 274.0,351.47 275.0,352.15 276.0,352.84 277.0,353.53 278.0,354.22" fill="none" stroke="#8c564b" stroke-width="1.5" stroke-linejoin="round" clip-path="url(#clipc)"/>
<polyline points="47.0,252.74 48.0,252.86 49.0,252.99 50.0,253.12 51.0,253.26 52.0,253.39 53.0,253.53 54.0,253.67 55.0,253.81 56.0,253.96 57.0,254.11 58.0,254.26 59.0,254.41 60.0,254.57 61.0,254.73 62.0,254.89 63.0,255.05 64.0,255.21 65.0,255.38 66.0,255.55 67.0,255.72 68.0,255.90 69.0,256.08 70.0,256.25 71.0,256.44 72.0,256.62 73.0,256.81 74.0,257.00 75.0,257.19 76.0,257.38 77.0,257.58 78.0,257.78 79.0,257.98 80.0,258.19 81.0,258.39 82.0,258.60 83.0,258.81 84.0,259.03 85.0,259.24 86.0,259.46 87.0,259.68 88.0,259.90 89.0,260.13 90.0,260.36 91.0,260.59 92.0,260.82 93.0,261.06 94.0,261.30 95.0,261.54 96.0,261.78 97.0,262.03 98.0,262.27 99.0,262.52 100.0,262.78 101.0,263.03 102.0,263.29 103.0,263.55 104.0,263.81 105.0,264.08 106.0,264.34 107.0,264.61 108.0,264.89 109.0,265.16 110.0,265.44 111.0,265.72 112.0,266.00 113.0,266.28 114.0,266.57 115.0,266.86 116.0,267.15 117.0,267.45 118.0,267.74 119.0,268.04 120.0,268.34 121.0,268.65 122.0,268.95 123.0,269.26 124.0,269.57 125.0,269.89 126.0,270.20 127.0,270.52 128.0,270.84 129.0,271.17 130.0,271.49 131.0,271.82 132.0,272.15 133.0,272.49 134.0,272.82 135.0,273.16 136.0,273.50 137.0,273.85 138.0,274.19 139.0,274.54 140.0,274.89 141.0,275.24 142.0,275.60 143.0,275.96 144.0,276.32 145.0,276.68 146.0,277.05 147.0,277.41 148.0,277.79 149.0,278.16 150.0,278.53 151.0,278.91 152.0,279.29 153.0,279.67 154.0,280.06 155.0,280.45 156.0,280.84 157.0,281.23 158.0,281.62 159.0,282.02 160.0,282.42 161.0,282.82 162.0,283.23 163.0,283.64 164.0,284.05 165.0,284.46 166.0,284.87 167.0,285.29 168.0,285.71 169.0,286.13 170.0,286.55 171.0,286.98 172.0,287.41 173.0,287.84 174.0,288.27 175.0,288.71 176.0,289.15 177.0,289.59 178.0,290.03 179.0,290.48 180.0,290.93 181.0,291.38 182.0,291.83 183.0,292.29 184.0,292.75 185.0,293.21 186.0,293.67 187.0,294.13 188.0,294.60 189.0,295.07 190.0,295.54 191.0,296.02 192.0,296.50 193.0,296.97 194.0,297.46 195.0,297.94 196.0,298.43 197.0,298.92 198.0,299.41 199.0,299.90 200.0,300.40 201.0,300.90 202.0,301.40 203.0,301.90 204.0,302.40 205.0,302.91 206.0,303.42 207.0,303.94 208.0,304.45 209.0,304.97 210.0,305.49 211.0,306.01 212.0,306.53 213.0,307.06 214.0,307.59 215.0,308.12 216.0,308.65 217.0,309.19 218.0,309.73 219.0,310.27 220.0,310.81 221.0,311.36 222.0,311.90 223.0,312.45 224.0,313.01 225.0,313.56 226.0,314.12 227.0,314.68 228.0,315.24 229.0,315.80 230.0,316.37 231.0,316.94 232.0,317.51 233.0,318.08 234.0,318.66 235.0,319.23 236.0,319.81 237.0,320.40 238.0,320.98 239.0,321.57 240.0,322.16 241.0,322.75 242.0,323.34 243.0,323.94 244.0,324.54 245.0,325.14 246.0,325.74 247.0,326.34 248.0,326.95 249.0,327.56 250.0,328.17 251.0,328.79 252.0,329.40 253.0,330.02 254.0,330.64 255.0,331.27 256.0,331.89 257.0,332.52 258.0,333.15 259.0,333.78 260.0,334.42 261.0,335.05 262.0,335.69 263.0,336.33 264.0,336.98 265.0,337.62 266.0,338.27 267.0,338.92 268.0,339.57 269.0,340.23 270.0,340.88 271.0,341.54 272.0,342.21 273.0,342.87 274.0,343.53 275.0,344.20 276.0,344.87 277.0,345.55 278.0,346.22" fill="none" stroke="#9467bd" stroke-width="1.5" stroke-linejoin="round" clip-path="url(#clipc)"/>
<polyline points="47.0,238.77 48.0,239.22 49.0,239.62 50.0,239.98 51.0,240.28 52.0,240.50 53.0,240.65 54.0,240.75 55.0,240.86 56.0,241.00 57.0,241.21 58.0,241.47 59.0,241.78 60.0,242.13 61.0,242.50 62.0,243.03 63.0,243.69 64.0,244.26 65.0,244.50 66.0,244.50 67.0,244.50 68.0,244.50 69.0,244.54 70.0,244.65 71.0,244.82 72.0,245.03 73.0,245.26 74.0,245.50 75.0,245.80 76.0,246.19 77.0,246.63 78.0,247.08 79.0,247.50 80.0,247.95 81.0,248.44 82.0,248.84 83.0,249.00 84.0,248.87 85.0,248.63 86.0,248.50 87.0,248.70 88.0,249.15 89.0,249.65 90.0,250.00 91.0,250.17 92.0,250.29 93.0,250.38 94.0,250.46 95.0,250.55 96.0,250.65 97.0,250.80 98.0,251.00 99.0,251.49 100.0,252.28 101.0,253.00 102.0,253.61 103.0,254.23 104.0,254.79 105.0,255.24 106.0,255.50 107.0,255.62 108.0,255.70 109.0,255.75 110.0,255.81 111.0,255.88 112.0,256.00 113.0,256.24 114.0,256.63 115.0,257.08 116.0,257.50 117.0,257.88 118.0,258.26 119.0,258.64 120.0,259.00 121.0,259.35 122.0,259.71 123.0,260.05 124.0,260.39 125.0,260.70 126.0,261.00 127.0,261.26 128.0,261.49 129.0,261.73 130.0,262.00 131.0,262.33 132.0,262.71 133.0,263.12 134.0,263.56 135.0,264.00 136.0,264.48 137.0,264.99 138.0,265.52 139.0,266.03 140.0,266.50 141.0,266.91 142.0,267.28 143.0,267.62 144.0,267.96 145.0,268.30 146.0,268.66 147.0,269.05 148.0,269.50 149.0,270.06 150.0,270.72 151.0,271.42 152.0,272.05 153.0,272.57 154.0,272.98 155.0,273.35 156.0,273.70 157.0,274.04 158.0,274.40 159.0,274.79 160.0,275.21 161.0,275.65 162.0,276.10 163.0,276.57 164.0,277.05 165.0,277.54 166.0,278.04 167.0,278.55 168.0,279.07 169.0,279.60 170.0,280.13 171.0,280.67 172.0,281.21 173.0,281.75 174.0,282.27 175.0,282.77 176.0,283.28 177.0,283.78 178.0,284.30 179.0,284.81 180.0,285.32 181.0,285.84 182.0,286.36 183.0,286.89 184.0,287.41 185.0,287.94 186.0,288.48 187.0,289.01 188.0,289.55 189.0,290.09 190.0,290.63 191.0,291.17 192.0,291.72 193.0,292.27 194.0,292.83 195.0,293.38 196.0,293.94 197.0,294.50 198.0,295.06 199.0,295.63 200.0,296.20 201.0,296.77 202.0,297.35 203.0,297.92 204.0,298.50 205.0,299.08 206.0,299.67 207.0,300.26 208.0,300.85 209.0,301.44 210.0,302.04 211.0,302.63 212.0,303.24 213.0,303.84 214.0,304.45 215.0,305.05 216.0,305.67 217.0,306.28 218.0,306.90 219.0,307.52 220.0,308.14 221.0,308.76 222.0,309.39 223.0,310.02 224.0,310.65 225.0,311.29 226.0,311.93 227.0,312.57 228.0,313.21 229.0,313.86 230.0,314.51 231.0,315.16 232.0,315.81 233.0,316.47 234.0,317.13 235.0,317.79 236.0,318.46 237.0,319.12 238.0,319.79 239.0,320.47 240.0,321.14 241.0,321.82 242.0,322.50 243.0,323.19 244.0,323.87 245.0,324.56 246.0,325.25 247.0,325.95 248.0,326.64 249.0,327.34 250.0,328.04 251.0,328.75 252.0,329.46 253.0,330.17 254.0,330.88 255.0,331.60 256.0,332.31 257.0,333.03 258.0,333.76 259.0,334.48 260.0,335.21 261.0,335.94 262.0,336.68 263.0,337.42 264.0,338.15 265.0,338.90 266.0,339.64 267.0,340.39 268.0,341.14 269.0,341.89 270.0,342.65 271.0,343.41 272.0,344.17 273.0,344.93 274.0,345.70 275.0,346.46 276.0,347.24 277.0,348.01 278.0,348.79" fill="none" stroke="#d62728" stroke-width="1.5" stroke-linejoin="round" clip-path="url(#clipc)"/>
<line x1="47" y1="355.48" x2="52.20" y2="355.48" stroke="#000" stroke-width="1.4"/>
<line x1="47" y1="352.20" x2="56.50" y2="352.20" stroke="#000" stroke-width="1.8"/>
<text x="23.60" y="356.70" font-size="12.3" text-anchor="start" fill="#000" textLength="14.09" lengthAdjust="spacingAndGlyphs">10</text>
<text x="39.00" y="352.30" font-size="8.6" text-anchor="start" fill="#000" textLength="4.65" lengthAdjust="spacingAndGlyphs">4</text>
<line x1="47" y1="330.62" x2="52.20" y2="330.62" stroke="#000" stroke-width="1.4"/>
<line x1="47" y1="317.99" x2="52.20" y2="317.99" stroke="#000" stroke-width="1.4"/>
<line x1="47" y1="309.03" x2="52.20" y2="309.03" stroke="#000" stroke-width="1.4"/>
<line x1="47" y1="302.08" x2="52.20" y2="302.08" stroke="#000" stroke-width="1.4"/>
<line x1="47" y1="296.41" x2="52.20" y2="296.41" stroke="#000" stroke-width="1.4"/>
<line x1="47" y1="291.61" x2="52.20" y2="291.61" stroke="#000" stroke-width="1.4"/>
<line x1="47" y1="287.45" x2="52.20" y2="287.45" stroke="#000" stroke-width="1.4"/>
<line x1="47" y1="283.78" x2="52.20" y2="283.78" stroke="#000" stroke-width="1.4"/>
<line x1="47" y1="280.50" x2="56.50" y2="280.50" stroke="#000" stroke-width="1.8"/>
<text x="23.60" y="285.00" font-size="12.3" text-anchor="start" fill="#000" textLength="14.09" lengthAdjust="spacingAndGlyphs">10</text>
<text x="39.00" y="280.60" font-size="8.6" text-anchor="start" fill="#000" textLength="4.65" lengthAdjust="spacingAndGlyphs">5</text>
<line x1="47" y1="258.92" x2="52.20" y2="258.92" stroke="#000" stroke-width="1.4"/>
<line x1="47" y1="246.29" x2="52.20" y2="246.29" stroke="#000" stroke-width="1.4"/>
<line x1="47" y1="237.33" x2="52.20" y2="237.33" stroke="#000" stroke-width="1.4"/>
<line x1="47" y1="230.38" x2="52.20" y2="230.38" stroke="#000" stroke-width="1.4"/>
<line x1="47" y1="224.71" x2="52.20" y2="224.71" stroke="#000" stroke-width="1.4"/>
<line x1="47" y1="219.91" x2="52.20" y2="219.91" stroke="#000" stroke-width="1.4"/>
<line x1="47" y1="215.75" x2="52.20" y2="215.75" stroke="#000" stroke-width="1.4"/>
<line x1="47" y1="212.08" x2="52.20" y2="212.08" stroke="#000" stroke-width="1.4"/>
<line x1="47" y1="208.80" x2="56.50" y2="208.80" stroke="#000" stroke-width="1.8"/>
<text x="23.60" y="213.30" font-size="12.3" text-anchor="start" fill="#000" textLength="14.09" lengthAdjust="spacingAndGlyphs">10</text>
<text x="39.00" y="208.90" font-size="8.6" text-anchor="start" fill="#000" textLength="4.65" lengthAdjust="spacingAndGlyphs">6</text>
<line x1="47" y1="187.22" x2="52.20" y2="187.22" stroke="#000" stroke-width="1.4"/>
<line x1="47.00" y1="356.2" x2="47.00" y2="346.70" stroke="#000" stroke-width="1.8"/>
<text x="37.10" y="368.80" font-size="12.3" text-anchor="start" fill="#000" textLength="14.09" lengthAdjust="spacingAndGlyphs">10</text>
<text x="52.50" y="364.40" font-size="8.6" text-anchor="start" fill="#000" textLength="4.92" lengthAdjust="spacingAndGlyphs">0</text>
<line x1="70.18" y1="356.2" x2="70.18" y2="351.00" stroke="#000" stroke-width="1.4"/>
<line x1="83.74" y1="356.2" x2="83.74" y2="351.00" stroke="#000" stroke-width="1.4"/>
<line x1="93.36" y1="356.2" x2="93.36" y2="351.00" stroke="#000" stroke-width="1.4"/>
<line x1="100.82" y1="356.2" x2="100.82" y2="351.00" stroke="#000" stroke-width="1.4"/>
<line x1="106.92" y1="356.2" x2="106.92" y2="351.00" stroke="#000" stroke-width="1.4"/>
<line x1="112.07" y1="356.2" x2="112.07" y2="351.00" stroke="#000" stroke-width="1.4"/>
<line x1="116.54" y1="356.2" x2="116.54" y2="351.00" stroke="#000" stroke-width="1.4"/>
<line x1="120.48" y1="356.2" x2="120.48" y2="351.00" stroke="#000" stroke-width="1.4"/>
<line x1="124.00" y1="356.2" x2="124.00" y2="346.70" stroke="#000" stroke-width="1.8"/>
<text x="114.10" y="368.80" font-size="12.3" text-anchor="start" fill="#000" textLength="14.09" lengthAdjust="spacingAndGlyphs">10</text>
<text x="129.50" y="364.40" font-size="8.6" text-anchor="start" fill="#000" textLength="4.92" lengthAdjust="spacingAndGlyphs">1</text>
<line x1="147.18" y1="356.2" x2="147.18" y2="351.00" stroke="#000" stroke-width="1.4"/>
<line x1="160.74" y1="356.2" x2="160.74" y2="351.00" stroke="#000" stroke-width="1.4"/>
<line x1="170.36" y1="356.2" x2="170.36" y2="351.00" stroke="#000" stroke-width="1.4"/>
<line x1="177.82" y1="356.2" x2="177.82" y2="351.00" stroke="#000" stroke-width="1.4"/>
<line x1="183.92" y1="356.2" x2="183.92" y2="351.00" stroke="#000" stroke-width="1.4"/>
<line x1="189.07" y1="356.2" x2="189.07" y2="351.00" stroke="#000" stroke-width="1.4"/>
<line x1="193.54" y1="356.2" x2="193.54" y2="351.00" stroke="#000" stroke-width="1.4"/>
<line x1="197.48" y1="356.2" x2="197.48" y2="351.00" stroke="#000" stroke-width="1.4"/>
<line x1="201.00" y1="356.2" x2="201.00" y2="346.70" stroke="#000" stroke-width="1.8"/>
<text x="191.10" y="368.80" font-size="12.3" text-anchor="start" fill="#000" textLength="14.09" lengthAdjust="spacingAndGlyphs">10</text>
<text x="206.50" y="364.40" font-size="8.6" text-anchor="start" fill="#000" textLength="4.92" lengthAdjust="spacingAndGlyphs">2</text>
<line x1="224.18" y1="356.2" x2="224.18" y2="351.00" stroke="#000" stroke-width="1.4"/>
<line x1="237.74" y1="356.2" x2="237.74" y2="351.00" stroke="#000" stroke-width="1.4"/>
<line x1="247.36" y1="356.2" x2="247.36" y2="351.00" stroke="#000" stroke-width="1.4"/>
<line x1="254.82" y1="356.2" x2="254.82" y2="351.00" stroke="#000" stroke-width="1.4"/>
<line x1="260.92" y1="356.2" x2="260.92" y2="351.00" stroke="#000" stroke-width="1.4"/>
<line x1="266.07" y1="356.2" x2="266.07" y2="351.00" stroke="#000" stroke-width="1.4"/>
<line x1="270.54" y1="356.2" x2="270.54" y2="351.00" stroke="#000" stroke-width="1.4"/>
<line x1="274.48" y1="356.2" x2="274.48" y2="351.00" stroke="#000" stroke-width="1.4"/>
<line x1="278.00" y1="356.2" x2="278.00" y2="346.70" stroke="#000" stroke-width="1.8"/>
<text x="268.10" y="368.80" font-size="12.3" text-anchor="start" fill="#000" textLength="14.09" lengthAdjust="spacingAndGlyphs">10</text>
<text x="283.50" y="364.40" font-size="8.6" text-anchor="start" fill="#000" textLength="4.92" lengthAdjust="spacingAndGlyphs">3</text>
<rect x="47" y="183.8" width="231" height="172.39999999999998" fill="none" stroke="#000" stroke-width="1.9"/>
<text x="159.00" y="204.90" font-size="15.9" text-anchor="start" fill="#000" textLength="88.67" lengthAdjust="spacingAndGlyphs">Neck: Sizes</text>
<line x1="65" y1="320.3" x2="89" y2="320.3" stroke="#555" stroke-width="3"/>
<line x1="67.2" y1="334" x2="89" y2="334" stroke="#555" stroke-width="3" stroke-dasharray="3 5.6"/>
<text x="94.60" y="323.70" font-size="9.4" text-anchor="start" fill="#000" textLength="23.26" lengthAdjust="spacingAndGlyphs">9mm</text>
<text x="94.60" y="337.40" font-size="9.4" text-anchor="start" fill="#000" textLength="23.26" lengthAdjust="spacingAndGlyphs">4mm</text>
<line x1="134.7" y1="306.30" x2="147" y2="306.30" stroke="#d62728" stroke-width="2.6"/>
<text x="153.60" y="309.70" font-size="9.4" text-anchor="start" fill="#000" textLength="13.05" lengthAdjust="spacingAndGlyphs">HC</text>
<line x1="134.7" y1="320.10" x2="147" y2="320.10" stroke="#9467bd" stroke-width="2.6"/>
<text x="153.60" y="323.50" font-size="9.4" text-anchor="start" fill="#000" textLength="12.00" lengthAdjust="spacingAndGlyphs">SC</text>
<line x1="134.7" y1="333.90" x2="147" y2="333.90" stroke="#8c564b" stroke-width="2.6"/>
<text x="153.60" y="337.30" font-size="9.4" text-anchor="start" fill="#000" textLength="50.51" lengthAdjust="spacingAndGlyphs">PEDOT:PSS</text>
<text x="20.40" y="191.60" font-size="13.8" text-anchor="start" fill="#000" font-weight="bold" textLength="19.96" lengthAdjust="spacingAndGlyphs">(c)</text>
<polyline points="360.0,281.18 361.0,281.13 362.0,281.08 363.0,281.03 364.0,280.99 365.0,280.94 366.0,280.90 367.0,280.86 368.0,280.83 369.0,280.79 370.0,280.76 371.0,280.72 372.0,280.69 373.0,280.66 374.0,280.64 375.0,280.61 376.0,280.59 377.0,280.57 378.0,280.55 379.0,280.53 380.0,280.51 381.0,280.50 382.0,280.49 383.0,280.48 384.0,280.47 385.0,280.46 386.0,280.46 387.0,280.46 388.0,280.45 389.0,280.46 390.0,280.46 391.0,280.46 392.0,280.47 393.0,280.48 394.0,280.49 395.0,280.51 396.0,280.52 397.0,280.54 398.0,280.56 399.0,280.58 400.0,280.61 401.0,280.63 402.0,280.66 403.0,280.69 404.0,280.72 405.0,280.76 406.0,280.80 407.0,280.83 408.0,280.88 409.0,280.92 410.0,280.97 411.0,281.01 412.0,281.06 413.0,281.12 414.0,281.17 415.0,281.23 416.0,281.29 417.0,281.35 418.0,281.42 419.0,281.48 420.0,281.55 421.0,281.62 422.0,281.70 423.0,281.77 424.0,281.85 425.0,281.93 426.0,282.02 427.0,282.10 428.0,282.19 429.0,282.28 430.0,282.37 431.0,282.47 432.0,282.57 433.0,282.67 434.0,282.77 435.0,282.88 436.0,282.99 437.0,283.10 438.0,283.21 439.0,283.33 440.0,283.45 441.0,283.57 442.0,283.69 443.0,283.82 444.0,283.95 445.0,284.08 446.0,284.22 447.0,284.35 448.0,284.49 449.0,284.64 450.0,284.78 451.0,284.93 452.0,285.08 453.0,285.24 454.0,285.39 455.0,285.55 456.0,285.71 457.0,285.88 458.0,286.05 459.0,286.22 460.0,286.39 461.0,286.57 462.0,286.75 463.0,286.93 464.0,287.12 465.0,287.30 466.0,287.49 467.0,287.69 468.0,287.89 469.0,288.09 470.0,288.29 471.0,288.49 472.0,288.70 473.0,288.92 474.0,289.13 475.0,289.35 476.0,289.57 477.0,289.79 478.0,290.02 479.0,290.25 480.0,290.48 481.0,290.72 482.0,290.96 483.0,291.20 484.0,291.45 485.0,291.70 486.0,291.95 487.0,292.21 488.0,292.46 489.0,292.73 490.0,292.99 491.0,293.26 492.0,293.53 493.0,293.81 494.0,294.08 495.0,294.37 496.0,294.65 497.0,294.94 498.0,295.23 499.0,295.52 500.0,295.82 501.0,296.12 502.0,296.43 503.0,296.74 504.0,297.05 505.0,297.36 506.0,297.68 507.0,298.00 508.0,298.33 509.0,298.66 510.0,298.99 511.0,299.32 512.0,299.66 513.0,300.01 514.0,300.35 515.0,300.70 516.0,301.06 517.0,301.41 518.0,301.77 519.0,302.14 520.0,302.50 521.0,302.88 522.0,303.25 523.0,303.63 524.0,304.01 525.0,304.40 526.0,304.79 527.0,305.18 528.0,305.58 529.0,305.98 530.0,306.38 531.0,306.79 532.0,307.20 533.0,307.62 534.0,308.03 535.0,308.46 536.0,308.88 537.0,309.31 538.0,309.75 539.0,310.19 540.0,310.63 541.0,311.07 542.0,311.52 543.0,311.98 544.0,312.44 545.0,312.90 546.0,313.36 547.0,313.83 548.0,314.30 549.0,314.78 550.0,315.26 551.0,315.75 552.0,316.24 553.0,316.73 554.0,317.23 555.0,317.73 556.0,318.23 557.0,318.74 558.0,319.25 559.0,319.77 560.0,320.29 561.0,320.82 562.0,321.35 563.0,321.88 564.0,322.42 565.0,322.96 566.0,323.51 567.0,324.06 568.0,324.61 569.0,325.17 570.0,325.73 571.0,326.30 572.0,326.87 573.0,327.45 574.0,328.03 575.0,328.61 576.0,329.20 577.0,329.79 578.0,330.39 579.0,330.99 580.0,331.60 581.0,332.21 582.0,332.82 583.0,333.44 584.0,334.06 585.0,334.69 586.0,335.32 587.0,335.96 588.0,336.60 589.0,337.24 590.0,337.89 591.0,338.55" fill="none" stroke="#8c564b" stroke-width="1.5" stroke-dasharray="4.3 2.2" stroke-linejoin="round" clip-path="url(#clipd)"/>
<polyline points="360.0,262.16 361.0,262.49 362.0,262.81 363.0,263.12 364.0,263.44 365.0,263.75 366.0,264.06 367.0,264.36 368.0,264.67 369.0,264.97 370.0,265.27 371.0,265.56 372.0,265.86 373.0,266.15 374.0,266.44 375.0,266.73 376.0,267.01 377.0,267.29 378.0,267.58 379.0,267.85 380.0,268.13 381.0,268.41 382.0,268.68 383.0,268.95 384.0,269.22 385.0,269.48 386.0,269.75 387.0,270.01 388.0,270.28 389.0,270.53 390.0,270.79 391.0,271.05 392.0,271.31 393.0,271.56 394.0,271.81 395.0,272.06 396.0,272.31 397.0,272.56 398.0,272.80 399.0,273.05 400.0,273.29 401.0,273.54 402.0,273.78 403.0,274.02 404.0,274.26 405.0,274.50 406.0,274.73 407.0,274.97 408.0,275.20 409.0,275.44 410.0,275.67 411.0,275.90 412.0,276.14 413.0,276.37 414.0,276.60 415.0,276.83 416.0,277.06 417.0,277.28 418.0,277.51 419.0,277.74 420.0,277.97 421.0,278.20 422.0,278.43 423.0,278.65 424.0,278.88 425.0,279.11 426.0,279.34 427.0,279.57 428.0,279.79 429.0,280.02 430.0,280.25 431.0,280.48 432.0,280.71 433.0,280.94 434.0,281.17 435.0,281.41 436.0,281.64 437.0,281.87 438.0,282.11 439.0,282.34 440.0,282.58 441.0,282.82 442.0,283.06 443.0,283.30 444.0,283.54 445.0,283.78 446.0,284.03 447.0,284.27 448.0,284.52 449.0,284.77 450.0,285.02 451.0,285.27 452.0,285.52 453.0,285.78 454.0,286.04 455.0,286.30 456.0,286.56 457.0,286.82 458.0,287.09 459.0,287.36 460.0,287.63 461.0,287.90 462.0,288.17 463.0,288.45 464.0,288.73 465.0,289.01 466.0,289.30 467.0,289.59 468.0,289.88 469.0,290.17 470.0,290.47 471.0,290.77 472.0,291.07 473.0,291.38 474.0,291.69 475.0,292.00 476.0,292.31 477.0,292.63 478.0,292.96 479.0,293.28 480.0,293.61 481.0,293.94 482.0,294.28 483.0,294.62 484.0,294.96 485.0,295.31 486.0,295.66 487.0,296.02 488.0,296.38 489.0,296.74 490.0,297.10 491.0,297.47 492.0,297.85 493.0,298.23 494.0,298.61 495.0,298.99 496.0,299.38 497.0,299.78 498.0,300.17 499.0,300.58 500.0,300.98 501.0,301.39 502.0,301.80 503.0,302.22 504.0,302.64 505.0,303.07 506.0,303.50 507.0,303.93 508.0,304.37 509.0,304.81 510.0,305.25 511.0,305.71 512.0,306.16 513.0,306.62 514.0,307.08 515.0,307.55 516.0,308.02 517.0,308.49 518.0,308.97 519.0,309.46 520.0,309.95 521.0,310.44 522.0,310.94 523.0,311.44 524.0,311.94 525.0,312.45 526.0,312.97 527.0,313.49 528.0,314.01 529.0,314.54 530.0,315.07 531.0,315.61 532.0,316.15 533.0,316.70 534.0,317.25 535.0,317.81 536.0,318.37 537.0,318.93 538.0,319.50 539.0,320.08 540.0,320.65 541.0,321.24 542.0,321.83 543.0,322.42 544.0,323.02 545.0,323.62 546.0,324.23 547.0,324.84 548.0,325.46 549.0,326.08 550.0,326.71 551.0,327.34 552.0,327.97 553.0,328.62 554.0,329.26 555.0,329.91 556.0,330.57 557.0,331.23 558.0,331.90 559.0,332.57 560.0,333.25 561.0,333.93 562.0,334.62 563.0,335.31 564.0,336.01 565.0,336.71 566.0,337.42 567.0,338.13 568.0,338.85 569.0,339.57 570.0,340.30 571.0,341.03 572.0,341.77 573.0,342.51 574.0,343.26 575.0,344.02 576.0,344.78 577.0,345.54 578.0,346.32 579.0,347.09 580.0,347.87 581.0,348.66 582.0,349.45 583.0,350.25 584.0,351.06 585.0,351.86 586.0,352.68 587.0,353.50 588.0,354.33 589.0,355.16 590.0,355.99 591.0,356.84" fill="none" stroke="#9467bd" stroke-width="1.5" stroke-dasharray="4.3 2.2" stroke-linejoin="round" clip-path="url(#clipd)"/>
<polyline points="360.0,204.88 361.0,205.13 362.0,205.38 363.0,205.63 364.0,205.88 365.0,206.20 366.0,206.51 367.0,206.82 368.0,207.13 369.0,207.44 370.0,207.74 371.0,208.05 372.0,208.35 373.0,208.54 374.0,208.72 375.0,208.91 376.0,209.10 377.0,209.38 378.0,209.65 379.0,209.93 380.0,210.21 381.0,210.48 382.0,210.74 383.0,211.01 384.0,211.28 385.0,211.54 386.0,211.80 387.0,212.06 388.0,212.32 389.0,212.48 390.0,212.64 391.0,212.80 392.0,212.97 393.0,213.29 394.0,213.62 395.0,213.95 396.0,214.27 397.0,214.50 398.0,214.73 399.0,214.96 400.0,215.19 401.0,215.42 402.0,215.65 403.0,215.87 404.0,216.10 405.0,216.36 406.0,216.62 407.0,216.88 408.0,217.13 409.0,217.42 410.0,217.70 411.0,217.98 412.0,218.27 413.0,218.50 414.0,218.74 415.0,218.98 416.0,219.21 417.0,219.47 418.0,219.72 419.0,219.98 420.0,220.24 421.0,220.57 422.0,220.90 423.0,221.24 424.0,221.57 425.0,221.87 426.0,222.18 427.0,222.48 428.0,222.79 429.0,223.04 430.0,223.30 431.0,223.55 432.0,223.81 433.0,224.13 434.0,224.45 435.0,224.78 436.0,225.10 437.0,225.37 438.0,225.64 439.0,225.92 440.0,226.19 441.0,226.49 442.0,226.78 443.0,227.08 444.0,227.39 445.0,227.69 446.0,228.00 447.0,228.32 448.0,228.63 449.0,228.97 450.0,229.31 451.0,229.66 452.0,230.01 453.0,230.38 454.0,230.75 455.0,231.13 456.0,231.51 457.0,231.83 458.0,232.15 459.0,232.47 460.0,232.80 461.0,233.14 462.0,233.49 463.0,233.83 464.0,234.18 465.0,234.57 466.0,234.95 467.0,235.35 468.0,235.74 469.0,236.12 470.0,236.50 471.0,236.88 472.0,237.27 473.0,237.66 474.0,238.05 475.0,238.45 476.0,238.85 477.0,239.25 478.0,239.66 479.0,240.07 480.0,240.49 481.0,240.90 482.0,241.32 483.0,241.74 484.0,242.16 485.0,242.59 486.0,243.02 487.0,243.45 488.0,243.89 489.0,244.33 490.0,244.77 491.0,245.21 492.0,245.66 493.0,246.11 494.0,246.56 495.0,247.02 496.0,247.47 497.0,247.94 498.0,248.40 499.0,248.87 500.0,249.34 501.0,249.81 502.0,250.29 503.0,250.76 504.0,251.24 505.0,251.73 506.0,252.22 507.0,252.71 508.0,253.20 509.0,253.69 510.0,254.19 511.0,254.69 512.0,255.19 513.0,255.70 514.0,256.21 515.0,256.72 516.0,257.23 517.0,257.75 518.0,258.27 519.0,258.79 520.0,259.32 521.0,259.85 522.0,260.38 523.0,260.91 524.0,261.45 525.0,261.98 526.0,262.52 527.0,263.07 528.0,263.61 529.0,264.16 530.0,264.72 531.0,265.27 532.0,265.83 533.0,266.39 534.0,266.95 535.0,267.51 536.0,268.08 537.0,268.65 538.0,269.22 539.0,269.80 540.0,270.37 541.0,270.95 542.0,271.54 543.0,272.12 544.0,272.71 545.0,273.30 546.0,273.89 547.0,274.49 548.0,275.08 549.0,275.68 550.0,276.29 551.0,276.89 552.0,277.50 553.0,278.11 554.0,278.72 555.0,279.34 556.0,279.95 557.0,280.57 558.0,281.19 559.0,281.82 560.0,282.45 561.0,283.08 562.0,283.71 563.0,284.34 564.0,284.98 565.0,285.62 566.0,286.26 567.0,286.90 568.0,287.55 569.0,288.20 570.0,288.85 571.0,289.50 572.0,290.15 573.0,290.81 574.0,291.47 575.0,292.13 576.0,292.80 577.0,293.47 578.0,294.13 579.0,294.81 580.0,295.48 581.0,296.16 582.0,296.83 583.0,297.51 584.0,298.20 585.0,298.88 586.0,299.57 587.0,300.26 588.0,300.95 589.0,301.64 590.0,302.34 591.0,303.04" fill="none" stroke="#d62728" stroke-width="1.5" stroke-dasharray="4.3 2.2" stroke-linejoin="round" clip-path="url(#clipd)"/>
<polyline points="360.0,266.77 361.0,266.76 362.0,266.76 363.0,266.75 364.0,266.75 365.0,266.75 366.0,266.75 367.0,266.75 368.0,266.75 369.0,266.75 370.0,266.75 371.0,266.75 372.0,266.75 373.0,266.75 374.0,266.75 375.0,266.76 376.0,266.76 377.0,266.77 378.0,266.77 379.0,266.78 380.0,266.79 381.0,266.80 382.0,266.81 383.0,266.82 384.0,266.83 385.0,266.84 386.0,266.85 387.0,266.87 388.0,266.88 389.0,266.90 390.0,266.92 391.0,266.94 392.0,266.96 393.0,266.98 394.0,267.00 395.0,267.03 396.0,267.05 397.0,267.08 398.0,267.10 399.0,267.13 400.0,267.16 401.0,267.19 402.0,267.23 403.0,267.26 404.0,267.30 405.0,267.34 406.0,267.37 407.0,267.41 408.0,267.46 409.0,267.50 410.0,267.55 411.0,267.59 412.0,267.64 413.0,267.69 414.0,267.74 415.0,267.80 416.0,267.85 417.0,267.91 418.0,267.97 419.0,268.03 420.0,268.09 421.0,268.15 422.0,268.22 423.0,268.29 424.0,268.36 425.0,268.43 426.0,268.50 427.0,268.58 428.0,268.66 429.0,268.74 430.0,268.82 431.0,268.91 432.0,268.99 433.0,269.08 434.0,269.17 435.0,269.26 436.0,269.36 437.0,269.46 438.0,269.56 439.0,269.66 440.0,269.76 441.0,269.87 442.0,269.98 443.0,270.09 444.0,270.21 445.0,270.32 446.0,270.44 447.0,270.56 448.0,270.69 449.0,270.82 450.0,270.94 451.0,271.08 452.0,271.21 453.0,271.35 454.0,271.49 455.0,271.63 456.0,271.78 457.0,271.93 458.0,272.08 459.0,272.23 460.0,272.39 461.0,272.55 462.0,272.71 463.0,272.87 464.0,273.04 465.0,273.21 466.0,273.39 467.0,273.56 468.0,273.74 469.0,273.93 470.0,274.11 471.0,274.30 472.0,274.50 473.0,274.69 474.0,274.89 475.0,275.09 476.0,275.30 477.0,275.51 478.0,275.72 479.0,275.93 480.0,276.15 481.0,276.37 482.0,276.60 483.0,276.83 484.0,277.06 485.0,277.30 486.0,277.54 487.0,277.78 488.0,278.02 489.0,278.27 490.0,278.53 491.0,278.78 492.0,279.04 493.0,279.31 494.0,279.58 495.0,279.85 496.0,280.12 497.0,280.40 498.0,280.69 499.0,280.97 500.0,281.26 501.0,281.56 502.0,281.85 503.0,282.16 504.0,282.46 505.0,282.77 506.0,283.09 507.0,283.40 508.0,283.73 509.0,284.05 510.0,284.38 511.0,284.72 512.0,285.05 513.0,285.40 514.0,285.74 515.0,286.09 516.0,286.45 517.0,286.81 518.0,287.17 519.0,287.54 520.0,287.91 521.0,288.29 522.0,288.67 523.0,289.05 524.0,289.44 525.0,289.84 526.0,290.24 527.0,290.64 528.0,291.05 529.0,291.46 530.0,291.88 531.0,292.30 532.0,292.72 533.0,293.15 534.0,293.59 535.0,294.03 536.0,294.47 537.0,294.92 538.0,295.38 539.0,295.84 540.0,296.30 541.0,296.77 542.0,297.24 543.0,297.72 544.0,298.20 545.0,298.69 546.0,299.18 547.0,299.68 548.0,300.18 549.0,300.69 550.0,301.21 551.0,301.72 552.0,302.25 553.0,302.78 554.0,303.31 555.0,303.85 556.0,304.39 557.0,304.94 558.0,305.50 559.0,306.06 560.0,306.62 561.0,307.19 562.0,307.77 563.0,308.35 564.0,308.94 565.0,309.53 566.0,310.13 567.0,310.73 568.0,311.34 569.0,311.95 570.0,312.57 571.0,313.20 572.0,313.83 573.0,314.46 574.0,315.11 575.0,315.75 576.0,316.41 577.0,317.07 578.0,317.73 579.0,318.40 580.0,319.08 581.0,319.76 582.0,320.45 583.0,321.14 584.0,321.84 585.0,322.55 586.0,323.26 587.0,323.98 588.0,324.70 589.0,325.43 590.0,326.17 591.0,326.91" fill="none" stroke="#8c564b" stroke-width="1.5" stroke-linejoin="round" clip-path="url(#clipd)"/>
<polyline points="360.0,203.94 361.0,204.29 362.0,204.63 363.0,204.97 364.0,205.49 365.0,206.00 366.0,206.52 367.0,207.09 368.0,207.66 369.0,208.22 370.0,208.66 371.0,209.09 372.0,209.53 373.0,209.96 374.0,210.40 375.0,210.83 376.0,211.19 377.0,211.54 378.0,211.89 379.0,212.28 380.0,212.66 381.0,213.04 382.0,213.62 383.0,214.20 384.0,214.78 385.0,215.13 386.0,215.47 387.0,215.82 388.0,216.37 389.0,216.93 390.0,217.48 391.0,217.84 392.0,218.20 393.0,218.56 394.0,218.89 395.0,219.22 396.0,219.55 397.0,220.05 398.0,220.55 399.0,221.05 400.0,221.49 401.0,221.94 402.0,222.38 403.0,222.73 404.0,223.09 405.0,223.44 406.0,223.76 407.0,224.08 408.0,224.40 409.0,224.88 410.0,225.35 411.0,225.83 412.0,226.23 413.0,226.63 414.0,227.02 415.0,227.45 416.0,227.87 417.0,228.29 418.0,228.67 419.0,229.05 420.0,229.42 421.0,229.69 422.0,229.96 423.0,230.23 424.0,230.64 425.0,231.05 426.0,231.47 427.0,231.92 428.0,232.38 429.0,232.84 430.0,233.07 431.0,233.30 432.0,233.54 433.0,234.08 434.0,234.62 435.0,235.16 436.0,235.44 437.0,235.73 438.0,236.01 439.0,236.42 440.0,236.83 441.0,237.24 442.0,237.73 443.0,238.22 444.0,238.71 445.0,239.01 446.0,239.32 447.0,239.62 448.0,240.00 449.0,240.38 450.0,240.76 451.0,241.18 452.0,241.60 453.0,242.02 454.0,242.40 455.0,242.78 456.0,243.15 457.0,243.53 458.0,243.90 459.0,244.28 460.0,244.72 461.0,245.16 462.0,245.61 463.0,246.09 464.0,246.57 465.0,247.06 466.0,247.42 467.0,247.78 468.0,248.14 469.0,248.54 470.0,248.94 471.0,249.34 472.0,249.75 473.0,250.17 474.0,250.58 475.0,251.03 476.0,251.47 477.0,251.92 478.0,252.35 479.0,252.77 480.0,253.20 481.0,253.60 482.0,254.00 483.0,254.40 484.0,254.88 485.0,255.37 486.0,255.85 487.0,256.29 488.0,256.74 489.0,257.18 490.0,257.68 491.0,258.18 492.0,258.69 493.0,259.11 494.0,259.53 495.0,259.96 496.0,260.47 497.0,260.98 498.0,261.49 499.0,261.92 500.0,262.35 501.0,262.78 502.0,263.30 503.0,263.83 504.0,264.36 505.0,264.84 506.0,265.32 507.0,265.80 508.0,266.30 509.0,266.81 510.0,267.32 511.0,267.88 512.0,268.44 513.0,269.00 514.0,269.49 515.0,269.98 516.0,270.47 517.0,271.03 518.0,271.59 519.0,272.15 520.0,272.68 521.0,273.22 522.0,273.76 523.0,274.34 524.0,274.93 525.0,275.52 526.0,276.08 527.0,276.64 528.0,277.21 529.0,277.72 530.0,278.24 531.0,278.76 532.0,279.41 533.0,280.06 534.0,280.70 535.0,281.26 536.0,281.81 537.0,282.37 538.0,283.02 539.0,283.67 540.0,284.33 541.0,284.90 542.0,285.47 543.0,286.04 544.0,286.64 545.0,287.24 546.0,287.84 547.0,288.37 548.0,288.90 549.0,289.43 550.0,290.13 551.0,290.84 552.0,291.55 553.0,292.12 554.0,292.70 555.0,293.28 556.0,293.86 557.0,294.45 558.0,295.04 559.0,295.70 560.0,296.37 561.0,297.03 562.0,297.69 563.0,298.34 564.0,298.99 565.0,299.56 566.0,300.13 567.0,300.71 568.0,301.41 569.0,302.12 570.0,302.82 571.0,303.44 572.0,304.06 573.0,304.68 574.0,305.34 575.0,305.99 576.0,306.65 577.0,307.32 578.0,308.00 579.0,308.68 580.0,309.35 581.0,310.02 582.0,310.70 583.0,311.41 584.0,312.13 585.0,312.86 586.0,313.56 587.0,314.27 588.0,314.98 589.0,315.72 590.0,316.46 591.0,317.21" fill="none" stroke="#9467bd" stroke-width="1.5" stroke-linejoin="round" clip-path="url(#clipd)"/>
<polyline points="360.0,185.55 361.0,185.54 362.0,185.90 363.0,186.53 364.0,186.92 365.0,187.29 366.0,187.64 367.0,188.08 368.0,188.52 369.0,188.85 370.0,188.99 371.0,188.89 372.0,188.69 373.0,188.65 374.0,189.50 375.0,190.35 376.0,191.24 377.0,191.07 378.0,191.01 379.0,191.08 380.0,191.52 381.0,192.09 382.0,192.70 383.0,193.11 384.0,193.37 385.0,193.55 386.0,193.97 387.0,194.80 388.0,195.59 389.0,196.24 390.0,196.39 391.0,196.54 392.0,196.70 393.0,196.69 394.0,196.69 395.0,196.71 396.0,196.88 397.0,197.11 398.0,197.36 399.0,197.72 400.0,198.17 401.0,198.64 402.0,199.08 403.0,199.44 404.0,199.81 405.0,200.24 406.0,200.92 407.0,201.59 408.0,202.24 409.0,202.55 410.0,202.83 411.0,203.08 412.0,203.63 413.0,204.22 414.0,204.80 415.0,205.07 416.0,205.14 417.0,205.20 418.0,205.33 419.0,205.59 420.0,205.85 421.0,206.20 422.0,206.86 423.0,207.54 424.0,208.23 425.0,208.11 426.0,208.00 427.0,207.91 428.0,208.06 429.0,208.29 430.0,208.53 431.0,209.09 432.0,209.87 433.0,210.66 434.0,211.13 435.0,211.13 436.0,211.13 437.0,211.30 438.0,212.17 439.0,213.04 440.0,213.92 441.0,214.49 442.0,215.07 443.0,215.64 444.0,216.00 445.0,216.29 446.0,216.59 447.0,216.96 448.0,217.39 449.0,217.81 450.0,218.12 451.0,218.23 452.0,218.35 453.0,218.61 454.0,219.42 455.0,220.24 456.0,221.06 457.0,221.47 458.0,221.87 459.0,222.28 460.0,222.55 461.0,222.78 462.0,223.01 463.0,223.62 464.0,224.48 465.0,225.34 466.0,225.88 467.0,225.95 468.0,226.01 469.0,226.15 470.0,226.57 471.0,226.99 472.0,227.41 473.0,227.87 474.0,228.33 475.0,228.78 476.0,229.41 477.0,230.07 478.0,230.73 479.0,231.29 480.0,231.77 481.0,232.25 482.0,232.72 483.0,233.18 484.0,233.64 485.0,234.09 486.0,234.47 487.0,234.87 488.0,235.27 489.0,235.71 490.0,236.17 491.0,236.63 492.0,237.26 493.0,237.95 494.0,238.65 495.0,239.16 496.0,239.56 497.0,239.96 498.0,240.42 499.0,240.97 500.0,241.53 501.0,242.14 502.0,242.97 503.0,243.81 504.0,244.65 505.0,245.13 506.0,245.61 507.0,246.09 508.0,246.69 509.0,247.32 510.0,247.95 511.0,248.57 512.0,249.19 513.0,249.81 514.0,250.38 515.0,250.88 516.0,251.37 517.0,251.90 518.0,252.51 519.0,253.13 520.0,253.75 521.0,254.47 522.0,255.20 523.0,255.93 524.0,256.47 525.0,256.98 526.0,257.48 527.0,258.11 528.0,258.82 529.0,259.54 530.0,260.20 531.0,260.79 532.0,261.38 533.0,261.96 534.0,262.49 535.0,263.02 536.0,263.55 537.0,264.39 538.0,265.22 539.0,266.06 540.0,266.57 541.0,267.00 542.0,267.43 543.0,268.08 544.0,268.86 545.0,269.65 546.0,270.37 547.0,271.01 548.0,271.64 549.0,272.30 550.0,273.06 551.0,273.82 552.0,274.59 553.0,275.02 554.0,275.45 555.0,275.88 556.0,276.54 557.0,277.25 558.0,277.96 559.0,278.67 560.0,279.37 561.0,280.08 562.0,280.78 563.0,281.47 564.0,282.16 565.0,282.86 566.0,283.59 567.0,284.33 568.0,285.06 569.0,285.68 570.0,286.30 571.0,286.92 572.0,287.56 573.0,288.21 574.0,288.86 575.0,289.58 576.0,290.36 577.0,291.13 578.0,291.91 579.0,292.69 580.0,293.47 581.0,294.17 582.0,294.53 583.0,294.89 584.0,295.26 585.0,296.07 586.0,296.88 587.0,297.70 588.0,298.47 589.0,299.24 590.0,300.00 591.0,300.68" fill="none" stroke="#d62728" stroke-width="1.5" stroke-linejoin="round" clip-path="url(#clipd)"/>
<line x1="360" y1="355.73" x2="365.20" y2="355.73" stroke="#000" stroke-width="1.4"/>
<line x1="360" y1="342.12" x2="365.20" y2="342.12" stroke="#000" stroke-width="1.4"/>
<line x1="360" y1="332.46" x2="365.20" y2="332.46" stroke="#000" stroke-width="1.4"/>
<line x1="360" y1="324.97" x2="365.20" y2="324.97" stroke="#000" stroke-width="1.4"/>
<line x1="360" y1="318.85" x2="365.20" y2="318.85" stroke="#000" stroke-width="1.4"/>
<line x1="360" y1="313.67" x2="365.20" y2="313.67" stroke="#000" stroke-width="1.4"/>
<line x1="360" y1="309.19" x2="365.20" y2="309.19" stroke="#000" stroke-width="1.4"/>
<line x1="360" y1="305.24" x2="365.20" y2="305.24" stroke="#000" stroke-width="1.4"/>
<line x1="360" y1="301.70" x2="369.50" y2="301.70" stroke="#000" stroke-width="1.8"/>
<text x="336.60" y="306.20" font-size="12.3" text-anchor="start" fill="#000" textLength="14.09" lengthAdjust="spacingAndGlyphs">10</text>
<text x="352.00" y="301.80" font-size="8.6" text-anchor="start" fill="#000" textLength="4.65" lengthAdjust="spacingAndGlyphs">6</text>
<line x1="360" y1="278.43" x2="365.20" y2="278.43" stroke="#000" stroke-width="1.4"/>
<line x1="360" y1="264.82" x2="365.20" y2="264.82" stroke="#000" stroke-width="1.4"/>
<line x1="360" y1="255.16" x2="365.20" y2="255.16" stroke="#000" stroke-width="1.4"/>
<line x1="360" y1="247.67" x2="365.20" y2="247.67" stroke="#000" stroke-width="1.4"/>
<line x1="360" y1="241.55" x2="365.20" y2="241.55" stroke="#000" stroke-width="1.4"/>
<line x1="360" y1="236.37" x2="365.20" y2="236.37" stroke="#000" stroke-width="1.4"/>
<line x1="360" y1="231.89" x2="365.20" y2="231.89" stroke="#000" stroke-width="1.4"/>
<line x1="360" y1="227.94" x2="365.20" y2="227.94" stroke="#000" stroke-width="1.4"/>
<line x1="360" y1="224.40" x2="369.50" y2="224.40" stroke="#000" stroke-width="1.8"/>
<text x="336.60" y="228.90" font-size="12.3" text-anchor="start" fill="#000" textLength="14.09" lengthAdjust="spacingAndGlyphs">10</text>
<text x="352.00" y="224.50" font-size="8.6" text-anchor="start" fill="#000" textLength="4.65" lengthAdjust="spacingAndGlyphs">7</text>
<line x1="360" y1="201.13" x2="365.20" y2="201.13" stroke="#000" stroke-width="1.4"/>
<line x1="360" y1="187.52" x2="365.20" y2="187.52" stroke="#000" stroke-width="1.4"/>
<line x1="360.00" y1="356.2" x2="360.00" y2="346.70" stroke="#000" stroke-width="1.8"/>
<text x="350.10" y="368.80" font-size="12.3" text-anchor="start" fill="#000" textLength="14.09" lengthAdjust="spacingAndGlyphs">10</text>
<text x="365.50" y="364.40" font-size="8.6" text-anchor="start" fill="#000" textLength="4.92" lengthAdjust="spacingAndGlyphs">0</text>
<line x1="383.18" y1="356.2" x2="383.18" y2="351.00" stroke="#000" stroke-width="1.4"/>
<line x1="396.74" y1="356.2" x2="396.74" y2="351.00" stroke="#000" stroke-width="1.4"/>
<line x1="406.36" y1="356.2" x2="406.36" y2="351.00" stroke="#000" stroke-width="1.4"/>
<line x1="413.82" y1="356.2" x2="413.82" y2="351.00" stroke="#000" stroke-width="1.4"/>
<line x1="419.92" y1="356.2" x2="419.92" y2="351.00" stroke="#000" stroke-width="1.4"/>
<line x1="425.07" y1="356.2" x2="425.07" y2="351.00" stroke="#000" stroke-width="1.4"/>
<line x1="429.54" y1="356.2" x2="429.54" y2="351.00" stroke="#000" stroke-width="1.4"/>
<line x1="433.48" y1="356.2" x2="433.48" y2="351.00" stroke="#000" stroke-width="1.4"/>
<line x1="437.00" y1="356.2" x2="437.00" y2="346.70" stroke="#000" stroke-width="1.8"/>
<text x="427.10" y="368.80" font-size="12.3" text-anchor="start" fill="#000" textLength="14.09" lengthAdjust="spacingAndGlyphs">10</text>
<text x="442.50" y="364.40" font-size="8.6" text-anchor="start" fill="#000" textLength="4.92" lengthAdjust="spacingAndGlyphs">1</text>
<line x1="460.18" y1="356.2" x2="460.18" y2="351.00" stroke="#000" stroke-width="1.4"/>
<line x1="473.74" y1="356.2" x2="473.74" y2="351.00" stroke="#000" stroke-width="1.4"/>
<line x1="483.36" y1="356.2" x2="483.36" y2="351.00" stroke="#000" stroke-width="1.4"/>
<line x1="490.82" y1="356.2" x2="490.82" y2="351.00" stroke="#000" stroke-width="1.4"/>
<line x1="496.92" y1="356.2" x2="496.92" y2="351.00" stroke="#000" stroke-width="1.4"/>
<line x1="502.07" y1="356.2" x2="502.07" y2="351.00" stroke="#000" stroke-width="1.4"/>
<line x1="506.54" y1="356.2" x2="506.54" y2="351.00" stroke="#000" stroke-width="1.4"/>
<line x1="510.48" y1="356.2" x2="510.48" y2="351.00" stroke="#000" stroke-width="1.4"/>
<line x1="514.00" y1="356.2" x2="514.00" y2="346.70" stroke="#000" stroke-width="1.8"/>
<text x="504.10" y="368.80" font-size="12.3" text-anchor="start" fill="#000" textLength="14.09" lengthAdjust="spacingAndGlyphs">10</text>
<text x="519.50" y="364.40" font-size="8.6" text-anchor="start" fill="#000" textLength="4.92" lengthAdjust="spacingAndGlyphs">2</text>
<line x1="537.18" y1="356.2" x2="537.18" y2="351.00" stroke="#000" stroke-width="1.4"/>
<line x1="550.74" y1="356.2" x2="550.74" y2="351.00" stroke="#000" stroke-width="1.4"/>
<line x1="560.36" y1="356.2" x2="560.36" y2="351.00" stroke="#000" stroke-width="1.4"/>
<line x1="567.82" y1="356.2" x2="567.82" y2="351.00" stroke="#000" stroke-width="1.4"/>
<line x1="573.92" y1="356.2" x2="573.92" y2="351.00" stroke="#000" stroke-width="1.4"/>
<line x1="579.07" y1="356.2" x2="579.07" y2="351.00" stroke="#000" stroke-width="1.4"/>
<line x1="583.54" y1="356.2" x2="583.54" y2="351.00" stroke="#000" stroke-width="1.4"/>
<line x1="587.48" y1="356.2" x2="587.48" y2="351.00" stroke="#000" stroke-width="1.4"/>
<line x1="591.00" y1="356.2" x2="591.00" y2="346.70" stroke="#000" stroke-width="1.8"/>
<text x="581.10" y="368.80" font-size="12.3" text-anchor="start" fill="#000" textLength="14.09" lengthAdjust="spacingAndGlyphs">10</text>
<text x="596.50" y="364.40" font-size="8.6" text-anchor="start" fill="#000" textLength="4.92" lengthAdjust="spacingAndGlyphs">3</text>
<rect x="360" y="183.8" width="231" height="172.39999999999998" fill="none" stroke="#000" stroke-width="1.9"/>
<text x="463.50" y="204.70" font-size="15.9" text-anchor="start" fill="#000" textLength="105.39" lengthAdjust="spacingAndGlyphs">Neck: Shapes</text>
<line x1="377.5" y1="321.3" x2="400.7" y2="321.3" stroke="#555" stroke-width="3"/>
<line x1="378.6" y1="334.9" x2="400.7" y2="334.9" stroke="#555" stroke-width="3" stroke-dasharray="3 5.6"/>
<text x="406.20" y="324.70" font-size="9.4" text-anchor="start" fill="#000" textLength="64.21" lengthAdjust="spacingAndGlyphs">5-Pointed Star</text>
<text x="406.20" y="338.30" font-size="9.4" text-anchor="start" fill="#000" textLength="64.21" lengthAdjust="spacingAndGlyphs">8-Pointed Star</text>
<text x="332.40" y="191.80" font-size="13.8" text-anchor="start" fill="#000" font-weight="bold" textLength="21.59" lengthAdjust="spacingAndGlyphs">(d)</text>
<text x="11.80" y="88.50" font-size="14.0" text-anchor="middle" fill="#000" textLength="39.98" lengthAdjust="spacingAndGlyphs" transform="rotate(-90 11.80 88.50)">CI [Ω]</text>
<text x="11.80" y="270.00" font-size="14.0" text-anchor="middle" fill="#000" textLength="39.98" lengthAdjust="spacingAndGlyphs" transform="rotate(-90 11.80 270.00)">CI [Ω]</text>
<g transform="rotate(-90 324.40 127.47)">
<text x="324.40" y="127.47" font-size="14.0" text-anchor="start" fill="#000" textLength="66.24" lengthAdjust="spacingAndGlyphs">CI [Ω mm</text>
<text x="390.64" y="122.87" font-size="9.799999999999999" text-anchor="start" fill="#000" textLength="6.24" lengthAdjust="spacingAndGlyphs">2</text>
<text x="396.88" y="127.47" font-size="14.0" text-anchor="start" fill="#000" textLength="5.46" lengthAdjust="spacingAndGlyphs">]</text>
</g>
<g transform="rotate(-90 324.40 308.97)">
<text x="324.40" y="308.97" font-size="14.0" text-anchor="start" fill="#000" textLength="66.24" lengthAdjust="spacingAndGlyphs">CI [Ω mm</text>
<text x="390.64" y="304.37" font-size="9.799999999999999" text-anchor="start" fill="#000" textLength="6.24" lengthAdjust="spacingAndGlyphs">2</text>
<text x="396.88" y="308.97" font-size="14.0" text-anchor="start" fill="#000" textLength="5.46" lengthAdjust="spacingAndGlyphs">]</text>
</g>
<text x="309.80" y="394.90" font-size="14.0" text-anchor="middle" fill="#000" textLength="104.61" lengthAdjust="spacingAndGlyphs">Frequency [Hz]</text>
</svg>
</body></html>
